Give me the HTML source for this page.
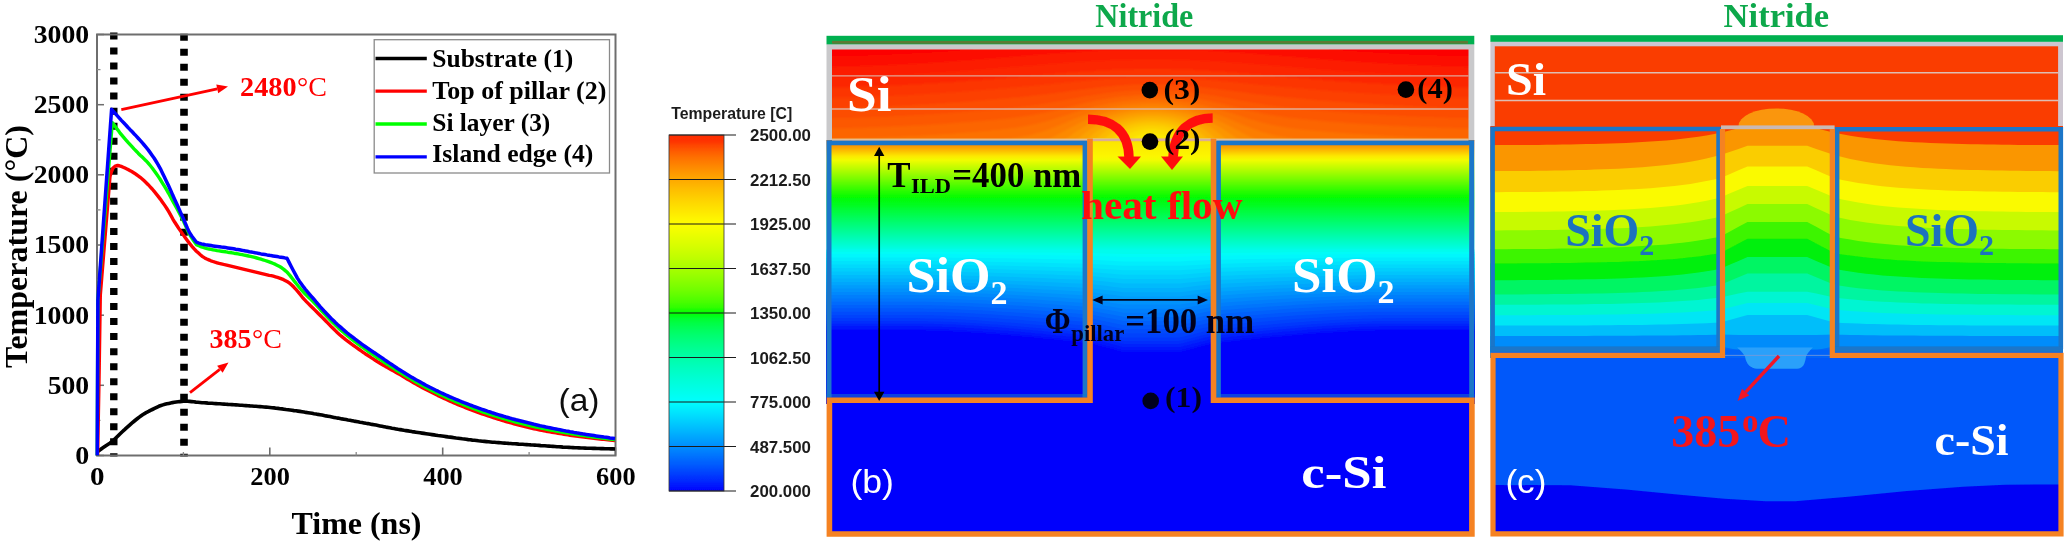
<!DOCTYPE html>
<html><head><meta charset="utf-8"><title>figure</title>
<style>
html,body{margin:0;padding:0;background:#fff;}
body{width:2066px;height:542px;overflow:hidden;font-family:"Liberation Sans",sans-serif;}
svg{display:block;}
</style></head><body>
<svg width="2066" height="542" viewBox="0 0 2066 542">
<defs><filter id="soft" filterUnits="userSpaceOnUse" x="-10" y="-10" width="2086" height="562"><feGaussianBlur stdDeviation="0.6"/></filter></defs>
<rect x="-10" y="-10" width="2086" height="562" fill="#ffffff"/>
<g filter="url(#soft)">
<rect x="-10" y="-10" width="2086" height="562" fill="#ffffff"/>
<line x1="113.8" y1="32.5" x2="113.8" y2="456.5" stroke="#000" stroke-width="7.4" stroke-dasharray="7 8.03"/>
<line x1="184.0" y1="33.8" x2="184.0" y2="456.5" stroke="#000" stroke-width="7.6" stroke-dasharray="7 8"/>
<rect x="97.0" y="34.5" width="518.5" height="421.0" fill="none" stroke="#6e6e6e" stroke-width="2"/>
<line x1="97.0" y1="455.5" x2="104.0" y2="455.5" stroke="#6e6e6e" stroke-width="1.5"/>
<line x1="97.0" y1="385.3" x2="104.0" y2="385.3" stroke="#6e6e6e" stroke-width="1.5"/>
<line x1="97.0" y1="315.2" x2="104.0" y2="315.2" stroke="#6e6e6e" stroke-width="1.5"/>
<line x1="97.0" y1="245.0" x2="104.0" y2="245.0" stroke="#6e6e6e" stroke-width="1.5"/>
<line x1="97.0" y1="174.8" x2="104.0" y2="174.8" stroke="#6e6e6e" stroke-width="1.5"/>
<line x1="97.0" y1="104.7" x2="104.0" y2="104.7" stroke="#6e6e6e" stroke-width="1.5"/>
<line x1="97.0" y1="34.5" x2="104.0" y2="34.5" stroke="#6e6e6e" stroke-width="1.5"/>
<line x1="97.0" y1="420.4" x2="100.5" y2="420.4" stroke="#8a8a8a" stroke-width="1.3"/>
<line x1="97.0" y1="350.2" x2="100.5" y2="350.2" stroke="#8a8a8a" stroke-width="1.3"/>
<line x1="97.0" y1="280.1" x2="100.5" y2="280.1" stroke="#8a8a8a" stroke-width="1.3"/>
<line x1="97.0" y1="209.9" x2="100.5" y2="209.9" stroke="#8a8a8a" stroke-width="1.3"/>
<line x1="97.0" y1="139.8" x2="100.5" y2="139.8" stroke="#8a8a8a" stroke-width="1.3"/>
<line x1="97.0" y1="69.6" x2="100.5" y2="69.6" stroke="#8a8a8a" stroke-width="1.3"/>
<line x1="97.0" y1="455.5" x2="97.0" y2="447.5" stroke="#6e6e6e" stroke-width="1.6"/>
<line x1="269.8" y1="455.5" x2="269.8" y2="447.5" stroke="#6e6e6e" stroke-width="1.6"/>
<line x1="442.7" y1="455.5" x2="442.7" y2="447.5" stroke="#6e6e6e" stroke-width="1.6"/>
<line x1="615.5" y1="455.5" x2="615.5" y2="447.5" stroke="#6e6e6e" stroke-width="1.6"/>
<line x1="183.4" y1="455.5" x2="183.4" y2="452.0" stroke="#8a8a8a" stroke-width="1.3"/>
<line x1="356.2" y1="455.5" x2="356.2" y2="452.0" stroke="#8a8a8a" stroke-width="1.3"/>
<line x1="529.1" y1="455.5" x2="529.1" y2="452.0" stroke="#8a8a8a" stroke-width="1.3"/>
<path d="M97.0,452.0 L98.8,450.7 L100.5,449.5 L102.2,448.2 L104.0,447.0 L105.9,445.7 L107.8,444.5 L109.8,443.2 L111.7,441.8 L113.8,440.1 L115.8,438.1 L117.9,436.0 L119.9,434.0 L122.0,432.0 L124.0,430.2 L125.9,428.4 L127.9,426.6 L129.9,424.8 L131.8,423.1 L133.8,421.5 L135.6,420.0 L137.5,418.5 L139.3,417.1 L141.2,415.7 L143.0,414.5 L144.9,413.4 L146.7,412.3 L148.6,411.4 L150.4,410.4 L152.3,409.5 L154.5,408.4 L156.7,407.3 L158.8,406.3 L161.0,405.5 L162.9,404.9 L164.9,404.3 L166.8,403.8 L168.8,403.4 L170.7,403.0 L172.5,402.6 L174.3,402.3 L176.2,402.0 L178.0,401.8 L179.9,401.6 L181.8,401.4 L183.6,401.3 L185.5,401.2 L187.6,401.3 L189.6,401.4 L191.7,401.6 L193.8,401.8 L195.9,402.1 L197.9,402.3 L200.0,402.5 L202.0,402.7 L204.0,402.8 L206.0,402.9 L208.0,403.1 L210.0,403.2 L212.0,403.3 L214.0,403.5 L216.0,403.6 L218.0,403.7 L220.0,403.8 L222.0,404.0 L224.0,404.1 L226.0,404.2 L228.0,404.4 L230.0,404.5 L232.0,404.6 L234.0,404.8 L236.0,404.9 L238.0,405.0 L240.0,405.2 L242.0,405.3 L244.0,405.5 L246.0,405.6 L248.0,405.7 L250.0,405.9 L252.0,406.0 L254.0,406.2 L256.0,406.3 L258.0,406.5 L260.0,406.6 L262.0,406.8 L264.0,407.0 L266.0,407.1 L268.0,407.3 L270.0,407.5 L272.0,407.7 L274.0,407.9 L276.0,408.2 L278.0,408.4 L280.0,408.7 L282.0,408.9 L284.0,409.2 L286.0,409.5 L288.0,409.7 L290.0,410.0 L292.0,410.3 L294.0,410.6 L296.0,410.8 L298.0,411.1 L300.0,411.4 L302.0,411.7 L304.0,412.0 L306.0,412.4 L308.0,412.7 L310.0,413.0 L312.0,413.3 L314.0,413.7 L316.0,414.0 L318.0,414.4 L320.0,414.7 L322.0,415.1 L324.0,415.5 L326.0,415.9 L328.0,416.2 L330.0,416.6 L332.0,417.0 L334.0,417.4 L336.0,417.8 L338.0,418.1 L340.0,418.5 L342.0,418.9 L344.0,419.2 L346.0,419.6 L348.0,420.0 L350.0,420.3 L352.0,420.7 L354.0,421.1 L356.0,421.4 L358.0,421.8 L360.0,422.2 L362.0,422.5 L364.0,422.9 L366.0,423.3 L368.0,423.6 L370.0,424.0 L372.0,424.4 L374.0,424.7 L376.0,425.1 L378.0,425.5 L380.0,425.9 L382.0,426.3 L384.0,426.7 L386.0,427.1 L388.0,427.4 L390.0,427.8 L392.0,428.2 L394.0,428.5 L396.0,428.9 L398.0,429.3 L400.0,429.6 L402.0,429.9 L404.0,430.3 L406.0,430.6 L408.0,430.9 L410.0,431.2 L412.0,431.6 L414.0,431.9 L416.0,432.2 L418.0,432.5 L420.0,432.8 L422.0,433.1 L424.0,433.4 L426.0,433.7 L428.0,434.0 L430.0,434.3 L432.0,434.6 L434.0,434.9 L436.0,435.2 L438.0,435.5 L440.0,435.7 L442.0,436.0 L444.0,436.3 L446.0,436.6 L448.0,436.9 L450.1,437.1 L452.1,437.4 L454.1,437.7 L456.1,438.0 L458.2,438.2 L460.2,438.5 L462.2,438.8 L464.2,439.0 L466.2,439.3 L468.3,439.6 L470.3,439.8 L472.3,440.1 L474.3,440.3 L476.4,440.5 L478.4,440.8 L480.4,441.0 L482.4,441.2 L484.5,441.4 L486.5,441.6 L488.5,441.8 L490.5,442.0 L492.5,442.2 L494.5,442.3 L496.6,442.5 L498.6,442.6 L500.6,442.8 L502.6,443.0 L504.6,443.1 L506.6,443.2 L508.6,443.4 L510.6,443.5 L512.7,443.7 L514.7,443.8 L516.7,443.9 L518.7,444.1 L520.7,444.2 L522.7,444.3 L524.7,444.5 L526.8,444.6 L528.8,444.7 L530.8,444.9 L532.8,445.0 L534.8,445.1 L536.8,445.3 L538.8,445.4 L540.8,445.6 L542.8,445.7 L544.9,445.8 L546.9,446.0 L548.9,446.1 L550.9,446.3 L552.9,446.4 L554.9,446.5 L556.9,446.7 L558.9,446.8 L560.9,446.9 L562.9,447.1 L564.9,447.2 L567.0,447.3 L569.0,447.4 L571.0,447.5 L573.0,447.6 L575.0,447.7 L577.0,447.8 L579.0,447.9 L581.0,448.0 L583.0,448.0 L585.0,448.1 L587.0,448.2 L589.0,448.2 L591.0,448.3 L593.0,448.4 L595.0,448.4 L597.0,448.5 L599.0,448.5 L601.0,448.6 L603.0,448.6 L605.0,448.7 L607.0,448.8 L609.0,448.8 L611.0,448.9 L613.0,448.9 L615.0,449.0" fill="none" stroke="#000000" stroke-width="3.6" stroke-linejoin="round" stroke-linecap="butt"/>
<path d="M97.6,455.5 L99.0,380.0 L100.3,295.0 L110.0,176.4 L111.5,171.5 L113.0,168.0 L115.3,166.2 L117.6,165.5 L119.4,165.8 L121.3,166.4 L123.2,167.2 L125.0,168.1 L126.9,169.0 L128.8,169.9 L130.7,170.9 L132.5,172.0 L134.4,173.2 L136.3,174.5 L138.2,175.8 L140.2,177.3 L142.2,179.0 L144.2,180.8 L146.2,182.7 L148.2,184.7 L150.2,186.8 L152.2,189.0 L154.2,191.4 L156.2,193.9 L158.2,196.4 L160.3,199.1 L162.3,201.9 L164.4,204.9 L166.5,208.0 L168.6,211.4 L170.7,215.1 L172.7,218.8 L174.8,222.3 L176.9,225.5 L178.9,228.6 L181.0,231.6 L183.1,234.6 L185.3,237.7 L187.5,240.7 L189.7,243.6 L191.9,246.3 L194.2,248.9 L196.4,251.2 L198.5,253.1 L200.6,255.0 L202.6,256.6 L204.7,257.9 L206.8,259.0 L208.8,259.9 L210.9,260.8 L212.9,261.5 L215.0,262.2 L217.1,262.8 L219.2,263.4 L221.3,263.9 L223.5,264.4 L225.6,264.8 L227.7,265.3 L229.8,265.8 L231.9,266.3 L234.0,266.8 L236.0,267.3 L238.1,267.8 L240.2,268.3 L242.2,268.8 L244.3,269.3 L246.4,269.8 L248.5,270.3 L250.6,270.8 L252.6,271.3 L254.7,271.8 L256.8,272.3 L258.9,272.8 L260.9,273.3 L263.0,273.8 L265.1,274.3 L267.1,274.8 L269.2,275.3 L271.3,275.7 L273.4,276.2 L275.5,276.8 L277.5,277.4 L279.6,278.1 L281.6,278.9 L283.6,279.7 L285.5,280.7 L287.5,281.8 L289.5,283.1 L291.7,285.0 L294.0,287.3 L296.2,289.7 L298.3,292.1 L300.4,294.7 L302.4,297.3 L304.5,299.7 L306.6,301.9 L308.6,303.9 L310.7,306.0 L312.8,308.0 L314.7,309.9 L316.6,311.8 L318.5,313.7 L320.3,315.5 L322.2,317.4 L324.1,319.3 L326.0,321.2 L327.9,323.1 L329.8,325.1 L331.7,327.1 L333.7,329.0 L335.6,330.9 L337.5,332.8 L339.4,334.5 L341.4,336.2 L343.4,337.8 L345.3,339.4 L347.3,340.9 L349.3,342.4 L351.3,343.9 L353.3,345.3 L355.2,346.7 L357.2,348.1 L359.2,349.5 L361.2,350.9 L363.2,352.3 L365.2,353.7 L367.2,355.0 L369.2,356.3 L371.2,357.6 L373.2,358.9 L375.2,360.2 L377.2,361.5 L379.2,362.7 L381.3,364.0 L383.4,365.2 L385.4,366.4 L387.5,367.5 L389.6,368.7 L391.7,369.9 L393.8,371.0 L395.8,372.2 L397.9,373.4 L400.0,374.6 L402.0,375.8 L404.0,377.0 L406.0,378.2 L408.0,379.5 L410.0,380.6 L412.0,381.8 L414.0,383.0 L416.0,384.1 L418.0,385.2 L420.0,386.3 L422.0,387.4 L424.0,388.5 L426.0,389.6 L428.0,390.6 L430.0,391.6 L432.0,392.6 L434.0,393.6 L436.0,394.6 L438.0,395.6 L440.0,396.5 L442.0,397.5 L444.0,398.4 L446.0,399.3 L448.0,400.2 L450.0,401.1 L452.0,402.0 L454.0,402.9 L456.0,403.7 L458.0,404.6 L460.0,405.4 L462.0,406.2 L464.0,407.0 L466.0,407.8 L468.0,408.6 L470.0,409.4 L472.0,410.1 L474.0,410.9 L476.0,411.6 L478.0,412.4 L480.0,413.1 L482.0,413.8 L484.0,414.5 L486.0,415.2 L488.0,415.8 L490.0,416.5 L492.0,417.2 L494.0,417.8 L496.0,418.4 L498.0,419.1 L500.0,419.7 L502.0,420.3 L504.0,420.9 L506.0,421.5 L508.0,422.1 L510.0,422.6 L512.0,423.2 L514.0,423.8 L516.0,424.3 L518.0,424.8 L520.0,425.4 L522.0,425.9 L524.0,426.4 L526.0,426.9 L528.0,427.4 L530.0,427.9 L532.0,428.4 L534.0,428.8 L536.0,429.2 L538.0,429.6 L540.0,430.0 L542.0,430.4 L544.0,430.8 L546.0,431.2 L548.0,431.5 L550.0,431.9 L552.0,432.3 L554.0,432.6 L556.0,432.9 L558.0,433.3 L560.0,433.6 L562.0,433.9 L564.0,434.3 L566.0,434.6 L568.0,434.9 L570.0,435.2 L572.0,435.5 L574.0,435.8 L576.0,436.1 L578.0,436.3 L580.0,436.6 L582.0,436.9 L584.0,437.1 L586.0,437.4 L588.0,437.6 L590.0,437.9 L592.0,438.1 L594.0,438.3 L596.0,438.6 L598.0,438.8 L600.0,439.0 L602.0,439.2 L604.0,439.4 L606.0,439.6 L608.0,439.8 L610.0,440.0 L612.5,440.3 L615.0,440.5" fill="none" stroke="#ff0000" stroke-width="3.4" stroke-linejoin="round" stroke-linecap="butt"/>
<path d="M97.2,455.5 L97.9,300.0 L112.3,122.6 L114.2,125.1 L116.0,127.6 L117.9,130.1 L119.7,132.6 L121.6,134.9 L123.7,137.4 L125.8,139.8 L127.8,142.1 L129.9,144.4 L132.0,146.7 L134.0,148.9 L136.1,151.0 L138.2,153.2 L140.2,155.2 L142.2,157.1 L144.2,159.0 L146.2,160.9 L148.2,163.1 L150.2,165.5 L152.2,168.0 L154.2,170.7 L156.2,173.5 L158.2,176.4 L160.3,179.5 L162.3,182.8 L164.4,186.2 L166.5,189.7 L168.6,193.3 L170.7,197.1 L172.7,200.9 L174.8,204.7 L176.9,208.5 L178.9,212.3 L181.0,216.2 L183.1,220.3 L185.3,225.1 L187.5,230.2 L189.7,234.6 L191.9,238.2 L194.2,241.4 L196.4,244.6 L198.9,245.8 L201.4,246.9 L203.3,247.5 L205.3,248.1 L207.2,248.6 L209.2,249.0 L211.1,249.4 L213.1,249.8 L215.0,250.2 L217.1,250.6 L219.2,250.9 L221.3,251.2 L223.5,251.5 L225.6,251.8 L227.7,252.2 L229.8,252.5 L231.9,252.8 L234.0,253.2 L236.0,253.5 L238.1,253.9 L240.2,254.3 L242.2,254.7 L244.3,255.1 L246.4,255.5 L248.5,256.0 L250.6,256.4 L252.6,256.9 L254.7,257.4 L256.8,258.0 L258.9,258.6 L260.9,259.2 L263.0,259.8 L265.1,260.5 L267.1,261.2 L269.2,261.9 L271.3,262.7 L273.4,263.5 L275.5,264.4 L277.5,265.4 L279.6,266.5 L281.7,267.8 L283.8,269.4 L285.8,271.1 L287.9,273.1 L290.1,275.6 L292.3,278.5 L294.5,281.4 L296.6,284.0 L298.6,286.5 L300.7,289.0 L302.8,291.4 L304.8,293.5 L306.8,295.5 L308.8,297.4 L310.8,299.3 L312.8,301.3 L314.7,303.3 L316.6,305.3 L318.5,307.4 L320.3,309.5 L322.2,311.6 L324.1,313.6 L326.0,315.6 L327.9,317.6 L329.8,319.6 L331.7,321.5 L333.7,323.4 L335.6,325.3 L337.5,327.1 L339.4,328.9 L341.4,330.6 L343.4,332.3 L345.3,334.0 L347.3,335.6 L349.3,337.2 L351.3,338.8 L353.3,340.3 L355.2,341.8 L357.2,343.3 L359.2,344.8 L361.2,346.3 L363.2,347.7 L365.2,349.2 L367.2,350.6 L369.2,352.0 L371.2,353.4 L373.2,354.7 L375.2,356.1 L377.2,357.5 L379.2,358.8 L381.3,360.2 L383.4,361.6 L385.4,363.0 L387.5,364.3 L389.6,365.7 L391.7,367.0 L393.8,368.3 L395.8,369.7 L397.9,371.0 L400.0,372.3 L402.0,373.6 L404.0,374.8 L406.0,376.0 L408.0,377.2 L410.0,378.4 L412.0,379.6 L414.0,380.8 L416.0,381.9 L418.0,383.0 L420.0,384.1 L422.0,385.2 L424.0,386.3 L426.0,387.4 L428.0,388.4 L430.0,389.4 L432.0,390.5 L434.0,391.5 L436.0,392.4 L438.0,393.4 L440.0,394.4 L442.0,395.3 L444.0,396.2 L446.0,397.2 L448.0,398.1 L450.0,399.0 L452.0,399.8 L454.0,400.7 L456.0,401.6 L458.0,402.4 L460.0,403.2 L462.0,404.0 L464.0,404.8 L466.0,405.6 L468.0,406.4 L470.0,407.2 L472.0,407.9 L474.0,408.7 L476.0,409.4 L478.0,410.1 L480.0,410.9 L482.0,411.6 L484.0,412.3 L486.0,412.9 L488.0,413.6 L490.0,414.3 L492.0,414.9 L494.0,415.6 L496.0,416.2 L498.0,416.8 L500.0,417.4 L502.0,418.0 L504.0,418.6 L506.0,419.2 L508.0,419.8 L510.0,420.4 L512.0,420.9 L514.0,421.5 L516.0,422.0 L518.0,422.6 L520.0,423.1 L522.0,423.6 L524.0,424.1 L526.0,424.6 L528.0,425.1 L530.0,425.6 L532.0,426.1 L534.0,426.5 L536.0,427.0 L538.0,427.4 L540.0,427.8 L542.0,428.3 L544.0,428.7 L546.0,429.1 L548.0,429.5 L550.0,429.9 L552.0,430.2 L554.0,430.6 L556.0,431.0 L558.0,431.4 L560.0,431.7 L562.0,432.1 L564.0,432.4 L566.0,432.8 L568.0,433.1 L570.0,433.4 L572.0,433.8 L574.0,434.1 L576.0,434.4 L578.0,434.7 L580.0,435.0 L582.0,435.3 L584.0,435.6 L586.0,435.9 L588.0,436.2 L590.0,436.4 L592.0,436.7 L594.0,437.0 L596.0,437.2 L598.0,437.5 L600.0,437.8 L602.0,438.0 L604.0,438.2 L606.0,438.5 L608.0,438.7 L610.0,439.0 L612.5,439.2 L615.0,439.5" fill="none" stroke="#00ff00" stroke-width="3.4" stroke-linejoin="round" stroke-linecap="butt"/>
<path d="M97.2,455.5 L97.9,300.0 L111.6,109.3 L113.6,111.6 L115.6,113.9 L117.6,116.1 L119.6,118.4 L121.6,120.6 L123.7,122.8 L125.8,125.0 L127.8,127.2 L129.9,129.4 L132.0,131.5 L134.0,133.7 L136.1,135.9 L138.2,138.2 L140.2,140.4 L142.2,142.7 L144.2,145.0 L146.2,147.4 L148.2,149.9 L150.2,152.6 L152.2,155.4 L154.2,158.3 L156.2,161.5 L158.2,164.8 L160.3,168.6 L162.3,172.7 L164.4,177.0 L166.5,181.4 L168.6,185.8 L170.7,190.4 L172.7,195.1 L174.8,199.7 L176.9,204.3 L178.9,208.8 L181.0,213.4 L183.1,218.0 L185.3,223.2 L187.5,228.4 L189.7,232.9 L191.9,236.3 L194.2,239.3 L196.4,242.2 L198.9,243.1 L201.4,243.9 L203.3,244.3 L205.3,244.7 L207.2,245.0 L209.2,245.3 L211.1,245.6 L213.1,245.9 L215.0,246.2 L217.1,246.5 L219.2,246.8 L221.3,247.1 L223.5,247.3 L225.6,247.6 L227.7,247.9 L229.8,248.2 L231.8,248.5 L233.7,248.8 L235.7,249.2 L237.6,249.5 L239.6,249.8 L241.5,250.2 L243.5,250.6 L245.4,250.9 L247.4,251.3 L249.3,251.7 L251.3,252.0 L253.2,252.4 L255.2,252.8 L257.1,253.1 L259.1,253.5 L261.0,253.9 L263.0,254.2 L265.0,254.5 L267.0,254.9 L269.0,255.2 L271.0,255.6 L273.0,255.9 L275.0,256.2 L277.0,256.5 L279.0,256.9 L281.0,257.2 L283.0,257.5 L285.0,257.9 L287.0,258.2 L289.1,262.4 L291.2,266.5 L293.3,270.5 L295.4,274.4 L297.4,278.1 L299.5,281.4 L301.4,284.1 L303.3,286.7 L305.2,289.1 L307.1,291.3 L309.0,293.6 L310.9,295.8 L312.8,298.0 L314.7,300.2 L316.6,302.5 L318.5,304.6 L320.3,306.8 L322.2,308.9 L324.1,311.0 L326.0,313.0 L327.9,315.0 L329.8,317.0 L331.7,318.9 L333.7,320.8 L335.6,322.7 L337.5,324.5 L339.4,326.2 L341.4,327.9 L343.4,329.7 L345.3,331.3 L347.3,333.0 L349.3,334.6 L351.3,336.1 L353.3,337.7 L355.2,339.2 L357.2,340.7 L359.2,342.2 L361.2,343.7 L363.2,345.1 L365.2,346.5 L367.2,347.9 L369.2,349.3 L371.2,350.6 L373.2,352.0 L375.2,353.3 L377.2,354.6 L379.2,356.0 L381.3,357.4 L383.4,358.8 L385.4,360.3 L387.5,361.7 L389.6,363.1 L391.7,364.5 L393.8,365.9 L395.8,367.3 L397.9,368.7 L400.0,370.0 L402.0,371.3 L404.0,372.5 L406.0,373.8 L408.0,375.0 L410.0,376.2 L412.0,377.4 L414.0,378.5 L416.0,379.7 L418.0,380.8 L420.0,381.9 L422.0,383.0 L424.0,384.1 L426.0,385.2 L428.0,386.2 L430.0,387.3 L432.0,388.3 L434.0,389.3 L436.0,390.3 L438.0,391.2 L440.0,392.2 L442.0,393.2 L444.0,394.1 L446.0,395.0 L448.0,395.9 L450.0,396.8 L452.0,397.7 L454.0,398.5 L456.0,399.4 L458.0,400.2 L460.0,401.0 L462.0,401.9 L464.0,402.7 L466.0,403.4 L468.0,404.2 L470.0,405.0 L472.0,405.7 L474.0,406.5 L476.0,407.2 L478.0,407.9 L480.0,408.6 L482.0,409.3 L484.0,410.0 L486.0,410.7 L488.0,411.4 L490.0,412.0 L492.0,412.7 L494.0,413.3 L496.0,414.0 L498.0,414.6 L500.0,415.2 L502.0,415.8 L504.0,416.4 L506.0,417.0 L508.0,417.5 L510.0,418.1 L512.0,418.7 L514.0,419.2 L516.0,419.8 L518.0,420.3 L520.0,420.8 L522.0,421.3 L524.0,421.8 L526.0,422.3 L528.0,422.8 L530.0,423.3 L532.0,423.8 L534.0,424.3 L536.0,424.7 L538.0,425.2 L540.0,425.7 L542.0,426.1 L544.0,426.5 L546.0,427.0 L548.0,427.4 L550.0,427.8 L552.0,428.2 L554.0,428.6 L556.0,429.0 L558.0,429.4 L560.0,429.8 L562.0,430.2 L564.0,430.6 L566.0,431.0 L568.0,431.3 L570.0,431.7 L572.0,432.0 L574.0,432.4 L576.0,432.7 L578.0,433.1 L580.0,433.4 L582.0,433.7 L584.0,434.1 L586.0,434.4 L588.0,434.7 L590.0,435.0 L592.0,435.3 L594.0,435.6 L596.0,435.9 L598.0,436.2 L600.0,436.5 L602.0,436.8 L604.0,437.1 L606.0,437.3 L608.0,437.6 L610.0,437.9 L612.5,438.2 L615.0,438.5" fill="none" stroke="#0000ff" stroke-width="3.5" stroke-linejoin="round" stroke-linecap="butt"/>
<text x="89.2" y="463.8" font-family='"Liberation Serif", serif' font-size="25" font-weight="bold" fill="#000" text-anchor="end" textLength="14" lengthAdjust="spacingAndGlyphs" >0</text>
<text x="89.2" y="393.6" font-family='"Liberation Serif", serif' font-size="25" font-weight="bold" fill="#000" text-anchor="end" textLength="41.5" lengthAdjust="spacingAndGlyphs" >500</text>
<text x="89.2" y="323.5" font-family='"Liberation Serif", serif' font-size="25" font-weight="bold" fill="#000" text-anchor="end" textLength="55.5" lengthAdjust="spacingAndGlyphs" >1000</text>
<text x="89.2" y="253.3" font-family='"Liberation Serif", serif' font-size="25" font-weight="bold" fill="#000" text-anchor="end" textLength="55.5" lengthAdjust="spacingAndGlyphs" >1500</text>
<text x="89.2" y="183.1" font-family='"Liberation Serif", serif' font-size="25" font-weight="bold" fill="#000" text-anchor="end" textLength="55.5" lengthAdjust="spacingAndGlyphs" >2000</text>
<text x="89.2" y="113.0" font-family='"Liberation Serif", serif' font-size="25" font-weight="bold" fill="#000" text-anchor="end" textLength="55.5" lengthAdjust="spacingAndGlyphs" >2500</text>
<text x="89.2" y="42.8" font-family='"Liberation Serif", serif' font-size="25" font-weight="bold" fill="#000" text-anchor="end" textLength="55.5" lengthAdjust="spacingAndGlyphs" >3000</text>
<text x="97.3" y="485" font-family='"Liberation Serif", serif' font-size="26" font-weight="bold" fill="#000" text-anchor="middle" textLength="14.5" lengthAdjust="spacingAndGlyphs" >0</text>
<text x="270.1" y="485" font-family='"Liberation Serif", serif' font-size="26" font-weight="bold" fill="#000" text-anchor="middle" textLength="39.5" lengthAdjust="spacingAndGlyphs" >200</text>
<text x="443.0" y="485" font-family='"Liberation Serif", serif' font-size="26" font-weight="bold" fill="#000" text-anchor="middle" textLength="39.5" lengthAdjust="spacingAndGlyphs" >400</text>
<text x="615.8" y="485" font-family='"Liberation Serif", serif' font-size="26" font-weight="bold" fill="#000" text-anchor="middle" textLength="39.5" lengthAdjust="spacingAndGlyphs" >600</text>
<text x="356.5" y="533.6" font-family='"Liberation Serif", serif' font-size="32" font-weight="bold" fill="#000" text-anchor="middle" textLength="130" lengthAdjust="spacingAndGlyphs" >Time (ns)</text>
<text transform="translate(27,246.5) rotate(-90)" font-family='"Liberation Serif", serif' font-size="32" font-weight="bold" text-anchor="middle" textLength="243" lengthAdjust="spacingAndGlyphs">Temperature (°C)</text>
<rect x="374.2" y="39.7" width="235.3" height="133.3" fill="#fff" stroke="#8a8a8a" stroke-width="1.3"/>
<line x1="375.5" y1="58.5" x2="426.8" y2="58.5" stroke="#000" stroke-width="3.3"/>
<text x="432.3" y="66.8" font-family='"Liberation Serif", serif' font-size="25.5" font-weight="bold" fill="#000" text-anchor="start" textLength="141" lengthAdjust="spacingAndGlyphs" >Substrate (1)</text>
<line x1="375.5" y1="91.2" x2="426.8" y2="91.2" stroke="#ff0000" stroke-width="3.3"/>
<text x="432.3" y="98.7" font-family='"Liberation Serif", serif' font-size="25.5" font-weight="bold" fill="#000" text-anchor="start" textLength="174" lengthAdjust="spacingAndGlyphs" >Top of pillar (2)</text>
<line x1="375.5" y1="124.0" x2="426.8" y2="124.0" stroke="#00ff00" stroke-width="3.3"/>
<text x="432.3" y="130.5" font-family='"Liberation Serif", serif' font-size="25.5" font-weight="bold" fill="#000" text-anchor="start" textLength="118" lengthAdjust="spacingAndGlyphs" >Si layer (3)</text>
<line x1="375.5" y1="156.8" x2="426.8" y2="156.8" stroke="#0000ff" stroke-width="3.3"/>
<text x="432.3" y="162.4" font-family='"Liberation Serif", serif' font-size="25.5" font-weight="bold" fill="#000" text-anchor="start" textLength="161" lengthAdjust="spacingAndGlyphs" >Island edge (4)</text>
<line x1="121.3" y1="109.7" x2="217.3" y2="88.8" stroke="#ff0000" stroke-width="2.8"/>
<polygon points="228.0,86.5 218.2,93.2 216.3,84.4" fill="#ff0000"/>
<line x1="190.0" y1="392.7" x2="219.8" y2="369.3" stroke="#ff0000" stroke-width="2.8"/>
<polygon points="228.5,362.5 222.6,372.8 217.1,365.7" fill="#ff0000"/>
<text x="240" y="95.9" font-family='"Liberation Serif", serif' font-size="28" fill="#ff0000"><tspan font-weight="bold" textLength="56.5" lengthAdjust="spacingAndGlyphs">2480</tspan><tspan font-weight="normal" dx="0.5">°C</tspan></text>
<text x="209.5" y="348" font-family='"Liberation Serif", serif' font-size="28" fill="#ff0000"><tspan font-weight="bold" textLength="42" lengthAdjust="spacingAndGlyphs">385</tspan><tspan font-weight="normal" dx="0.5">°C</tspan></text>
<text x="558.5" y="410.6" font-family='"Liberation Sans", sans-serif' font-size="31.5" font-weight="normal" fill="#111" text-anchor="start" textLength="41" lengthAdjust="spacingAndGlyphs" >(a)</text>
<defs><linearGradient id="cbg" x1="0" y1="0" x2="0" y2="1">
<stop offset="0.0000" stop-color="#fe2f00"/>
<stop offset="0.0156" stop-color="#fe3000"/>
<stop offset="0.0312" stop-color="#fe4900"/>
<stop offset="0.0469" stop-color="#fe5d00"/>
<stop offset="0.0625" stop-color="#fe6f00"/>
<stop offset="0.0781" stop-color="#fe7e00"/>
<stop offset="0.0938" stop-color="#fe8d00"/>
<stop offset="0.1094" stop-color="#fe9b00"/>
<stop offset="0.1250" stop-color="#fea800"/>
<stop offset="0.1406" stop-color="#feb400"/>
<stop offset="0.1562" stop-color="#fec000"/>
<stop offset="0.1719" stop-color="#fecb00"/>
<stop offset="0.1875" stop-color="#fed600"/>
<stop offset="0.2031" stop-color="#fee000"/>
<stop offset="0.2188" stop-color="#feea00"/>
<stop offset="0.2344" stop-color="#fef400"/>
<stop offset="0.2500" stop-color="#fefe00"/>
<stop offset="0.2656" stop-color="#f4fe00"/>
<stop offset="0.2812" stop-color="#eafe00"/>
<stop offset="0.2969" stop-color="#e0fe00"/>
<stop offset="0.3125" stop-color="#d6fe00"/>
<stop offset="0.3281" stop-color="#cbfe00"/>
<stop offset="0.3438" stop-color="#c0fe00"/>
<stop offset="0.3594" stop-color="#b4fe00"/>
<stop offset="0.3750" stop-color="#a8fe00"/>
<stop offset="0.3906" stop-color="#9bfe00"/>
<stop offset="0.4062" stop-color="#8dfe00"/>
<stop offset="0.4219" stop-color="#7efe00"/>
<stop offset="0.4375" stop-color="#6ffe00"/>
<stop offset="0.4531" stop-color="#5dfe00"/>
<stop offset="0.4688" stop-color="#49fe00"/>
<stop offset="0.4844" stop-color="#30fe00"/>
<stop offset="0.5000" stop-color="#00fe00"/>
<stop offset="0.5156" stop-color="#00fe30"/>
<stop offset="0.5312" stop-color="#00fe49"/>
<stop offset="0.5469" stop-color="#00fe5d"/>
<stop offset="0.5625" stop-color="#00fe6f"/>
<stop offset="0.5781" stop-color="#00fe7e"/>
<stop offset="0.5938" stop-color="#00fe8d"/>
<stop offset="0.6094" stop-color="#00fe9b"/>
<stop offset="0.6250" stop-color="#00fea8"/>
<stop offset="0.6406" stop-color="#00feb4"/>
<stop offset="0.6562" stop-color="#00fec0"/>
<stop offset="0.6719" stop-color="#00fecb"/>
<stop offset="0.6875" stop-color="#00fed6"/>
<stop offset="0.7031" stop-color="#00fee0"/>
<stop offset="0.7188" stop-color="#00feea"/>
<stop offset="0.7344" stop-color="#00fef4"/>
<stop offset="0.7500" stop-color="#00fefe"/>
<stop offset="0.7656" stop-color="#00f0fe"/>
<stop offset="0.7812" stop-color="#00e3fe"/>
<stop offset="0.7969" stop-color="#00d5fe"/>
<stop offset="0.8125" stop-color="#00c7fe"/>
<stop offset="0.8281" stop-color="#00b9fe"/>
<stop offset="0.8438" stop-color="#00aafe"/>
<stop offset="0.8594" stop-color="#009cfe"/>
<stop offset="0.8750" stop-color="#008dfe"/>
<stop offset="0.8906" stop-color="#007efe"/>
<stop offset="0.9062" stop-color="#006efe"/>
<stop offset="0.9219" stop-color="#005ffe"/>
<stop offset="0.9375" stop-color="#004efe"/>
<stop offset="0.9531" stop-color="#003dfe"/>
<stop offset="0.9688" stop-color="#002bfe"/>
<stop offset="0.9844" stop-color="#0018fe"/>
<stop offset="1.0000" stop-color="#0000fe"/>
</linearGradient></defs>
<rect x="669.0" y="135.0" width="55.0" height="356.0" fill="url(#cbg)"/>
<line x1="669.0" y1="135.0" x2="736" y2="135.0" stroke="#1a1a1a" stroke-width="1.2"/>
<text x="750" y="141.1" font-family='"Liberation Sans", sans-serif' font-size="17" font-weight="bold" fill="#1c1c1c" text-anchor="start" textLength="61" lengthAdjust="spacingAndGlyphs" >2500.00</text>
<line x1="669.0" y1="179.5" x2="736" y2="179.5" stroke="#1a1a1a" stroke-width="1.2"/>
<text x="750" y="185.6" font-family='"Liberation Sans", sans-serif' font-size="17" font-weight="bold" fill="#1c1c1c" text-anchor="start" textLength="61" lengthAdjust="spacingAndGlyphs" >2212.50</text>
<line x1="669.0" y1="224.0" x2="736" y2="224.0" stroke="#1a1a1a" stroke-width="1.2"/>
<text x="750" y="230.1" font-family='"Liberation Sans", sans-serif' font-size="17" font-weight="bold" fill="#1c1c1c" text-anchor="start" textLength="61" lengthAdjust="spacingAndGlyphs" >1925.00</text>
<line x1="669.0" y1="268.5" x2="736" y2="268.5" stroke="#1a1a1a" stroke-width="1.2"/>
<text x="750" y="274.6" font-family='"Liberation Sans", sans-serif' font-size="17" font-weight="bold" fill="#1c1c1c" text-anchor="start" textLength="61" lengthAdjust="spacingAndGlyphs" >1637.50</text>
<line x1="669.0" y1="313.0" x2="736" y2="313.0" stroke="#1a1a1a" stroke-width="1.2"/>
<text x="750" y="319.1" font-family='"Liberation Sans", sans-serif' font-size="17" font-weight="bold" fill="#1c1c1c" text-anchor="start" textLength="61" lengthAdjust="spacingAndGlyphs" >1350.00</text>
<line x1="669.0" y1="357.5" x2="736" y2="357.5" stroke="#1a1a1a" stroke-width="1.2"/>
<text x="750" y="363.6" font-family='"Liberation Sans", sans-serif' font-size="17" font-weight="bold" fill="#1c1c1c" text-anchor="start" textLength="61" lengthAdjust="spacingAndGlyphs" >1062.50</text>
<line x1="669.0" y1="402.0" x2="736" y2="402.0" stroke="#1a1a1a" stroke-width="1.2"/>
<text x="750" y="408.1" font-family='"Liberation Sans", sans-serif' font-size="17" font-weight="bold" fill="#1c1c1c" text-anchor="start" textLength="61" lengthAdjust="spacingAndGlyphs" >775.000</text>
<line x1="669.0" y1="446.5" x2="736" y2="446.5" stroke="#1a1a1a" stroke-width="1.2"/>
<text x="750" y="452.6" font-family='"Liberation Sans", sans-serif' font-size="17" font-weight="bold" fill="#1c1c1c" text-anchor="start" textLength="61" lengthAdjust="spacingAndGlyphs" >487.500</text>
<line x1="669.0" y1="491.0" x2="736" y2="491.0" stroke="#1a1a1a" stroke-width="1.2"/>
<text x="750" y="497.1" font-family='"Liberation Sans", sans-serif' font-size="17" font-weight="bold" fill="#1c1c1c" text-anchor="start" textLength="61" lengthAdjust="spacingAndGlyphs" >200.000</text>
<rect x="669.0" y="135.0" width="55.0" height="356.0" fill="none" stroke="#333" stroke-width="0.8"/>
<text x="671.2" y="119.2" font-family='"Liberation Sans", sans-serif' font-size="16" font-weight="bold" fill="#1c1c1c" text-anchor="start" textLength="121" lengthAdjust="spacingAndGlyphs" >Temperature [C]</text>
<g id="panel-b">
<rect x="826.5" y="44" width="647.8" height="97" fill="#c9c9cb"/>
<defs><filter id="blr" x="-5%" y="-5%" width="110%" height="110%"><feGaussianBlur stdDeviation="0.9"/></filter><clipPath id="clipSi"><rect x="832" y="49.5" width="636.5" height="90.5"/></clipPath></defs>
<g clip-path="url(#clipSi)"><g filter="url(#blr)">
<rect x="812" y="29.5" width="676.5" height="130.5" fill="#fc0200"/>
<path d="M822,150 L822.0,56.9 L826.0,56.8 L830.0,56.7 L834.0,56.6 L838.0,56.5 L842.0,56.4 L846.0,56.3 L850.0,56.2 L854.0,56.1 L858.0,56.0 L862.0,55.9 L866.0,55.7 L870.0,55.6 L874.0,55.4 L878.0,55.3 L882.0,55.1 L886.0,55.0 L890.1,54.8 L894.1,54.6 L898.1,54.4 L902.1,54.2 L906.1,54.0 L910.1,53.8 L914.1,53.6 L918.1,53.4 L922.1,53.2 L926.1,52.9 L930.1,52.7 L934.1,52.4 L938.1,52.2 L942.1,51.9 L946.1,51.7 L950.1,51.4 L954.1,51.1 L958.1,50.8 L962.1,50.5 L966.1,50.2 L970.1,49.9 L974.1,49.6 L978.1,49.5 L982.1,49.5 L986.1,49.5 L990.1,49.5 L994.1,49.5 L998.1,49.5 L1002.1,49.5 L1006.1,49.5 L1010.1,49.5 L1014.1,49.5 L1018.1,49.5 L1022.2,49.5 L1026.2,49.5 L1030.2,49.5 L1034.2,49.5 L1038.2,49.5 L1042.2,49.5 L1046.2,49.5 L1050.2,49.5 L1054.2,49.5 L1058.2,49.5 L1062.2,49.5 L1066.2,49.5 L1070.2,49.5 L1074.2,49.5 L1078.2,49.5 L1082.2,49.5 L1086.2,49.5 L1090.2,49.5 L1094.2,49.5 L1098.2,49.5 L1102.2,49.5 L1106.2,49.5 L1110.2,49.5 L1114.2,49.5 L1118.2,49.5 L1122.2,49.5 L1126.2,49.5 L1130.2,49.5 L1134.2,49.5 L1138.2,49.5 L1142.2,49.5 L1146.2,49.5 L1150.2,49.5 L1154.3,49.5 L1158.3,49.5 L1162.3,49.5 L1166.3,49.5 L1170.3,49.5 L1174.3,49.5 L1178.3,49.5 L1182.3,49.5 L1186.3,49.5 L1190.3,49.5 L1194.3,49.5 L1198.3,49.5 L1202.3,49.5 L1206.3,49.5 L1210.3,49.5 L1214.3,49.5 L1218.3,49.5 L1222.3,49.5 L1226.3,49.5 L1230.3,49.5 L1234.3,49.5 L1238.3,49.5 L1242.3,49.5 L1246.3,49.5 L1250.3,49.5 L1254.3,49.5 L1258.3,49.5 L1262.3,49.5 L1266.3,49.5 L1270.3,49.5 L1274.3,49.5 L1278.3,49.5 L1282.4,49.5 L1286.4,49.5 L1290.4,49.5 L1294.4,49.5 L1298.4,49.5 L1302.4,49.5 L1306.4,49.5 L1310.4,49.5 L1314.4,49.5 L1318.4,49.5 L1322.4,49.5 L1326.4,49.5 L1330.4,49.7 L1334.4,50.0 L1338.4,50.3 L1342.4,50.6 L1346.4,50.9 L1350.4,51.2 L1354.4,51.5 L1358.4,51.7 L1362.4,52.0 L1366.4,52.3 L1370.4,52.5 L1374.4,52.8 L1378.4,53.0 L1382.4,53.2 L1386.4,53.4 L1390.4,53.7 L1394.4,53.9 L1398.4,54.1 L1402.4,54.3 L1406.4,54.5 L1410.4,54.7 L1414.5,54.8 L1418.5,55.0 L1422.5,55.2 L1426.5,55.3 L1430.5,55.5 L1434.5,55.6 L1438.5,55.8 L1442.5,55.9 L1446.5,56.0 L1450.5,56.1 L1454.5,56.3 L1458.5,56.4 L1462.5,56.5 L1466.5,56.6 L1470.5,56.7 L1474.5,56.7 L1478.5,56.8 L1478.5,150Z" fill="#fc1000"/>
<path d="M822,150 L822.0,67.2 L826.0,67.1 L830.0,67.0 L834.0,66.9 L838.0,66.8 L842.0,66.7 L846.0,66.6 L850.0,66.5 L854.0,66.4 L858.0,66.3 L862.0,66.1 L866.0,66.0 L870.0,65.9 L874.0,65.7 L878.0,65.6 L882.0,65.4 L886.0,65.2 L890.1,65.1 L894.1,64.9 L898.1,64.7 L902.1,64.5 L906.1,64.3 L910.1,64.1 L914.1,63.9 L918.1,63.7 L922.1,63.4 L926.1,63.2 L930.1,63.0 L934.1,62.7 L938.1,62.5 L942.1,62.2 L946.1,61.9 L950.1,61.7 L954.1,61.4 L958.1,61.1 L962.1,60.8 L966.1,60.5 L970.1,60.2 L974.1,59.9 L978.1,59.6 L982.1,59.3 L986.1,59.0 L990.1,58.7 L994.1,58.3 L998.1,58.0 L1002.1,57.7 L1006.1,57.4 L1010.1,57.0 L1014.1,56.7 L1018.1,56.4 L1022.2,56.1 L1026.2,55.7 L1030.2,55.4 L1034.2,55.1 L1038.2,54.8 L1042.2,54.5 L1046.2,54.2 L1050.2,53.8 L1054.2,53.5 L1058.2,53.3 L1062.2,53.0 L1066.2,52.7 L1070.2,52.4 L1074.2,52.2 L1078.2,51.9 L1082.2,51.7 L1086.2,51.4 L1090.2,51.2 L1094.2,51.0 L1098.2,50.8 L1102.2,50.6 L1106.2,50.4 L1110.2,50.3 L1114.2,50.1 L1118.2,50.0 L1122.2,49.8 L1126.2,49.7 L1130.2,49.6 L1134.2,49.6 L1138.2,49.5 L1142.2,49.5 L1146.2,49.5 L1150.2,49.5 L1154.3,49.5 L1158.3,49.5 L1162.3,49.5 L1166.3,49.5 L1170.3,49.6 L1174.3,49.7 L1178.3,49.8 L1182.3,49.9 L1186.3,50.0 L1190.3,50.1 L1194.3,50.3 L1198.3,50.5 L1202.3,50.6 L1206.3,50.8 L1210.3,51.0 L1214.3,51.3 L1218.3,51.5 L1222.3,51.7 L1226.3,52.0 L1230.3,52.2 L1234.3,52.5 L1238.3,52.8 L1242.3,53.0 L1246.3,53.3 L1250.3,53.6 L1254.3,53.9 L1258.3,54.2 L1262.3,54.5 L1266.3,54.9 L1270.3,55.2 L1274.3,55.5 L1278.3,55.8 L1282.4,56.2 L1286.4,56.5 L1290.4,56.8 L1294.4,57.1 L1298.4,57.5 L1302.4,57.8 L1306.4,58.1 L1310.4,58.4 L1314.4,58.8 L1318.4,59.1 L1322.4,59.4 L1326.4,59.7 L1330.4,60.0 L1334.4,60.3 L1338.4,60.6 L1342.4,60.9 L1346.4,61.2 L1350.4,61.5 L1354.4,61.7 L1358.4,62.0 L1362.4,62.3 L1366.4,62.5 L1370.4,62.8 L1374.4,63.0 L1378.4,63.3 L1382.4,63.5 L1386.4,63.7 L1390.4,64.0 L1394.4,64.2 L1398.4,64.4 L1402.4,64.6 L1406.4,64.8 L1410.4,64.9 L1414.5,65.1 L1418.5,65.3 L1422.5,65.5 L1426.5,65.6 L1430.5,65.8 L1434.5,65.9 L1438.5,66.0 L1442.5,66.2 L1446.5,66.3 L1450.5,66.4 L1454.5,66.5 L1458.5,66.6 L1462.5,66.8 L1466.5,66.9 L1470.5,66.9 L1474.5,67.0 L1478.5,67.1 L1478.5,150Z" fill="#fc1c00"/>
<path d="M822,150 L822.0,77.5 L826.0,77.4 L830.0,77.3 L834.0,77.2 L838.0,77.1 L842.0,77.0 L846.0,76.9 L850.0,76.8 L854.0,76.7 L858.0,76.6 L862.0,76.4 L866.0,76.3 L870.0,76.2 L874.0,76.0 L878.0,75.9 L882.0,75.7 L886.0,75.5 L890.1,75.4 L894.1,75.2 L898.1,75.0 L902.1,74.8 L906.1,74.6 L910.1,74.4 L914.1,74.2 L918.1,74.0 L922.1,73.7 L926.1,73.5 L930.1,73.3 L934.1,73.0 L938.1,72.8 L942.1,72.5 L946.1,72.2 L950.1,72.0 L954.1,71.7 L958.1,71.4 L962.1,71.1 L966.1,70.8 L970.1,70.5 L974.1,70.2 L978.1,69.9 L982.1,69.6 L986.1,69.3 L990.1,69.0 L994.1,68.6 L998.1,68.3 L1002.1,68.0 L1006.1,67.7 L1010.1,67.3 L1014.1,67.0 L1018.1,66.7 L1022.2,66.3 L1026.2,66.0 L1030.2,65.7 L1034.2,65.4 L1038.2,65.0 L1042.2,64.7 L1046.2,64.4 L1050.2,64.1 L1054.2,63.8 L1058.2,63.5 L1062.2,63.2 L1066.2,62.9 L1070.2,62.6 L1074.2,62.3 L1078.2,62.1 L1082.2,61.8 L1086.2,61.6 L1090.2,61.3 L1094.2,61.1 L1098.2,60.9 L1102.2,60.7 L1106.2,60.5 L1110.2,60.3 L1114.2,60.2 L1118.2,60.0 L1122.2,59.9 L1126.2,59.8 L1130.2,59.7 L1134.2,59.6 L1138.2,59.5 L1142.2,59.5 L1146.2,59.5 L1150.2,59.4 L1154.3,59.5 L1158.3,59.5 L1162.3,59.5 L1166.3,59.6 L1170.3,59.6 L1174.3,59.7 L1178.3,59.8 L1182.3,59.9 L1186.3,60.1 L1190.3,60.2 L1194.3,60.4 L1198.3,60.6 L1202.3,60.8 L1206.3,61.0 L1210.3,61.2 L1214.3,61.4 L1218.3,61.6 L1222.3,61.9 L1226.3,62.2 L1230.3,62.4 L1234.3,62.7 L1238.3,63.0 L1242.3,63.3 L1246.3,63.6 L1250.3,63.9 L1254.3,64.2 L1258.3,64.5 L1262.3,64.8 L1266.3,65.1 L1270.3,65.4 L1274.3,65.8 L1278.3,66.1 L1282.4,66.4 L1286.4,66.8 L1290.4,67.1 L1294.4,67.4 L1298.4,67.7 L1302.4,68.1 L1306.4,68.4 L1310.4,68.7 L1314.4,69.0 L1318.4,69.4 L1322.4,69.7 L1326.4,70.0 L1330.4,70.3 L1334.4,70.6 L1338.4,70.9 L1342.4,71.2 L1346.4,71.5 L1350.4,71.8 L1354.4,72.0 L1358.4,72.3 L1362.4,72.6 L1366.4,72.8 L1370.4,73.1 L1374.4,73.3 L1378.4,73.6 L1382.4,73.8 L1386.4,74.0 L1390.4,74.2 L1394.4,74.4 L1398.4,74.7 L1402.4,74.9 L1406.4,75.0 L1410.4,75.2 L1414.5,75.4 L1418.5,75.6 L1422.5,75.7 L1426.5,75.9 L1430.5,76.0 L1434.5,76.2 L1438.5,76.3 L1442.5,76.5 L1446.5,76.6 L1450.5,76.7 L1454.5,76.8 L1458.5,76.9 L1462.5,77.0 L1466.5,77.1 L1470.5,77.2 L1474.5,77.3 L1478.5,77.4 L1478.5,150Z" fill="#fc2800"/>
<path d="M822,150 L822.0,87.8 L826.0,87.7 L830.0,87.6 L834.0,87.5 L838.0,87.4 L842.0,87.3 L846.0,87.2 L850.0,87.1 L854.0,87.0 L858.0,86.8 L862.0,86.7 L866.0,86.6 L870.0,86.4 L874.0,86.3 L878.0,86.1 L882.0,86.0 L886.0,85.8 L890.1,85.6 L894.1,85.5 L898.1,85.3 L902.1,85.1 L906.1,84.9 L910.1,84.7 L914.1,84.5 L918.1,84.2 L922.1,84.0 L926.1,83.8 L930.1,83.5 L934.1,83.3 L938.1,83.0 L942.1,82.8 L946.1,82.5 L950.1,82.2 L954.1,82.0 L958.1,81.7 L962.1,81.4 L966.1,81.1 L970.1,80.8 L974.1,80.5 L978.1,80.2 L982.1,79.9 L986.1,79.6 L990.1,79.2 L994.1,78.9 L998.1,78.6 L1002.1,78.3 L1006.1,77.9 L1010.1,77.6 L1014.1,77.3 L1018.1,76.9 L1022.2,76.6 L1026.2,76.2 L1030.2,75.9 L1034.2,75.6 L1038.2,75.2 L1042.2,74.9 L1046.2,74.6 L1050.2,74.2 L1054.2,73.9 L1058.2,73.6 L1062.2,73.3 L1066.2,72.9 L1070.2,72.6 L1074.2,72.3 L1078.2,72.0 L1082.2,71.7 L1086.2,71.4 L1090.2,71.2 L1094.2,70.9 L1098.2,70.7 L1102.2,70.4 L1106.2,70.2 L1110.2,70.0 L1114.2,69.8 L1118.2,69.6 L1122.2,69.5 L1126.2,69.3 L1130.2,69.2 L1134.2,69.1 L1138.2,69.0 L1142.2,69.0 L1146.2,68.9 L1150.2,68.9 L1154.3,68.9 L1158.3,68.9 L1162.3,69.0 L1166.3,69.0 L1170.3,69.1 L1174.3,69.2 L1178.3,69.4 L1182.3,69.5 L1186.3,69.7 L1190.3,69.8 L1194.3,70.0 L1198.3,70.3 L1202.3,70.5 L1206.3,70.7 L1210.3,71.0 L1214.3,71.2 L1218.3,71.5 L1222.3,71.8 L1226.3,72.1 L1230.3,72.4 L1234.3,72.7 L1238.3,73.0 L1242.3,73.3 L1246.3,73.7 L1250.3,74.0 L1254.3,74.3 L1258.3,74.7 L1262.3,75.0 L1266.3,75.3 L1270.3,75.7 L1274.3,76.0 L1278.3,76.3 L1282.4,76.7 L1286.4,77.0 L1290.4,77.3 L1294.4,77.7 L1298.4,78.0 L1302.4,78.3 L1306.4,78.7 L1310.4,79.0 L1314.4,79.3 L1318.4,79.6 L1322.4,80.0 L1326.4,80.3 L1330.4,80.6 L1334.4,80.9 L1338.4,81.2 L1342.4,81.5 L1346.4,81.8 L1350.4,82.0 L1354.4,82.3 L1358.4,82.6 L1362.4,82.9 L1366.4,83.1 L1370.4,83.4 L1374.4,83.6 L1378.4,83.8 L1382.4,84.1 L1386.4,84.3 L1390.4,84.5 L1394.4,84.7 L1398.4,84.9 L1402.4,85.1 L1406.4,85.3 L1410.4,85.5 L1414.5,85.7 L1418.5,85.9 L1422.5,86.0 L1426.5,86.2 L1430.5,86.3 L1434.5,86.5 L1438.5,86.6 L1442.5,86.7 L1446.5,86.9 L1450.5,87.0 L1454.5,87.1 L1458.5,87.2 L1462.5,87.3 L1466.5,87.4 L1470.5,87.5 L1474.5,87.6 L1478.5,87.7 L1478.5,150Z" fill="#fc3400"/>
<path d="M822,150 L822.0,98.0 L826.0,98.0 L830.0,97.9 L834.0,97.8 L838.0,97.7 L842.0,97.6 L846.0,97.5 L850.0,97.4 L854.0,97.2 L858.0,97.1 L862.0,97.0 L866.0,96.9 L870.0,96.7 L874.0,96.6 L878.0,96.4 L882.0,96.3 L886.0,96.1 L890.1,95.9 L894.1,95.7 L898.1,95.6 L902.1,95.4 L906.1,95.2 L910.1,95.0 L914.1,94.7 L918.1,94.5 L922.1,94.3 L926.1,94.1 L930.1,93.8 L934.1,93.6 L938.1,93.3 L942.1,93.1 L946.1,92.8 L950.1,92.5 L954.1,92.2 L958.1,92.0 L962.1,91.7 L966.1,91.4 L970.1,91.1 L974.1,90.8 L978.1,90.5 L982.1,90.1 L986.1,89.8 L990.1,89.5 L994.1,89.2 L998.1,88.8 L1002.1,88.5 L1006.1,88.2 L1010.1,87.8 L1014.1,87.5 L1018.1,87.1 L1022.2,86.8 L1026.2,86.4 L1030.2,86.0 L1034.2,85.7 L1038.2,85.3 L1042.2,84.9 L1046.2,84.6 L1050.2,84.2 L1054.2,83.8 L1058.2,83.4 L1062.2,83.0 L1066.2,82.6 L1070.2,82.2 L1074.2,81.8 L1078.2,81.4 L1082.2,81.1 L1086.2,80.7 L1090.2,80.3 L1094.2,80.0 L1098.2,79.7 L1102.2,79.3 L1106.2,79.0 L1110.2,78.7 L1114.2,78.5 L1118.2,78.2 L1122.2,78.0 L1126.2,77.8 L1130.2,77.7 L1134.2,77.5 L1138.2,77.4 L1142.2,77.3 L1146.2,77.3 L1150.2,77.3 L1154.3,77.3 L1158.3,77.3 L1162.3,77.4 L1166.3,77.5 L1170.3,77.6 L1174.3,77.7 L1178.3,77.9 L1182.3,78.1 L1186.3,78.3 L1190.3,78.6 L1194.3,78.8 L1198.3,79.1 L1202.3,79.4 L1206.3,79.7 L1210.3,80.1 L1214.3,80.4 L1218.3,80.8 L1222.3,81.2 L1226.3,81.5 L1230.3,81.9 L1234.3,82.3 L1238.3,82.7 L1242.3,83.1 L1246.3,83.5 L1250.3,83.9 L1254.3,84.3 L1258.3,84.7 L1262.3,85.0 L1266.3,85.4 L1270.3,85.8 L1274.3,86.1 L1278.3,86.5 L1282.4,86.9 L1286.4,87.2 L1290.4,87.6 L1294.4,87.9 L1298.4,88.3 L1302.4,88.6 L1306.4,88.9 L1310.4,89.3 L1314.4,89.6 L1318.4,89.9 L1322.4,90.2 L1326.4,90.5 L1330.4,90.9 L1334.4,91.2 L1338.4,91.5 L1342.4,91.8 L1346.4,92.0 L1350.4,92.3 L1354.4,92.6 L1358.4,92.9 L1362.4,93.1 L1366.4,93.4 L1370.4,93.6 L1374.4,93.9 L1378.4,94.1 L1382.4,94.4 L1386.4,94.6 L1390.4,94.8 L1394.4,95.0 L1398.4,95.2 L1402.4,95.4 L1406.4,95.6 L1410.4,95.8 L1414.5,96.0 L1418.5,96.1 L1422.5,96.3 L1426.5,96.5 L1430.5,96.6 L1434.5,96.8 L1438.5,96.9 L1442.5,97.0 L1446.5,97.2 L1450.5,97.3 L1454.5,97.4 L1458.5,97.5 L1462.5,97.6 L1466.5,97.7 L1470.5,97.8 L1474.5,97.9 L1478.5,98.0 L1478.5,150Z" fill="#fc4100"/>
<path d="M822,150 L822.0,108.3 L826.0,108.2 L830.0,108.2 L834.0,108.1 L838.0,108.0 L842.0,107.9 L846.0,107.8 L850.0,107.6 L854.0,107.5 L858.0,107.4 L862.0,107.3 L866.0,107.1 L870.0,107.0 L874.0,106.9 L878.0,106.7 L882.0,106.5 L886.0,106.4 L890.1,106.2 L894.1,106.0 L898.1,105.8 L902.1,105.7 L906.1,105.5 L910.1,105.2 L914.1,105.0 L918.1,104.8 L922.1,104.6 L926.1,104.4 L930.1,104.1 L934.1,103.9 L938.1,103.6 L942.1,103.4 L946.1,103.1 L950.1,102.8 L954.1,102.5 L958.1,102.2 L962.1,102.0 L966.1,101.7 L970.1,101.4 L974.1,101.1 L978.1,100.7 L982.1,100.4 L986.1,100.1 L990.1,99.8 L994.1,99.4 L998.1,99.1 L1002.1,98.7 L1006.1,98.4 L1010.1,98.0 L1014.1,97.6 L1018.1,97.3 L1022.2,96.9 L1026.2,96.4 L1030.2,96.0 L1034.2,95.6 L1038.2,95.1 L1042.2,94.7 L1046.2,94.2 L1050.2,93.7 L1054.2,93.2 L1058.2,92.7 L1062.2,92.2 L1066.2,91.7 L1070.2,91.1 L1074.2,90.6 L1078.2,90.1 L1082.2,89.5 L1086.2,89.0 L1090.2,88.5 L1094.2,88.0 L1098.2,87.6 L1102.2,87.1 L1106.2,86.7 L1110.2,86.3 L1114.2,85.9 L1118.2,85.6 L1122.2,85.3 L1126.2,85.1 L1130.2,84.8 L1134.2,84.6 L1138.2,84.5 L1142.2,84.4 L1146.2,84.3 L1150.2,84.3 L1154.3,84.3 L1158.3,84.3 L1162.3,84.4 L1166.3,84.5 L1170.3,84.7 L1174.3,84.9 L1178.3,85.1 L1182.3,85.4 L1186.3,85.7 L1190.3,86.0 L1194.3,86.4 L1198.3,86.8 L1202.3,87.2 L1206.3,87.7 L1210.3,88.2 L1214.3,88.7 L1218.3,89.2 L1222.3,89.7 L1226.3,90.2 L1230.3,90.7 L1234.3,91.3 L1238.3,91.8 L1242.3,92.3 L1246.3,92.8 L1250.3,93.4 L1254.3,93.9 L1258.3,94.3 L1262.3,94.8 L1266.3,95.3 L1270.3,95.7 L1274.3,96.1 L1278.3,96.6 L1282.4,97.0 L1286.4,97.4 L1290.4,97.7 L1294.4,98.1 L1298.4,98.5 L1302.4,98.8 L1306.4,99.2 L1310.4,99.5 L1314.4,99.9 L1318.4,100.2 L1322.4,100.5 L1326.4,100.8 L1330.4,101.1 L1334.4,101.4 L1338.4,101.7 L1342.4,102.0 L1346.4,102.3 L1350.4,102.6 L1354.4,102.9 L1358.4,103.2 L1362.4,103.4 L1366.4,103.7 L1370.4,103.9 L1374.4,104.2 L1378.4,104.4 L1382.4,104.7 L1386.4,104.9 L1390.4,105.1 L1394.4,105.3 L1398.4,105.5 L1402.4,105.7 L1406.4,105.9 L1410.4,106.1 L1414.5,106.3 L1418.5,106.4 L1422.5,106.6 L1426.5,106.8 L1430.5,106.9 L1434.5,107.0 L1438.5,107.2 L1442.5,107.3 L1446.5,107.4 L1450.5,107.6 L1454.5,107.7 L1458.5,107.8 L1462.5,107.9 L1466.5,108.0 L1470.5,108.1 L1474.5,108.2 L1478.5,108.3 L1478.5,150Z" fill="#fc4d00"/>
<path d="M822,150 L822.0,118.6 L826.0,118.5 L830.0,118.4 L834.0,118.3 L838.0,118.3 L842.0,118.2 L846.0,118.0 L850.0,117.9 L854.0,117.8 L858.0,117.7 L862.0,117.6 L866.0,117.4 L870.0,117.3 L874.0,117.1 L878.0,117.0 L882.0,116.8 L886.0,116.7 L890.1,116.5 L894.1,116.3 L898.1,116.1 L902.1,115.9 L906.1,115.7 L910.1,115.5 L914.1,115.3 L918.1,115.1 L922.1,114.9 L926.1,114.6 L930.1,114.4 L934.1,114.2 L938.1,113.9 L942.1,113.6 L946.1,113.4 L950.1,113.1 L954.1,112.8 L958.1,112.5 L962.1,112.2 L966.1,111.9 L970.1,111.6 L974.1,111.3 L978.1,111.0 L982.1,110.7 L986.1,110.3 L990.1,110.0 L994.1,109.7 L998.1,109.3 L1002.1,108.9 L1006.1,108.5 L1010.1,108.1 L1014.1,107.7 L1018.1,107.3 L1022.2,106.8 L1026.2,106.3 L1030.2,105.8 L1034.2,105.3 L1038.2,104.7 L1042.2,104.1 L1046.2,103.5 L1050.2,102.8 L1054.2,102.1 L1058.2,101.4 L1062.2,100.7 L1066.2,100.0 L1070.2,99.2 L1074.2,98.5 L1078.2,97.8 L1082.2,97.0 L1086.2,96.3 L1090.2,95.7 L1094.2,95.0 L1098.2,94.4 L1102.2,93.8 L1106.2,93.2 L1110.2,92.7 L1114.2,92.2 L1118.2,91.8 L1122.2,91.4 L1126.2,91.1 L1130.2,90.8 L1134.2,90.6 L1138.2,90.4 L1142.2,90.2 L1146.2,90.1 L1150.2,90.1 L1154.3,90.1 L1158.3,90.2 L1162.3,90.3 L1166.3,90.4 L1170.3,90.6 L1174.3,90.9 L1178.3,91.2 L1182.3,91.5 L1186.3,91.9 L1190.3,92.4 L1194.3,92.9 L1198.3,93.4 L1202.3,93.9 L1206.3,94.5 L1210.3,95.2 L1214.3,95.8 L1218.3,96.5 L1222.3,97.2 L1226.3,98.0 L1230.3,98.7 L1234.3,99.4 L1238.3,100.2 L1242.3,100.9 L1246.3,101.6 L1250.3,102.3 L1254.3,103.0 L1258.3,103.6 L1262.3,104.3 L1266.3,104.9 L1270.3,105.4 L1274.3,106.0 L1278.3,106.5 L1282.4,106.9 L1286.4,107.4 L1290.4,107.8 L1294.4,108.2 L1298.4,108.6 L1302.4,109.0 L1306.4,109.4 L1310.4,109.8 L1314.4,110.1 L1318.4,110.4 L1322.4,110.8 L1326.4,111.1 L1330.4,111.4 L1334.4,111.7 L1338.4,112.0 L1342.4,112.3 L1346.4,112.6 L1350.4,112.9 L1354.4,113.2 L1358.4,113.4 L1362.4,113.7 L1366.4,114.0 L1370.4,114.2 L1374.4,114.5 L1378.4,114.7 L1382.4,114.9 L1386.4,115.2 L1390.4,115.4 L1394.4,115.6 L1398.4,115.8 L1402.4,116.0 L1406.4,116.2 L1410.4,116.4 L1414.5,116.5 L1418.5,116.7 L1422.5,116.9 L1426.5,117.0 L1430.5,117.2 L1434.5,117.3 L1438.5,117.5 L1442.5,117.6 L1446.5,117.7 L1450.5,117.9 L1454.5,118.0 L1458.5,118.1 L1462.5,118.2 L1466.5,118.3 L1470.5,118.4 L1474.5,118.5 L1478.5,118.5 L1478.5,150Z" fill="#fc5900"/>
<path d="M822,150 L822.0,128.9 L826.0,128.8 L830.0,128.7 L834.0,128.6 L838.0,128.5 L842.0,128.4 L846.0,128.3 L850.0,128.2 L854.0,128.1 L858.0,128.0 L862.0,127.9 L866.0,127.7 L870.0,127.6 L874.0,127.4 L878.0,127.3 L882.0,127.1 L886.0,127.0 L890.1,126.8 L894.1,126.6 L898.1,126.4 L902.1,126.2 L906.1,126.0 L910.1,125.8 L914.1,125.6 L918.1,125.4 L922.1,125.2 L926.1,124.9 L930.1,124.7 L934.1,124.4 L938.1,124.2 L942.1,123.9 L946.1,123.7 L950.1,123.4 L954.1,123.1 L958.1,122.8 L962.1,122.5 L966.1,122.2 L970.1,121.9 L974.1,121.6 L978.1,121.3 L982.1,120.9 L986.1,120.6 L990.1,120.2 L994.1,119.9 L998.1,119.5 L1002.1,119.1 L1006.1,118.7 L1010.1,118.2 L1014.1,117.7 L1018.1,117.2 L1022.2,116.7 L1026.2,116.1 L1030.2,115.4 L1034.2,114.7 L1038.2,114.0 L1042.2,113.2 L1046.2,112.4 L1050.2,111.5 L1054.2,110.6 L1058.2,109.6 L1062.2,108.7 L1066.2,107.7 L1070.2,106.7 L1074.2,105.7 L1078.2,104.7 L1082.2,103.8 L1086.2,102.8 L1090.2,102.0 L1094.2,101.1 L1098.2,100.3 L1102.2,99.6 L1106.2,98.9 L1110.2,98.2 L1114.2,97.6 L1118.2,97.1 L1122.2,96.6 L1126.2,96.2 L1130.2,95.9 L1134.2,95.6 L1138.2,95.3 L1142.2,95.2 L1146.2,95.0 L1150.2,95.0 L1154.3,95.0 L1158.3,95.1 L1162.3,95.2 L1166.3,95.4 L1170.3,95.6 L1174.3,95.9 L1178.3,96.3 L1182.3,96.8 L1186.3,97.2 L1190.3,97.8 L1194.3,98.4 L1198.3,99.1 L1202.3,99.8 L1206.3,100.5 L1210.3,101.3 L1214.3,102.2 L1218.3,103.1 L1222.3,104.0 L1226.3,105.0 L1230.3,106.0 L1234.3,106.9 L1238.3,107.9 L1242.3,108.9 L1246.3,109.9 L1250.3,110.8 L1254.3,111.7 L1258.3,112.6 L1262.3,113.4 L1266.3,114.2 L1270.3,114.9 L1274.3,115.6 L1278.3,116.2 L1282.4,116.8 L1286.4,117.4 L1290.4,117.9 L1294.4,118.3 L1298.4,118.8 L1302.4,119.2 L1306.4,119.6 L1310.4,120.0 L1314.4,120.3 L1318.4,120.7 L1322.4,121.0 L1326.4,121.4 L1330.4,121.7 L1334.4,122.0 L1338.4,122.3 L1342.4,122.6 L1346.4,122.9 L1350.4,123.2 L1354.4,123.5 L1358.4,123.7 L1362.4,124.0 L1366.4,124.3 L1370.4,124.5 L1374.4,124.8 L1378.4,125.0 L1382.4,125.2 L1386.4,125.4 L1390.4,125.7 L1394.4,125.9 L1398.4,126.1 L1402.4,126.3 L1406.4,126.5 L1410.4,126.7 L1414.5,126.8 L1418.5,127.0 L1422.5,127.2 L1426.5,127.3 L1430.5,127.5 L1434.5,127.6 L1438.5,127.8 L1442.5,127.9 L1446.5,128.0 L1450.5,128.1 L1454.5,128.3 L1458.5,128.4 L1462.5,128.5 L1466.5,128.6 L1470.5,128.7 L1474.5,128.7 L1478.5,128.8 L1478.5,150Z" fill="#fc6500"/>
<path d="M822,150 L822.0,139.2 L826.0,139.1 L830.0,139.0 L834.0,138.9 L838.0,138.8 L842.0,138.7 L846.0,138.6 L850.0,138.5 L854.0,138.4 L858.0,138.3 L862.0,138.1 L866.0,138.0 L870.0,137.9 L874.0,137.7 L878.0,137.6 L882.0,137.4 L886.0,137.2 L890.1,137.1 L894.1,136.9 L898.1,136.7 L902.1,136.5 L906.1,136.3 L910.1,136.1 L914.1,135.9 L918.1,135.7 L922.1,135.4 L926.1,135.2 L930.1,135.0 L934.1,134.7 L938.1,134.5 L942.1,134.2 L946.1,133.9 L950.1,133.7 L954.1,133.4 L958.1,133.1 L962.1,132.8 L966.1,132.5 L970.1,132.2 L974.1,131.9 L978.1,131.5 L982.1,131.2 L986.1,130.9 L990.1,130.5 L994.1,130.1 L998.1,129.7 L1002.1,129.3 L1006.1,128.8 L1010.1,128.3 L1014.1,127.8 L1018.1,127.2 L1022.2,126.5 L1026.2,125.8 L1030.2,125.1 L1034.2,124.2 L1038.2,123.3 L1042.2,122.3 L1046.2,121.2 L1050.2,120.0 L1054.2,118.8 L1058.2,117.6 L1062.2,116.3 L1066.2,115.0 L1070.2,113.7 L1074.2,112.4 L1078.2,111.2 L1082.2,109.9 L1086.2,108.8 L1090.2,107.7 L1094.2,106.6 L1098.2,105.6 L1102.2,104.7 L1106.2,103.9 L1110.2,103.1 L1114.2,102.4 L1118.2,101.7 L1122.2,101.2 L1126.2,100.7 L1130.2,100.3 L1134.2,99.9 L1138.2,99.6 L1142.2,99.4 L1146.2,99.3 L1150.2,99.2 L1154.3,99.2 L1158.3,99.3 L1162.3,99.5 L1166.3,99.7 L1170.3,100.0 L1174.3,100.4 L1178.3,100.8 L1182.3,101.3 L1186.3,101.9 L1190.3,102.6 L1194.3,103.3 L1198.3,104.1 L1202.3,105.0 L1206.3,105.9 L1210.3,106.9 L1214.3,108.0 L1218.3,109.1 L1222.3,110.3 L1226.3,111.5 L1230.3,112.8 L1234.3,114.0 L1238.3,115.3 L1242.3,116.6 L1246.3,117.9 L1250.3,119.2 L1254.3,120.3 L1258.3,121.5 L1262.3,122.5 L1266.3,123.5 L1270.3,124.4 L1274.3,125.3 L1278.3,126.0 L1282.4,126.7 L1286.4,127.4 L1290.4,127.9 L1294.4,128.5 L1298.4,128.9 L1302.4,129.4 L1306.4,129.8 L1310.4,130.2 L1314.4,130.6 L1318.4,131.0 L1322.4,131.3 L1326.4,131.6 L1330.4,132.0 L1334.4,132.3 L1338.4,132.6 L1342.4,132.9 L1346.4,133.2 L1350.4,133.5 L1354.4,133.7 L1358.4,134.0 L1362.4,134.3 L1366.4,134.5 L1370.4,134.8 L1374.4,135.0 L1378.4,135.3 L1382.4,135.5 L1386.4,135.7 L1390.4,136.0 L1394.4,136.2 L1398.4,136.4 L1402.4,136.6 L1406.4,136.8 L1410.4,136.9 L1414.5,137.1 L1418.5,137.3 L1422.5,137.5 L1426.5,137.6 L1430.5,137.8 L1434.5,137.9 L1438.5,138.0 L1442.5,138.2 L1446.5,138.3 L1450.5,138.4 L1454.5,138.5 L1458.5,138.6 L1462.5,138.8 L1466.5,138.9 L1470.5,138.9 L1474.5,139.0 L1478.5,139.1 L1478.5,150Z" fill="#fc7100"/>
<path d="M822,150 L822.0,140.0 L826.0,140.0 L830.0,140.0 L834.0,140.0 L838.0,140.0 L842.0,140.0 L846.0,140.0 L850.0,140.0 L854.0,140.0 L858.0,140.0 L862.0,140.0 L866.0,140.0 L870.0,140.0 L874.0,140.0 L878.0,140.0 L882.0,140.0 L886.0,140.0 L890.1,140.0 L894.1,140.0 L898.1,140.0 L902.1,140.0 L906.1,140.0 L910.1,140.0 L914.1,140.0 L918.1,140.0 L922.1,140.0 L926.1,140.0 L930.1,140.0 L934.1,140.0 L938.1,140.0 L942.1,140.0 L946.1,140.0 L950.1,140.0 L954.1,140.0 L958.1,140.0 L962.1,140.0 L966.1,140.0 L970.1,140.0 L974.1,140.0 L978.1,140.0 L982.1,140.0 L986.1,140.0 L990.1,140.0 L994.1,140.0 L998.1,140.0 L1002.1,139.5 L1006.1,139.0 L1010.1,138.5 L1014.1,137.9 L1018.1,137.3 L1022.2,136.6 L1026.2,135.8 L1030.2,134.9 L1034.2,133.9 L1038.2,132.8 L1042.2,131.6 L1046.2,130.2 L1050.2,128.8 L1054.2,127.2 L1058.2,125.6 L1062.2,123.9 L1066.2,122.3 L1070.2,120.6 L1074.2,118.9 L1078.2,117.4 L1082.2,115.8 L1086.2,114.4 L1090.2,113.0 L1094.2,111.7 L1098.2,110.5 L1102.2,109.4 L1106.2,108.4 L1110.2,107.5 L1114.2,106.7 L1118.2,105.9 L1122.2,105.3 L1126.2,104.7 L1130.2,104.2 L1134.2,103.8 L1138.2,103.5 L1142.2,103.2 L1146.2,103.1 L1150.2,103.0 L1154.3,103.0 L1158.3,103.1 L1162.3,103.3 L1166.3,103.6 L1170.3,103.9 L1174.3,104.3 L1178.3,104.8 L1182.3,105.4 L1186.3,106.1 L1190.3,106.9 L1194.3,107.7 L1198.3,108.7 L1202.3,109.7 L1206.3,110.9 L1210.3,112.1 L1214.3,113.4 L1218.3,114.8 L1222.3,116.2 L1226.3,117.8 L1230.3,119.4 L1234.3,121.0 L1238.3,122.7 L1242.3,124.4 L1246.3,126.0 L1250.3,127.6 L1254.3,129.2 L1258.3,130.6 L1262.3,131.9 L1266.3,133.1 L1270.3,134.2 L1274.3,135.2 L1278.3,136.0 L1282.4,136.8 L1286.4,137.5 L1290.4,138.1 L1294.4,138.7 L1298.4,139.2 L1302.4,139.6 L1306.4,140.0 L1310.4,140.0 L1314.4,140.0 L1318.4,140.0 L1322.4,140.0 L1326.4,140.0 L1330.4,140.0 L1334.4,140.0 L1338.4,140.0 L1342.4,140.0 L1346.4,140.0 L1350.4,140.0 L1354.4,140.0 L1358.4,140.0 L1362.4,140.0 L1366.4,140.0 L1370.4,140.0 L1374.4,140.0 L1378.4,140.0 L1382.4,140.0 L1386.4,140.0 L1390.4,140.0 L1394.4,140.0 L1398.4,140.0 L1402.4,140.0 L1406.4,140.0 L1410.4,140.0 L1414.5,140.0 L1418.5,140.0 L1422.5,140.0 L1426.5,140.0 L1430.5,140.0 L1434.5,140.0 L1438.5,140.0 L1442.5,140.0 L1446.5,140.0 L1450.5,140.0 L1454.5,140.0 L1458.5,140.0 L1462.5,140.0 L1466.5,140.0 L1470.5,140.0 L1474.5,140.0 L1478.5,140.0 L1478.5,150Z" fill="#fc7d00"/>
<path d="M822,150 L822.0,140.0 L826.0,140.0 L830.0,140.0 L834.0,140.0 L838.0,140.0 L842.0,140.0 L846.0,140.0 L850.0,140.0 L854.0,140.0 L858.0,140.0 L862.0,140.0 L866.0,140.0 L870.0,140.0 L874.0,140.0 L878.0,140.0 L882.0,140.0 L886.0,140.0 L890.1,140.0 L894.1,140.0 L898.1,140.0 L902.1,140.0 L906.1,140.0 L910.1,140.0 L914.1,140.0 L918.1,140.0 L922.1,140.0 L926.1,140.0 L930.1,140.0 L934.1,140.0 L938.1,140.0 L942.1,140.0 L946.1,140.0 L950.1,140.0 L954.1,140.0 L958.1,140.0 L962.1,140.0 L966.1,140.0 L970.1,140.0 L974.1,140.0 L978.1,140.0 L982.1,140.0 L986.1,140.0 L990.1,140.0 L994.1,140.0 L998.1,140.0 L1002.1,140.0 L1006.1,140.0 L1010.1,140.0 L1014.1,140.0 L1018.1,140.0 L1022.2,140.0 L1026.2,140.0 L1030.2,140.0 L1034.2,140.0 L1038.2,140.0 L1042.2,140.0 L1046.2,139.9 L1050.2,138.2 L1054.2,136.3 L1058.2,134.2 L1062.2,132.1 L1066.2,129.9 L1070.2,127.8 L1074.2,125.7 L1078.2,123.6 L1082.2,121.7 L1086.2,119.9 L1090.2,118.2 L1094.2,116.7 L1098.2,115.2 L1102.2,113.9 L1106.2,112.7 L1110.2,111.6 L1114.2,110.7 L1118.2,109.8 L1122.2,109.1 L1126.2,108.4 L1130.2,107.8 L1134.2,107.4 L1138.2,107.0 L1142.2,106.8 L1146.2,106.6 L1150.2,106.5 L1154.3,106.5 L1158.3,106.6 L1162.3,106.8 L1166.3,107.1 L1170.3,107.5 L1174.3,108.0 L1178.3,108.6 L1182.3,109.2 L1186.3,110.0 L1190.3,110.9 L1194.3,111.9 L1198.3,113.0 L1202.3,114.3 L1206.3,115.6 L1210.3,117.1 L1214.3,118.7 L1218.3,120.4 L1222.3,122.2 L1226.3,124.2 L1230.3,126.2 L1234.3,128.4 L1238.3,130.5 L1242.3,132.7 L1246.3,134.8 L1250.3,136.8 L1254.3,138.7 L1258.3,140.0 L1262.3,140.0 L1266.3,140.0 L1270.3,140.0 L1274.3,140.0 L1278.3,140.0 L1282.4,140.0 L1286.4,140.0 L1290.4,140.0 L1294.4,140.0 L1298.4,140.0 L1302.4,140.0 L1306.4,140.0 L1310.4,140.0 L1314.4,140.0 L1318.4,140.0 L1322.4,140.0 L1326.4,140.0 L1330.4,140.0 L1334.4,140.0 L1338.4,140.0 L1342.4,140.0 L1346.4,140.0 L1350.4,140.0 L1354.4,140.0 L1358.4,140.0 L1362.4,140.0 L1366.4,140.0 L1370.4,140.0 L1374.4,140.0 L1378.4,140.0 L1382.4,140.0 L1386.4,140.0 L1390.4,140.0 L1394.4,140.0 L1398.4,140.0 L1402.4,140.0 L1406.4,140.0 L1410.4,140.0 L1414.5,140.0 L1418.5,140.0 L1422.5,140.0 L1426.5,140.0 L1430.5,140.0 L1434.5,140.0 L1438.5,140.0 L1442.5,140.0 L1446.5,140.0 L1450.5,140.0 L1454.5,140.0 L1458.5,140.0 L1462.5,140.0 L1466.5,140.0 L1470.5,140.0 L1474.5,140.0 L1478.5,140.0 L1478.5,150Z" fill="#fc8900"/>
<path d="M822,150 L822.0,140.0 L826.0,140.0 L830.0,140.0 L834.0,140.0 L838.0,140.0 L842.0,140.0 L846.0,140.0 L850.0,140.0 L854.0,140.0 L858.0,140.0 L862.0,140.0 L866.0,140.0 L870.0,140.0 L874.0,140.0 L878.0,140.0 L882.0,140.0 L886.0,140.0 L890.1,140.0 L894.1,140.0 L898.1,140.0 L902.1,140.0 L906.1,140.0 L910.1,140.0 L914.1,140.0 L918.1,140.0 L922.1,140.0 L926.1,140.0 L930.1,140.0 L934.1,140.0 L938.1,140.0 L942.1,140.0 L946.1,140.0 L950.1,140.0 L954.1,140.0 L958.1,140.0 L962.1,140.0 L966.1,140.0 L970.1,140.0 L974.1,140.0 L978.1,140.0 L982.1,140.0 L986.1,140.0 L990.1,140.0 L994.1,140.0 L998.1,140.0 L1002.1,140.0 L1006.1,140.0 L1010.1,140.0 L1014.1,140.0 L1018.1,140.0 L1022.2,140.0 L1026.2,140.0 L1030.2,140.0 L1034.2,140.0 L1038.2,140.0 L1042.2,140.0 L1046.2,140.0 L1050.2,140.0 L1054.2,140.0 L1058.2,140.0 L1062.2,140.0 L1066.2,138.8 L1070.2,136.0 L1074.2,133.1 L1078.2,130.5 L1082.2,128.0 L1086.2,125.7 L1090.2,123.6 L1094.2,121.6 L1098.2,119.9 L1102.2,118.3 L1106.2,116.9 L1110.2,115.6 L1114.2,114.5 L1118.2,113.5 L1122.2,112.7 L1126.2,111.9 L1130.2,111.3 L1134.2,110.8 L1138.2,110.3 L1142.2,110.0 L1146.2,109.8 L1150.2,109.8 L1154.3,109.8 L1158.3,109.9 L1162.3,110.1 L1166.3,110.4 L1170.3,110.9 L1174.3,111.4 L1178.3,112.1 L1182.3,112.9 L1186.3,113.8 L1190.3,114.8 L1194.3,116.0 L1198.3,117.3 L1202.3,118.7 L1206.3,120.4 L1210.3,122.2 L1214.3,124.1 L1218.3,126.3 L1222.3,128.6 L1226.3,131.2 L1230.3,133.9 L1234.3,136.7 L1238.3,139.6 L1242.3,140.0 L1246.3,140.0 L1250.3,140.0 L1254.3,140.0 L1258.3,140.0 L1262.3,140.0 L1266.3,140.0 L1270.3,140.0 L1274.3,140.0 L1278.3,140.0 L1282.4,140.0 L1286.4,140.0 L1290.4,140.0 L1294.4,140.0 L1298.4,140.0 L1302.4,140.0 L1306.4,140.0 L1310.4,140.0 L1314.4,140.0 L1318.4,140.0 L1322.4,140.0 L1326.4,140.0 L1330.4,140.0 L1334.4,140.0 L1338.4,140.0 L1342.4,140.0 L1346.4,140.0 L1350.4,140.0 L1354.4,140.0 L1358.4,140.0 L1362.4,140.0 L1366.4,140.0 L1370.4,140.0 L1374.4,140.0 L1378.4,140.0 L1382.4,140.0 L1386.4,140.0 L1390.4,140.0 L1394.4,140.0 L1398.4,140.0 L1402.4,140.0 L1406.4,140.0 L1410.4,140.0 L1414.5,140.0 L1418.5,140.0 L1422.5,140.0 L1426.5,140.0 L1430.5,140.0 L1434.5,140.0 L1438.5,140.0 L1442.5,140.0 L1446.5,140.0 L1450.5,140.0 L1454.5,140.0 L1458.5,140.0 L1462.5,140.0 L1466.5,140.0 L1470.5,140.0 L1474.5,140.0 L1478.5,140.0 L1478.5,150Z" fill="#fc9500"/>
<path d="M822,150 L822.0,140.0 L826.0,140.0 L830.0,140.0 L834.0,140.0 L838.0,140.0 L842.0,140.0 L846.0,140.0 L850.0,140.0 L854.0,140.0 L858.0,140.0 L862.0,140.0 L866.0,140.0 L870.0,140.0 L874.0,140.0 L878.0,140.0 L882.0,140.0 L886.0,140.0 L890.1,140.0 L894.1,140.0 L898.1,140.0 L902.1,140.0 L906.1,140.0 L910.1,140.0 L914.1,140.0 L918.1,140.0 L922.1,140.0 L926.1,140.0 L930.1,140.0 L934.1,140.0 L938.1,140.0 L942.1,140.0 L946.1,140.0 L950.1,140.0 L954.1,140.0 L958.1,140.0 L962.1,140.0 L966.1,140.0 L970.1,140.0 L974.1,140.0 L978.1,140.0 L982.1,140.0 L986.1,140.0 L990.1,140.0 L994.1,140.0 L998.1,140.0 L1002.1,140.0 L1006.1,140.0 L1010.1,140.0 L1014.1,140.0 L1018.1,140.0 L1022.2,140.0 L1026.2,140.0 L1030.2,140.0 L1034.2,140.0 L1038.2,140.0 L1042.2,140.0 L1046.2,140.0 L1050.2,140.0 L1054.2,140.0 L1058.2,140.0 L1062.2,140.0 L1066.2,140.0 L1070.2,140.0 L1074.2,140.0 L1078.2,138.8 L1082.2,135.3 L1086.2,132.2 L1090.2,129.4 L1094.2,126.9 L1098.2,124.8 L1102.2,122.8 L1106.2,121.1 L1110.2,119.6 L1114.2,118.3 L1118.2,117.2 L1122.2,116.2 L1126.2,115.3 L1130.2,114.6 L1134.2,114.0 L1138.2,113.5 L1142.2,113.2 L1146.2,113.0 L1150.2,112.9 L1154.3,112.9 L1158.3,113.0 L1162.3,113.3 L1166.3,113.7 L1170.3,114.1 L1174.3,114.8 L1178.3,115.5 L1182.3,116.4 L1186.3,117.5 L1190.3,118.7 L1194.3,120.0 L1198.3,121.6 L1202.3,123.3 L1206.3,125.3 L1210.3,127.6 L1214.3,130.1 L1218.3,133.0 L1222.3,136.2 L1226.3,139.8 L1230.3,140.0 L1234.3,140.0 L1238.3,140.0 L1242.3,140.0 L1246.3,140.0 L1250.3,140.0 L1254.3,140.0 L1258.3,140.0 L1262.3,140.0 L1266.3,140.0 L1270.3,140.0 L1274.3,140.0 L1278.3,140.0 L1282.4,140.0 L1286.4,140.0 L1290.4,140.0 L1294.4,140.0 L1298.4,140.0 L1302.4,140.0 L1306.4,140.0 L1310.4,140.0 L1314.4,140.0 L1318.4,140.0 L1322.4,140.0 L1326.4,140.0 L1330.4,140.0 L1334.4,140.0 L1338.4,140.0 L1342.4,140.0 L1346.4,140.0 L1350.4,140.0 L1354.4,140.0 L1358.4,140.0 L1362.4,140.0 L1366.4,140.0 L1370.4,140.0 L1374.4,140.0 L1378.4,140.0 L1382.4,140.0 L1386.4,140.0 L1390.4,140.0 L1394.4,140.0 L1398.4,140.0 L1402.4,140.0 L1406.4,140.0 L1410.4,140.0 L1414.5,140.0 L1418.5,140.0 L1422.5,140.0 L1426.5,140.0 L1430.5,140.0 L1434.5,140.0 L1438.5,140.0 L1442.5,140.0 L1446.5,140.0 L1450.5,140.0 L1454.5,140.0 L1458.5,140.0 L1462.5,140.0 L1466.5,140.0 L1470.5,140.0 L1474.5,140.0 L1478.5,140.0 L1478.5,150Z" fill="#fca100"/>
<path d="M822,150 L822.0,140.0 L826.0,140.0 L830.0,140.0 L834.0,140.0 L838.0,140.0 L842.0,140.0 L846.0,140.0 L850.0,140.0 L854.0,140.0 L858.0,140.0 L862.0,140.0 L866.0,140.0 L870.0,140.0 L874.0,140.0 L878.0,140.0 L882.0,140.0 L886.0,140.0 L890.1,140.0 L894.1,140.0 L898.1,140.0 L902.1,140.0 L906.1,140.0 L910.1,140.0 L914.1,140.0 L918.1,140.0 L922.1,140.0 L926.1,140.0 L930.1,140.0 L934.1,140.0 L938.1,140.0 L942.1,140.0 L946.1,140.0 L950.1,140.0 L954.1,140.0 L958.1,140.0 L962.1,140.0 L966.1,140.0 L970.1,140.0 L974.1,140.0 L978.1,140.0 L982.1,140.0 L986.1,140.0 L990.1,140.0 L994.1,140.0 L998.1,140.0 L1002.1,140.0 L1006.1,140.0 L1010.1,140.0 L1014.1,140.0 L1018.1,140.0 L1022.2,140.0 L1026.2,140.0 L1030.2,140.0 L1034.2,140.0 L1038.2,140.0 L1042.2,140.0 L1046.2,140.0 L1050.2,140.0 L1054.2,140.0 L1058.2,140.0 L1062.2,140.0 L1066.2,140.0 L1070.2,140.0 L1074.2,140.0 L1078.2,140.0 L1082.2,140.0 L1086.2,140.0 L1090.2,136.5 L1094.2,133.1 L1098.2,130.2 L1102.2,127.7 L1106.2,125.6 L1110.2,123.8 L1114.2,122.2 L1118.2,120.8 L1122.2,119.7 L1126.2,118.7 L1130.2,117.9 L1134.2,117.2 L1138.2,116.7 L1142.2,116.3 L1146.2,116.0 L1150.2,115.9 L1154.3,116.0 L1158.3,116.1 L1162.3,116.4 L1166.3,116.8 L1170.3,117.4 L1174.3,118.1 L1178.3,118.9 L1182.3,120.0 L1186.3,121.2 L1190.3,122.6 L1194.3,124.3 L1198.3,126.1 L1202.3,128.3 L1206.3,130.9 L1210.3,133.9 L1214.3,137.6 L1218.3,140.0 L1222.3,140.0 L1226.3,140.0 L1230.3,140.0 L1234.3,140.0 L1238.3,140.0 L1242.3,140.0 L1246.3,140.0 L1250.3,140.0 L1254.3,140.0 L1258.3,140.0 L1262.3,140.0 L1266.3,140.0 L1270.3,140.0 L1274.3,140.0 L1278.3,140.0 L1282.4,140.0 L1286.4,140.0 L1290.4,140.0 L1294.4,140.0 L1298.4,140.0 L1302.4,140.0 L1306.4,140.0 L1310.4,140.0 L1314.4,140.0 L1318.4,140.0 L1322.4,140.0 L1326.4,140.0 L1330.4,140.0 L1334.4,140.0 L1338.4,140.0 L1342.4,140.0 L1346.4,140.0 L1350.4,140.0 L1354.4,140.0 L1358.4,140.0 L1362.4,140.0 L1366.4,140.0 L1370.4,140.0 L1374.4,140.0 L1378.4,140.0 L1382.4,140.0 L1386.4,140.0 L1390.4,140.0 L1394.4,140.0 L1398.4,140.0 L1402.4,140.0 L1406.4,140.0 L1410.4,140.0 L1414.5,140.0 L1418.5,140.0 L1422.5,140.0 L1426.5,140.0 L1430.5,140.0 L1434.5,140.0 L1438.5,140.0 L1442.5,140.0 L1446.5,140.0 L1450.5,140.0 L1454.5,140.0 L1458.5,140.0 L1462.5,140.0 L1466.5,140.0 L1470.5,140.0 L1474.5,140.0 L1478.5,140.0 L1478.5,150Z" fill="#fcad00"/>
<path d="M822,150 L822.0,140.0 L826.0,140.0 L830.0,140.0 L834.0,140.0 L838.0,140.0 L842.0,140.0 L846.0,140.0 L850.0,140.0 L854.0,140.0 L858.0,140.0 L862.0,140.0 L866.0,140.0 L870.0,140.0 L874.0,140.0 L878.0,140.0 L882.0,140.0 L886.0,140.0 L890.1,140.0 L894.1,140.0 L898.1,140.0 L902.1,140.0 L906.1,140.0 L910.1,140.0 L914.1,140.0 L918.1,140.0 L922.1,140.0 L926.1,140.0 L930.1,140.0 L934.1,140.0 L938.1,140.0 L942.1,140.0 L946.1,140.0 L950.1,140.0 L954.1,140.0 L958.1,140.0 L962.1,140.0 L966.1,140.0 L970.1,140.0 L974.1,140.0 L978.1,140.0 L982.1,140.0 L986.1,140.0 L990.1,140.0 L994.1,140.0 L998.1,140.0 L1002.1,140.0 L1006.1,140.0 L1010.1,140.0 L1014.1,140.0 L1018.1,140.0 L1022.2,140.0 L1026.2,140.0 L1030.2,140.0 L1034.2,140.0 L1038.2,140.0 L1042.2,140.0 L1046.2,140.0 L1050.2,140.0 L1054.2,140.0 L1058.2,140.0 L1062.2,140.0 L1066.2,140.0 L1070.2,140.0 L1074.2,140.0 L1078.2,140.0 L1082.2,140.0 L1086.2,140.0 L1090.2,140.0 L1094.2,140.0 L1098.2,137.0 L1102.2,133.4 L1106.2,130.6 L1110.2,128.3 L1114.2,126.3 L1118.2,124.7 L1122.2,123.3 L1126.2,122.2 L1130.2,121.2 L1134.2,120.4 L1138.2,119.8 L1142.2,119.4 L1146.2,119.1 L1150.2,119.0 L1154.3,119.0 L1158.3,119.2 L1162.3,119.5 L1166.3,120.0 L1170.3,120.6 L1174.3,121.4 L1178.3,122.5 L1182.3,123.7 L1186.3,125.1 L1190.3,126.8 L1194.3,128.9 L1198.3,131.3 L1202.3,134.3 L1206.3,138.1 L1210.3,140.0 L1214.3,140.0 L1218.3,140.0 L1222.3,140.0 L1226.3,140.0 L1230.3,140.0 L1234.3,140.0 L1238.3,140.0 L1242.3,140.0 L1246.3,140.0 L1250.3,140.0 L1254.3,140.0 L1258.3,140.0 L1262.3,140.0 L1266.3,140.0 L1270.3,140.0 L1274.3,140.0 L1278.3,140.0 L1282.4,140.0 L1286.4,140.0 L1290.4,140.0 L1294.4,140.0 L1298.4,140.0 L1302.4,140.0 L1306.4,140.0 L1310.4,140.0 L1314.4,140.0 L1318.4,140.0 L1322.4,140.0 L1326.4,140.0 L1330.4,140.0 L1334.4,140.0 L1338.4,140.0 L1342.4,140.0 L1346.4,140.0 L1350.4,140.0 L1354.4,140.0 L1358.4,140.0 L1362.4,140.0 L1366.4,140.0 L1370.4,140.0 L1374.4,140.0 L1378.4,140.0 L1382.4,140.0 L1386.4,140.0 L1390.4,140.0 L1394.4,140.0 L1398.4,140.0 L1402.4,140.0 L1406.4,140.0 L1410.4,140.0 L1414.5,140.0 L1418.5,140.0 L1422.5,140.0 L1426.5,140.0 L1430.5,140.0 L1434.5,140.0 L1438.5,140.0 L1442.5,140.0 L1446.5,140.0 L1450.5,140.0 L1454.5,140.0 L1458.5,140.0 L1462.5,140.0 L1466.5,140.0 L1470.5,140.0 L1474.5,140.0 L1478.5,140.0 L1478.5,150Z" fill="#fcb900"/>
<path d="M822,150 L822.0,140.0 L826.0,140.0 L830.0,140.0 L834.0,140.0 L838.0,140.0 L842.0,140.0 L846.0,140.0 L850.0,140.0 L854.0,140.0 L858.0,140.0 L862.0,140.0 L866.0,140.0 L870.0,140.0 L874.0,140.0 L878.0,140.0 L882.0,140.0 L886.0,140.0 L890.1,140.0 L894.1,140.0 L898.1,140.0 L902.1,140.0 L906.1,140.0 L910.1,140.0 L914.1,140.0 L918.1,140.0 L922.1,140.0 L926.1,140.0 L930.1,140.0 L934.1,140.0 L938.1,140.0 L942.1,140.0 L946.1,140.0 L950.1,140.0 L954.1,140.0 L958.1,140.0 L962.1,140.0 L966.1,140.0 L970.1,140.0 L974.1,140.0 L978.1,140.0 L982.1,140.0 L986.1,140.0 L990.1,140.0 L994.1,140.0 L998.1,140.0 L1002.1,140.0 L1006.1,140.0 L1010.1,140.0 L1014.1,140.0 L1018.1,140.0 L1022.2,140.0 L1026.2,140.0 L1030.2,140.0 L1034.2,140.0 L1038.2,140.0 L1042.2,140.0 L1046.2,140.0 L1050.2,140.0 L1054.2,140.0 L1058.2,140.0 L1062.2,140.0 L1066.2,140.0 L1070.2,140.0 L1074.2,140.0 L1078.2,140.0 L1082.2,140.0 L1086.2,140.0 L1090.2,140.0 L1094.2,140.0 L1098.2,140.0 L1102.2,140.0 L1106.2,137.1 L1110.2,133.7 L1114.2,131.1 L1118.2,129.0 L1122.2,127.2 L1126.2,125.8 L1130.2,124.7 L1134.2,123.8 L1138.2,123.1 L1142.2,122.6 L1146.2,122.3 L1150.2,122.1 L1154.3,122.1 L1158.3,122.3 L1162.3,122.7 L1166.3,123.3 L1170.3,124.0 L1174.3,125.0 L1178.3,126.2 L1182.3,127.7 L1186.3,129.5 L1190.3,131.7 L1194.3,134.5 L1198.3,138.2 L1202.3,140.0 L1206.3,140.0 L1210.3,140.0 L1214.3,140.0 L1218.3,140.0 L1222.3,140.0 L1226.3,140.0 L1230.3,140.0 L1234.3,140.0 L1238.3,140.0 L1242.3,140.0 L1246.3,140.0 L1250.3,140.0 L1254.3,140.0 L1258.3,140.0 L1262.3,140.0 L1266.3,140.0 L1270.3,140.0 L1274.3,140.0 L1278.3,140.0 L1282.4,140.0 L1286.4,140.0 L1290.4,140.0 L1294.4,140.0 L1298.4,140.0 L1302.4,140.0 L1306.4,140.0 L1310.4,140.0 L1314.4,140.0 L1318.4,140.0 L1322.4,140.0 L1326.4,140.0 L1330.4,140.0 L1334.4,140.0 L1338.4,140.0 L1342.4,140.0 L1346.4,140.0 L1350.4,140.0 L1354.4,140.0 L1358.4,140.0 L1362.4,140.0 L1366.4,140.0 L1370.4,140.0 L1374.4,140.0 L1378.4,140.0 L1382.4,140.0 L1386.4,140.0 L1390.4,140.0 L1394.4,140.0 L1398.4,140.0 L1402.4,140.0 L1406.4,140.0 L1410.4,140.0 L1414.5,140.0 L1418.5,140.0 L1422.5,140.0 L1426.5,140.0 L1430.5,140.0 L1434.5,140.0 L1438.5,140.0 L1442.5,140.0 L1446.5,140.0 L1450.5,140.0 L1454.5,140.0 L1458.5,140.0 L1462.5,140.0 L1466.5,140.0 L1470.5,140.0 L1474.5,140.0 L1478.5,140.0 L1478.5,150Z" fill="#fcc600"/>
<path d="M822,150 L822.0,140.0 L826.0,140.0 L830.0,140.0 L834.0,140.0 L838.0,140.0 L842.0,140.0 L846.0,140.0 L850.0,140.0 L854.0,140.0 L858.0,140.0 L862.0,140.0 L866.0,140.0 L870.0,140.0 L874.0,140.0 L878.0,140.0 L882.0,140.0 L886.0,140.0 L890.1,140.0 L894.1,140.0 L898.1,140.0 L902.1,140.0 L906.1,140.0 L910.1,140.0 L914.1,140.0 L918.1,140.0 L922.1,140.0 L926.1,140.0 L930.1,140.0 L934.1,140.0 L938.1,140.0 L942.1,140.0 L946.1,140.0 L950.1,140.0 L954.1,140.0 L958.1,140.0 L962.1,140.0 L966.1,140.0 L970.1,140.0 L974.1,140.0 L978.1,140.0 L982.1,140.0 L986.1,140.0 L990.1,140.0 L994.1,140.0 L998.1,140.0 L1002.1,140.0 L1006.1,140.0 L1010.1,140.0 L1014.1,140.0 L1018.1,140.0 L1022.2,140.0 L1026.2,140.0 L1030.2,140.0 L1034.2,140.0 L1038.2,140.0 L1042.2,140.0 L1046.2,140.0 L1050.2,140.0 L1054.2,140.0 L1058.2,140.0 L1062.2,140.0 L1066.2,140.0 L1070.2,140.0 L1074.2,140.0 L1078.2,140.0 L1082.2,140.0 L1086.2,140.0 L1090.2,140.0 L1094.2,140.0 L1098.2,140.0 L1102.2,140.0 L1106.2,140.0 L1110.2,140.0 L1114.2,137.2 L1118.2,134.1 L1122.2,131.8 L1126.2,130.0 L1130.2,128.5 L1134.2,127.4 L1138.2,126.6 L1142.2,126.0 L1146.2,125.6 L1150.2,125.4 L1154.3,125.5 L1158.3,125.7 L1162.3,126.1 L1166.3,126.8 L1170.3,127.7 L1174.3,128.9 L1178.3,130.4 L1182.3,132.4 L1186.3,134.9 L1190.3,138.3 L1194.3,140.0 L1198.3,140.0 L1202.3,140.0 L1206.3,140.0 L1210.3,140.0 L1214.3,140.0 L1218.3,140.0 L1222.3,140.0 L1226.3,140.0 L1230.3,140.0 L1234.3,140.0 L1238.3,140.0 L1242.3,140.0 L1246.3,140.0 L1250.3,140.0 L1254.3,140.0 L1258.3,140.0 L1262.3,140.0 L1266.3,140.0 L1270.3,140.0 L1274.3,140.0 L1278.3,140.0 L1282.4,140.0 L1286.4,140.0 L1290.4,140.0 L1294.4,140.0 L1298.4,140.0 L1302.4,140.0 L1306.4,140.0 L1310.4,140.0 L1314.4,140.0 L1318.4,140.0 L1322.4,140.0 L1326.4,140.0 L1330.4,140.0 L1334.4,140.0 L1338.4,140.0 L1342.4,140.0 L1346.4,140.0 L1350.4,140.0 L1354.4,140.0 L1358.4,140.0 L1362.4,140.0 L1366.4,140.0 L1370.4,140.0 L1374.4,140.0 L1378.4,140.0 L1382.4,140.0 L1386.4,140.0 L1390.4,140.0 L1394.4,140.0 L1398.4,140.0 L1402.4,140.0 L1406.4,140.0 L1410.4,140.0 L1414.5,140.0 L1418.5,140.0 L1422.5,140.0 L1426.5,140.0 L1430.5,140.0 L1434.5,140.0 L1438.5,140.0 L1442.5,140.0 L1446.5,140.0 L1450.5,140.0 L1454.5,140.0 L1458.5,140.0 L1462.5,140.0 L1466.5,140.0 L1470.5,140.0 L1474.5,140.0 L1478.5,140.0 L1478.5,150Z" fill="#fcd200"/>
<path d="M822,150 L822.0,140.0 L826.0,140.0 L830.0,140.0 L834.0,140.0 L838.0,140.0 L842.0,140.0 L846.0,140.0 L850.0,140.0 L854.0,140.0 L858.0,140.0 L862.0,140.0 L866.0,140.0 L870.0,140.0 L874.0,140.0 L878.0,140.0 L882.0,140.0 L886.0,140.0 L890.1,140.0 L894.1,140.0 L898.1,140.0 L902.1,140.0 L906.1,140.0 L910.1,140.0 L914.1,140.0 L918.1,140.0 L922.1,140.0 L926.1,140.0 L930.1,140.0 L934.1,140.0 L938.1,140.0 L942.1,140.0 L946.1,140.0 L950.1,140.0 L954.1,140.0 L958.1,140.0 L962.1,140.0 L966.1,140.0 L970.1,140.0 L974.1,140.0 L978.1,140.0 L982.1,140.0 L986.1,140.0 L990.1,140.0 L994.1,140.0 L998.1,140.0 L1002.1,140.0 L1006.1,140.0 L1010.1,140.0 L1014.1,140.0 L1018.1,140.0 L1022.2,140.0 L1026.2,140.0 L1030.2,140.0 L1034.2,140.0 L1038.2,140.0 L1042.2,140.0 L1046.2,140.0 L1050.2,140.0 L1054.2,140.0 L1058.2,140.0 L1062.2,140.0 L1066.2,140.0 L1070.2,140.0 L1074.2,140.0 L1078.2,140.0 L1082.2,140.0 L1086.2,140.0 L1090.2,140.0 L1094.2,140.0 L1098.2,140.0 L1102.2,140.0 L1106.2,140.0 L1110.2,140.0 L1114.2,140.0 L1118.2,140.0 L1122.2,138.0 L1126.2,135.1 L1130.2,133.1 L1134.2,131.6 L1138.2,130.6 L1142.2,129.8 L1146.2,129.3 L1150.2,129.1 L1154.3,129.1 L1158.3,129.4 L1162.3,130.0 L1166.3,130.8 L1170.3,132.0 L1174.3,133.6 L1178.3,135.8 L1182.3,139.0 L1186.3,140.0 L1190.3,140.0 L1194.3,140.0 L1198.3,140.0 L1202.3,140.0 L1206.3,140.0 L1210.3,140.0 L1214.3,140.0 L1218.3,140.0 L1222.3,140.0 L1226.3,140.0 L1230.3,140.0 L1234.3,140.0 L1238.3,140.0 L1242.3,140.0 L1246.3,140.0 L1250.3,140.0 L1254.3,140.0 L1258.3,140.0 L1262.3,140.0 L1266.3,140.0 L1270.3,140.0 L1274.3,140.0 L1278.3,140.0 L1282.4,140.0 L1286.4,140.0 L1290.4,140.0 L1294.4,140.0 L1298.4,140.0 L1302.4,140.0 L1306.4,140.0 L1310.4,140.0 L1314.4,140.0 L1318.4,140.0 L1322.4,140.0 L1326.4,140.0 L1330.4,140.0 L1334.4,140.0 L1338.4,140.0 L1342.4,140.0 L1346.4,140.0 L1350.4,140.0 L1354.4,140.0 L1358.4,140.0 L1362.4,140.0 L1366.4,140.0 L1370.4,140.0 L1374.4,140.0 L1378.4,140.0 L1382.4,140.0 L1386.4,140.0 L1390.4,140.0 L1394.4,140.0 L1398.4,140.0 L1402.4,140.0 L1406.4,140.0 L1410.4,140.0 L1414.5,140.0 L1418.5,140.0 L1422.5,140.0 L1426.5,140.0 L1430.5,140.0 L1434.5,140.0 L1438.5,140.0 L1442.5,140.0 L1446.5,140.0 L1450.5,140.0 L1454.5,140.0 L1458.5,140.0 L1462.5,140.0 L1466.5,140.0 L1470.5,140.0 L1474.5,140.0 L1478.5,140.0 L1478.5,150Z" fill="#fcde00"/>
<path d="M822,150 L822.0,140.0 L826.0,140.0 L830.0,140.0 L834.0,140.0 L838.0,140.0 L842.0,140.0 L846.0,140.0 L850.0,140.0 L854.0,140.0 L858.0,140.0 L862.0,140.0 L866.0,140.0 L870.0,140.0 L874.0,140.0 L878.0,140.0 L882.0,140.0 L886.0,140.0 L890.1,140.0 L894.1,140.0 L898.1,140.0 L902.1,140.0 L906.1,140.0 L910.1,140.0 L914.1,140.0 L918.1,140.0 L922.1,140.0 L926.1,140.0 L930.1,140.0 L934.1,140.0 L938.1,140.0 L942.1,140.0 L946.1,140.0 L950.1,140.0 L954.1,140.0 L958.1,140.0 L962.1,140.0 L966.1,140.0 L970.1,140.0 L974.1,140.0 L978.1,140.0 L982.1,140.0 L986.1,140.0 L990.1,140.0 L994.1,140.0 L998.1,140.0 L1002.1,140.0 L1006.1,140.0 L1010.1,140.0 L1014.1,140.0 L1018.1,140.0 L1022.2,140.0 L1026.2,140.0 L1030.2,140.0 L1034.2,140.0 L1038.2,140.0 L1042.2,140.0 L1046.2,140.0 L1050.2,140.0 L1054.2,140.0 L1058.2,140.0 L1062.2,140.0 L1066.2,140.0 L1070.2,140.0 L1074.2,140.0 L1078.2,140.0 L1082.2,140.0 L1086.2,140.0 L1090.2,140.0 L1094.2,140.0 L1098.2,140.0 L1102.2,140.0 L1106.2,140.0 L1110.2,140.0 L1114.2,140.0 L1118.2,140.0 L1122.2,140.0 L1126.2,140.0 L1130.2,140.0 L1134.2,137.3 L1138.2,135.6 L1142.2,134.5 L1146.2,133.8 L1150.2,133.5 L1154.3,133.6 L1158.3,134.0 L1162.3,134.7 L1166.3,136.0 L1170.3,137.9 L1174.3,140.0 L1178.3,140.0 L1182.3,140.0 L1186.3,140.0 L1190.3,140.0 L1194.3,140.0 L1198.3,140.0 L1202.3,140.0 L1206.3,140.0 L1210.3,140.0 L1214.3,140.0 L1218.3,140.0 L1222.3,140.0 L1226.3,140.0 L1230.3,140.0 L1234.3,140.0 L1238.3,140.0 L1242.3,140.0 L1246.3,140.0 L1250.3,140.0 L1254.3,140.0 L1258.3,140.0 L1262.3,140.0 L1266.3,140.0 L1270.3,140.0 L1274.3,140.0 L1278.3,140.0 L1282.4,140.0 L1286.4,140.0 L1290.4,140.0 L1294.4,140.0 L1298.4,140.0 L1302.4,140.0 L1306.4,140.0 L1310.4,140.0 L1314.4,140.0 L1318.4,140.0 L1322.4,140.0 L1326.4,140.0 L1330.4,140.0 L1334.4,140.0 L1338.4,140.0 L1342.4,140.0 L1346.4,140.0 L1350.4,140.0 L1354.4,140.0 L1358.4,140.0 L1362.4,140.0 L1366.4,140.0 L1370.4,140.0 L1374.4,140.0 L1378.4,140.0 L1382.4,140.0 L1386.4,140.0 L1390.4,140.0 L1394.4,140.0 L1398.4,140.0 L1402.4,140.0 L1406.4,140.0 L1410.4,140.0 L1414.5,140.0 L1418.5,140.0 L1422.5,140.0 L1426.5,140.0 L1430.5,140.0 L1434.5,140.0 L1438.5,140.0 L1442.5,140.0 L1446.5,140.0 L1450.5,140.0 L1454.5,140.0 L1458.5,140.0 L1462.5,140.0 L1466.5,140.0 L1470.5,140.0 L1474.5,140.0 L1478.5,140.0 L1478.5,150Z" fill="#fcea00"/>
</g></g>
<line x1="832" y1="75.9" x2="1468.5" y2="75.9" stroke="#dcbcb0" stroke-opacity="0.85" stroke-width="1.4"/>
<line x1="832" y1="109.0" x2="1468.5" y2="109.0" stroke="#dcbcb0" stroke-opacity="0.85" stroke-width="1.4"/>
<rect x="826.5" y="35.8" width="647.8" height="8.5" fill="#00b050"/>
<rect x="832" y="40.9" width="636" height="2.8" fill="#5c7a34"/>
<defs><linearGradient id="bgrad" gradientUnits="userSpaceOnUse" x1="0" y1="140" x2="0" y2="404">
<stop offset="0.0000" stop-color="#fc7400"/>
<stop offset="0.0152" stop-color="#fc8b00"/>
<stop offset="0.0303" stop-color="#fca700"/>
<stop offset="0.0455" stop-color="#fcc800"/>
<stop offset="0.0606" stop-color="#fce800"/>
<stop offset="0.0758" stop-color="#f2fc00"/>
<stop offset="0.0909" stop-color="#d8fc00"/>
<stop offset="0.1061" stop-color="#bffc00"/>
<stop offset="0.1212" stop-color="#a5fc00"/>
<stop offset="0.1364" stop-color="#8bfc00"/>
<stop offset="0.1515" stop-color="#71fc00"/>
<stop offset="0.1667" stop-color="#57fc00"/>
<stop offset="0.1818" stop-color="#3dfc00"/>
<stop offset="0.1970" stop-color="#24fc00"/>
<stop offset="0.2121" stop-color="#0afc00"/>
<stop offset="0.2273" stop-color="#00fc0b"/>
<stop offset="0.2424" stop-color="#00fc1d"/>
<stop offset="0.2576" stop-color="#00fc2f"/>
<stop offset="0.2727" stop-color="#00fc41"/>
<stop offset="0.2879" stop-color="#00fc53"/>
<stop offset="0.3030" stop-color="#00fc64"/>
<stop offset="0.3182" stop-color="#00fc76"/>
<stop offset="0.3333" stop-color="#00fc88"/>
<stop offset="0.3485" stop-color="#00fc9a"/>
<stop offset="0.3636" stop-color="#00fcac"/>
<stop offset="0.3788" stop-color="#00fcbe"/>
<stop offset="0.3939" stop-color="#00fccf"/>
<stop offset="0.4091" stop-color="#00fce1"/>
<stop offset="0.4242" stop-color="#00fcf3"/>
<stop offset="0.4394" stop-color="#00f6fc"/>
<stop offset="0.4545" stop-color="#00ebfc"/>
<stop offset="0.4697" stop-color="#00dffc"/>
<stop offset="0.4848" stop-color="#00d4fc"/>
<stop offset="0.5000" stop-color="#00c8fc"/>
<stop offset="0.5152" stop-color="#00bdfc"/>
<stop offset="0.5303" stop-color="#00b1fc"/>
<stop offset="0.5455" stop-color="#00a5fc"/>
<stop offset="0.5606" stop-color="#0099fc"/>
<stop offset="0.5758" stop-color="#008dfc"/>
<stop offset="0.5909" stop-color="#0080fc"/>
<stop offset="0.6061" stop-color="#0074fc"/>
<stop offset="0.6212" stop-color="#0068fc"/>
<stop offset="0.6364" stop-color="#005cfc"/>
<stop offset="0.6515" stop-color="#0050fc"/>
<stop offset="0.6667" stop-color="#0044fc"/>
<stop offset="0.6818" stop-color="#0037fc"/>
<stop offset="0.6970" stop-color="#0027fc"/>
<stop offset="0.7121" stop-color="#0017fc"/>
<stop offset="0.7273" stop-color="#0000fc"/>
<stop offset="0.7424" stop-color="#0000fc"/>
<stop offset="0.7576" stop-color="#0000fc"/>
<stop offset="0.7727" stop-color="#0000fc"/>
<stop offset="0.7879" stop-color="#0000fc"/>
<stop offset="0.8030" stop-color="#0000fc"/>
<stop offset="0.8182" stop-color="#0000fc"/>
<stop offset="0.8333" stop-color="#0000fc"/>
<stop offset="0.8485" stop-color="#0000fc"/>
<stop offset="0.8636" stop-color="#0000fc"/>
<stop offset="0.8788" stop-color="#0000fc"/>
<stop offset="0.8939" stop-color="#0000fc"/>
<stop offset="0.9091" stop-color="#0000fc"/>
<stop offset="0.9242" stop-color="#0000fc"/>
<stop offset="0.9394" stop-color="#0000fc"/>
<stop offset="0.9545" stop-color="#0000fc"/>
<stop offset="0.9697" stop-color="#0000fc"/>
<stop offset="0.9848" stop-color="#0000fc"/>
<stop offset="1.0000" stop-color="#0000fc"/>
</linearGradient>
<linearGradient id="bpil" gradientUnits="userSpaceOnUse" x1="0" y1="138" x2="0" y2="404">
<stop offset="0.0075" stop-color="#fce300"/>
<stop offset="0.0226" stop-color="#fce800"/>
<stop offset="0.0376" stop-color="#fcec00"/>
<stop offset="0.0526" stop-color="#fcf100"/>
<stop offset="0.0677" stop-color="#fcf600"/>
<stop offset="0.0827" stop-color="#f2fc00"/>
<stop offset="0.0977" stop-color="#d8fc00"/>
<stop offset="0.1128" stop-color="#bffc00"/>
<stop offset="0.1278" stop-color="#a5fc00"/>
<stop offset="0.1429" stop-color="#8bfc00"/>
<stop offset="0.1579" stop-color="#71fc00"/>
<stop offset="0.1729" stop-color="#57fc00"/>
<stop offset="0.1880" stop-color="#3dfc00"/>
<stop offset="0.2030" stop-color="#24fc00"/>
<stop offset="0.2180" stop-color="#0afc00"/>
<stop offset="0.2331" stop-color="#00fc0b"/>
<stop offset="0.2481" stop-color="#00fc1d"/>
<stop offset="0.2632" stop-color="#00fc2f"/>
<stop offset="0.2782" stop-color="#00fc41"/>
<stop offset="0.2932" stop-color="#00fc53"/>
<stop offset="0.3083" stop-color="#00fc64"/>
<stop offset="0.3233" stop-color="#00fc76"/>
<stop offset="0.3383" stop-color="#00fc88"/>
<stop offset="0.3534" stop-color="#00fc9a"/>
<stop offset="0.3684" stop-color="#00fcac"/>
<stop offset="0.3835" stop-color="#00fcbe"/>
<stop offset="0.3985" stop-color="#00fccf"/>
<stop offset="0.4135" stop-color="#00fce1"/>
<stop offset="0.4286" stop-color="#00fcf3"/>
<stop offset="0.4436" stop-color="#00f6fc"/>
<stop offset="0.4586" stop-color="#00ebfc"/>
<stop offset="0.4737" stop-color="#00dffc"/>
<stop offset="0.4887" stop-color="#00d4fc"/>
<stop offset="0.5038" stop-color="#00c8fc"/>
<stop offset="0.5188" stop-color="#00bdfc"/>
<stop offset="0.5338" stop-color="#00b1fc"/>
<stop offset="0.5489" stop-color="#00a5fc"/>
<stop offset="0.5639" stop-color="#0099fc"/>
<stop offset="0.5789" stop-color="#008dfc"/>
<stop offset="0.5940" stop-color="#0080fc"/>
<stop offset="0.6090" stop-color="#0074fc"/>
<stop offset="0.6241" stop-color="#0068fc"/>
<stop offset="0.6391" stop-color="#005cfc"/>
<stop offset="0.6541" stop-color="#0050fc"/>
<stop offset="0.6692" stop-color="#0044fc"/>
<stop offset="0.6842" stop-color="#0037fc"/>
<stop offset="0.6992" stop-color="#0027fc"/>
<stop offset="0.7143" stop-color="#0017fc"/>
<stop offset="0.7293" stop-color="#0000fc"/>
<stop offset="0.7444" stop-color="#0000fc"/>
<stop offset="0.7594" stop-color="#0000fc"/>
<stop offset="0.7744" stop-color="#0000fc"/>
<stop offset="0.7895" stop-color="#0000fc"/>
<stop offset="0.8045" stop-color="#0000fc"/>
<stop offset="0.8195" stop-color="#0000fc"/>
<stop offset="0.8346" stop-color="#0000fc"/>
<stop offset="0.8496" stop-color="#0000fc"/>
<stop offset="0.8647" stop-color="#0000fc"/>
<stop offset="0.8797" stop-color="#0000fc"/>
<stop offset="0.8947" stop-color="#0000fc"/>
<stop offset="0.9098" stop-color="#0000fc"/>
<stop offset="0.9248" stop-color="#0000fc"/>
<stop offset="0.9398" stop-color="#0000fc"/>
<stop offset="0.9549" stop-color="#0000fc"/>
<stop offset="0.9699" stop-color="#0000fc"/>
<stop offset="0.9850" stop-color="#0000fc"/>
<stop offset="1.0000" stop-color="#0000fc"/>
</linearGradient></defs>
<rect x="826.5" y="140" width="647.8" height="264" fill="url(#bgrad)"/>
<rect x="1087.3" y="138" width="129" height="266" fill="url(#bpil)"/>
<path d="M826.5,404 L826.5,249.5 L835.5,249.5 L844.5,249.5 L853.5,249.5 L862.5,249.5 L871.5,249.5 L880.5,249.5 L889.5,249.5 L898.5,249.5 L907.5,249.5 L916.5,249.5 L925.5,249.5 L934.5,249.5 L943.5,249.5 L952.5,249.5 L961.5,249.6 L970.5,249.6 L979.5,249.7 L988.5,249.7 L997.4,249.8 L1006.4,249.8 L1015.4,249.9 L1024.4,249.9 L1033.4,250.0 L1042.4,250.0 L1051.4,250.1 L1060.4,250.2 L1069.4,250.2 L1078.4,250.3 L1087.4,250.4 L1092.7,250.4 L1096.4,250.5 L1105.4,250.7 L1114.4,250.8 L1123.4,251.0 L1123.7,251.0 L1132.4,251.0 L1141.4,251.0 L1150.4,251.0 L1159.4,251.0 L1168.4,251.0 L1177.4,251.0 L1179.7,251.0 L1186.4,250.9 L1195.4,250.7 L1204.4,250.6 L1210.7,250.4 L1213.4,250.4 L1222.4,250.3 L1231.4,250.3 L1240.4,250.2 L1249.4,250.1 L1258.4,250.1 L1267.4,250.0 L1276.4,249.9 L1285.4,249.9 L1294.4,249.8 L1303.4,249.8 L1312.3,249.7 L1321.3,249.7 L1330.3,249.6 L1339.3,249.6 L1348.3,249.6 L1357.3,249.5 L1366.3,249.5 L1375.3,249.5 L1384.3,249.5 L1393.3,249.5 L1402.3,249.5 L1411.3,249.5 L1420.3,249.5 L1429.3,249.5 L1438.3,249.5 L1447.3,249.5 L1456.3,249.5 L1465.3,249.5 L1474.3,249.5 L1474.3,404Z" fill="#00fced"/>
<path d="M826.5,404 L826.5,251.7 L835.5,251.7 L844.5,251.7 L853.5,251.7 L862.5,251.7 L871.5,251.7 L880.5,251.7 L889.5,251.7 L898.5,251.7 L907.5,251.7 L916.5,251.7 L925.5,251.7 L934.5,251.8 L943.5,251.8 L952.5,251.8 L961.5,251.9 L970.5,251.9 L979.5,252.0 L988.5,252.1 L997.4,252.1 L1006.4,252.2 L1015.4,252.3 L1024.4,252.4 L1033.4,252.5 L1042.4,252.6 L1051.4,252.6 L1060.4,252.7 L1069.4,252.8 L1078.4,252.9 L1087.4,253.1 L1092.7,253.1 L1096.4,253.2 L1105.4,253.5 L1114.4,253.7 L1123.4,254.0 L1123.7,254.0 L1132.4,254.0 L1141.4,254.0 L1150.4,254.0 L1159.4,254.0 L1168.4,254.0 L1177.4,254.0 L1179.7,254.0 L1186.4,253.8 L1195.4,253.5 L1204.4,253.3 L1210.7,253.1 L1213.4,253.1 L1222.4,253.0 L1231.4,252.9 L1240.4,252.8 L1249.4,252.7 L1258.4,252.6 L1267.4,252.5 L1276.4,252.4 L1285.4,252.3 L1294.4,252.2 L1303.4,252.2 L1312.3,252.1 L1321.3,252.0 L1330.3,252.0 L1339.3,251.9 L1348.3,251.9 L1357.3,251.8 L1366.3,251.8 L1375.3,251.7 L1384.3,251.7 L1393.3,251.7 L1402.3,251.7 L1411.3,251.7 L1420.3,251.7 L1429.3,251.7 L1438.3,251.7 L1447.3,251.7 L1456.3,251.7 L1465.3,251.7 L1474.3,251.7 L1474.3,404Z" fill="#00fcf7"/>
<path d="M826.5,404 L826.5,254.0 L835.5,254.0 L844.5,254.0 L853.5,254.0 L862.5,254.0 L871.5,254.0 L880.5,254.0 L889.5,254.0 L898.5,254.0 L907.5,254.0 L916.5,254.0 L925.5,254.0 L934.5,254.0 L943.5,254.1 L952.5,254.1 L961.5,254.2 L970.5,254.3 L979.5,254.3 L988.5,254.4 L997.4,254.5 L1006.4,254.6 L1015.4,254.7 L1024.4,254.8 L1033.4,254.9 L1042.4,255.1 L1051.4,255.2 L1060.4,255.3 L1069.4,255.4 L1078.4,255.6 L1087.4,255.7 L1092.7,255.8 L1096.4,255.9 L1105.4,256.2 L1114.4,256.6 L1123.4,256.9 L1123.7,256.9 L1132.4,256.9 L1141.4,256.9 L1150.4,256.9 L1159.4,256.9 L1168.4,256.9 L1177.4,256.9 L1179.7,256.9 L1186.4,256.7 L1195.4,256.3 L1204.4,256.0 L1210.7,255.8 L1213.4,255.7 L1222.4,255.6 L1231.4,255.5 L1240.4,255.3 L1249.4,255.2 L1258.4,255.1 L1267.4,255.0 L1276.4,254.9 L1285.4,254.8 L1294.4,254.6 L1303.4,254.5 L1312.3,254.5 L1321.3,254.4 L1330.3,254.3 L1339.3,254.2 L1348.3,254.1 L1357.3,254.1 L1366.3,254.0 L1375.3,254.0 L1384.3,254.0 L1393.3,254.0 L1402.3,254.0 L1411.3,254.0 L1420.3,254.0 L1429.3,254.0 L1438.3,254.0 L1447.3,254.0 L1456.3,254.0 L1465.3,254.0 L1474.3,254.0 L1474.3,404Z" fill="#00f7fc"/>
<path d="M826.5,404 L826.5,257.5 L835.5,257.5 L844.5,257.5 L853.5,257.5 L862.5,257.5 L871.5,257.5 L880.5,257.5 L889.5,257.5 L898.5,257.5 L907.5,257.5 L916.5,257.5 L925.5,257.5 L934.5,257.5 L943.5,257.6 L952.5,257.7 L961.5,257.8 L970.5,257.9 L979.5,258.0 L988.5,258.1 L997.4,258.2 L1006.4,258.3 L1015.4,258.5 L1024.4,258.6 L1033.4,258.8 L1042.4,258.9 L1051.4,259.1 L1060.4,259.3 L1069.4,259.4 L1078.4,259.6 L1087.4,259.8 L1092.7,259.9 L1096.4,260.1 L1105.4,260.5 L1114.4,260.9 L1123.4,261.4 L1123.7,261.4 L1132.4,261.4 L1141.4,261.4 L1150.4,261.4 L1159.4,261.4 L1168.4,261.4 L1177.4,261.4 L1179.7,261.4 L1186.4,261.1 L1195.4,260.6 L1204.4,260.2 L1210.7,259.9 L1213.4,259.8 L1222.4,259.7 L1231.4,259.5 L1240.4,259.3 L1249.4,259.1 L1258.4,259.0 L1267.4,258.8 L1276.4,258.7 L1285.4,258.5 L1294.4,258.4 L1303.4,258.2 L1312.3,258.1 L1321.3,258.0 L1330.3,257.9 L1339.3,257.8 L1348.3,257.7 L1357.3,257.6 L1366.3,257.6 L1375.3,257.5 L1384.3,257.5 L1393.3,257.5 L1402.3,257.5 L1411.3,257.5 L1420.3,257.5 L1429.3,257.5 L1438.3,257.5 L1447.3,257.5 L1456.3,257.5 L1465.3,257.5 L1474.3,257.5 L1474.3,404Z" fill="#00edfc"/>
<path d="M826.5,404 L826.5,261.0 L835.5,261.0 L844.5,261.0 L853.5,261.0 L862.5,261.0 L871.5,261.0 L880.5,261.0 L889.5,261.0 L898.5,261.0 L907.5,261.0 L916.5,261.0 L925.5,261.0 L934.5,261.1 L943.5,261.1 L952.5,261.2 L961.5,261.3 L970.5,261.4 L979.5,261.6 L988.5,261.7 L997.4,261.9 L1006.4,262.0 L1015.4,262.2 L1024.4,262.4 L1033.4,262.6 L1042.4,262.8 L1051.4,263.0 L1060.4,263.2 L1069.4,263.4 L1078.4,263.6 L1087.4,263.9 L1092.7,264.0 L1096.4,264.2 L1105.4,264.8 L1114.4,265.3 L1123.4,265.8 L1123.7,265.8 L1132.4,265.8 L1141.4,265.8 L1150.4,265.8 L1159.4,265.8 L1168.4,265.8 L1177.4,265.8 L1179.7,265.8 L1186.4,265.5 L1195.4,264.9 L1204.4,264.4 L1210.7,264.0 L1213.4,263.9 L1222.4,263.7 L1231.4,263.5 L1240.4,263.3 L1249.4,263.0 L1258.4,262.8 L1267.4,262.6 L1276.4,262.4 L1285.4,262.3 L1294.4,262.1 L1303.4,261.9 L1312.3,261.8 L1321.3,261.6 L1330.3,261.5 L1339.3,261.4 L1348.3,261.2 L1357.3,261.2 L1366.3,261.1 L1375.3,261.0 L1384.3,261.0 L1393.3,261.0 L1402.3,261.0 L1411.3,261.0 L1420.3,261.0 L1429.3,261.0 L1438.3,261.0 L1447.3,261.0 L1456.3,261.0 L1465.3,261.0 L1474.3,261.0 L1474.3,404Z" fill="#00e3fc"/>
<path d="M826.5,404 L826.5,264.5 L835.5,264.5 L844.5,264.5 L853.5,264.5 L862.5,264.5 L871.5,264.5 L880.5,264.5 L889.5,264.5 L898.5,264.5 L907.5,264.5 L916.5,264.5 L925.5,264.5 L934.5,264.6 L943.5,264.7 L952.5,264.8 L961.5,264.9 L970.5,265.0 L979.5,265.2 L988.5,265.4 L997.4,265.5 L1006.4,265.7 L1015.4,265.9 L1024.4,266.2 L1033.4,266.4 L1042.4,266.6 L1051.4,266.9 L1060.4,267.1 L1069.4,267.4 L1078.4,267.6 L1087.4,267.9 L1092.7,268.1 L1096.4,268.4 L1105.4,269.0 L1114.4,269.6 L1123.4,270.3 L1123.7,270.3 L1132.4,270.3 L1141.4,270.3 L1150.4,270.3 L1159.4,270.3 L1168.4,270.3 L1177.4,270.3 L1179.7,270.3 L1186.4,269.8 L1195.4,269.2 L1204.4,268.5 L1210.7,268.1 L1213.4,268.0 L1222.4,267.7 L1231.4,267.5 L1240.4,267.2 L1249.4,266.9 L1258.4,266.7 L1267.4,266.5 L1276.4,266.2 L1285.4,266.0 L1294.4,265.8 L1303.4,265.6 L1312.3,265.4 L1321.3,265.2 L1330.3,265.1 L1339.3,264.9 L1348.3,264.8 L1357.3,264.7 L1366.3,264.6 L1375.3,264.5 L1384.3,264.5 L1393.3,264.5 L1402.3,264.5 L1411.3,264.5 L1420.3,264.5 L1429.3,264.5 L1438.3,264.5 L1447.3,264.5 L1456.3,264.5 L1465.3,264.5 L1474.3,264.5 L1474.3,404Z" fill="#00d9fc"/>
<path d="M826.5,404 L826.5,268.0 L835.5,268.0 L844.5,268.0 L853.5,268.0 L862.5,268.0 L871.5,268.0 L880.5,268.0 L889.5,268.0 L898.5,268.0 L907.5,268.0 L916.5,268.0 L925.5,268.0 L934.5,268.1 L943.5,268.2 L952.5,268.3 L961.5,268.5 L970.5,268.6 L979.5,268.8 L988.5,269.0 L997.4,269.2 L1006.4,269.4 L1015.4,269.7 L1024.4,269.9 L1033.4,270.2 L1042.4,270.5 L1051.4,270.7 L1060.4,271.0 L1069.4,271.3 L1078.4,271.6 L1087.4,272.0 L1092.7,272.2 L1096.4,272.5 L1105.4,273.2 L1114.4,274.0 L1123.4,274.7 L1123.7,274.7 L1132.4,274.7 L1141.4,274.7 L1150.4,274.7 L1159.4,274.7 L1168.4,274.7 L1177.4,274.7 L1179.7,274.7 L1186.4,274.2 L1195.4,273.4 L1204.4,272.7 L1210.7,272.2 L1213.4,272.1 L1222.4,271.7 L1231.4,271.4 L1240.4,271.1 L1249.4,270.8 L1258.4,270.5 L1267.4,270.3 L1276.4,270.0 L1285.4,269.7 L1294.4,269.5 L1303.4,269.3 L1312.3,269.1 L1321.3,268.9 L1330.3,268.7 L1339.3,268.5 L1348.3,268.3 L1357.3,268.2 L1366.3,268.1 L1375.3,268.0 L1384.3,268.0 L1393.3,268.0 L1402.3,268.0 L1411.3,268.0 L1420.3,268.0 L1429.3,268.0 L1438.3,268.0 L1447.3,268.0 L1456.3,268.0 L1465.3,268.0 L1474.3,268.0 L1474.3,404Z" fill="#00cffc"/>
<path d="M826.5,404 L826.5,271.5 L835.5,271.5 L844.5,271.5 L853.5,271.5 L862.5,271.5 L871.5,271.5 L880.5,271.5 L889.5,271.5 L898.5,271.5 L907.5,271.5 L916.5,271.5 L925.5,271.5 L934.5,271.6 L943.5,271.7 L952.5,271.8 L961.5,272.0 L970.5,272.2 L979.5,272.4 L988.5,272.6 L997.4,272.9 L1006.4,273.1 L1015.4,273.4 L1024.4,273.7 L1033.4,274.0 L1042.4,274.3 L1051.4,274.6 L1060.4,274.9 L1069.4,275.3 L1078.4,275.6 L1087.4,276.0 L1092.7,276.2 L1096.4,276.6 L1105.4,277.4 L1114.4,278.3 L1123.4,279.1 L1123.7,279.1 L1132.4,279.1 L1141.4,279.1 L1150.4,279.1 L1159.4,279.1 L1168.4,279.1 L1177.4,279.1 L1179.7,279.1 L1186.4,278.5 L1195.4,277.7 L1204.4,276.8 L1210.7,276.2 L1213.4,276.1 L1222.4,275.8 L1231.4,275.4 L1240.4,275.0 L1249.4,274.7 L1258.4,274.4 L1267.4,274.1 L1276.4,273.8 L1285.4,273.5 L1294.4,273.2 L1303.4,273.0 L1312.3,272.7 L1321.3,272.5 L1330.3,272.3 L1339.3,272.1 L1348.3,271.9 L1357.3,271.7 L1366.3,271.6 L1375.3,271.5 L1384.3,271.5 L1393.3,271.5 L1402.3,271.5 L1411.3,271.5 L1420.3,271.5 L1429.3,271.5 L1438.3,271.5 L1447.3,271.5 L1456.3,271.5 L1465.3,271.5 L1474.3,271.5 L1474.3,404Z" fill="#00c5fc"/>
<path d="M826.5,404 L826.5,275.0 L835.5,275.0 L844.5,275.0 L853.5,275.0 L862.5,275.0 L871.5,275.0 L880.5,275.0 L889.5,275.0 L898.5,275.0 L907.5,275.0 L916.5,275.0 L925.5,275.0 L934.5,275.1 L943.5,275.2 L952.5,275.4 L961.5,275.6 L970.5,275.8 L979.5,276.0 L988.5,276.3 L997.4,276.5 L1006.4,276.8 L1015.4,277.1 L1024.4,277.4 L1033.4,277.8 L1042.4,278.1 L1051.4,278.5 L1060.4,278.9 L1069.4,279.2 L1078.4,279.6 L1087.4,280.0 L1092.7,280.3 L1096.4,280.7 L1105.4,281.6 L1114.4,282.6 L1123.4,283.5 L1123.7,283.5 L1132.4,283.5 L1141.4,283.5 L1150.4,283.5 L1159.4,283.5 L1168.4,283.5 L1177.4,283.5 L1179.7,283.5 L1186.4,282.8 L1195.4,281.9 L1204.4,281.0 L1210.7,280.3 L1213.4,280.2 L1222.4,279.8 L1231.4,279.4 L1240.4,279.0 L1249.4,278.6 L1258.4,278.2 L1267.4,277.9 L1276.4,277.5 L1285.4,277.2 L1294.4,276.9 L1303.4,276.6 L1312.3,276.3 L1321.3,276.1 L1330.3,275.9 L1339.3,275.6 L1348.3,275.4 L1357.3,275.3 L1366.3,275.1 L1375.3,275.0 L1384.3,275.0 L1393.3,275.0 L1402.3,275.0 L1411.3,275.0 L1420.3,275.0 L1429.3,275.0 L1438.3,275.0 L1447.3,275.0 L1456.3,275.0 L1465.3,275.0 L1474.3,275.0 L1474.3,404Z" fill="#00bafc"/>
<path d="M826.5,404 L826.5,278.5 L835.5,278.5 L844.5,278.5 L853.5,278.5 L862.5,278.5 L871.5,278.5 L880.5,278.5 L889.5,278.5 L898.5,278.5 L907.5,278.5 L916.5,278.5 L925.5,278.5 L934.5,278.6 L943.5,278.7 L952.5,278.9 L961.5,279.1 L970.5,279.4 L979.5,279.6 L988.5,279.9 L997.4,280.2 L1006.4,280.5 L1015.4,280.9 L1024.4,281.2 L1033.4,281.6 L1042.4,282.0 L1051.4,282.3 L1060.4,282.8 L1069.4,283.2 L1078.4,283.6 L1087.4,284.1 L1092.7,284.3 L1096.4,284.8 L1105.4,285.8 L1114.4,286.9 L1123.4,287.9 L1123.7,287.9 L1132.4,287.9 L1141.4,287.9 L1150.4,287.9 L1159.4,287.9 L1168.4,287.9 L1177.4,287.9 L1179.7,287.9 L1186.4,287.2 L1195.4,286.1 L1204.4,285.1 L1210.7,284.3 L1213.4,284.2 L1222.4,283.7 L1231.4,283.3 L1240.4,282.9 L1249.4,282.5 L1258.4,282.1 L1267.4,281.7 L1276.4,281.3 L1285.4,281.0 L1294.4,280.6 L1303.4,280.3 L1312.3,280.0 L1321.3,279.7 L1330.3,279.4 L1339.3,279.2 L1348.3,279.0 L1357.3,278.8 L1366.3,278.6 L1375.3,278.5 L1384.3,278.5 L1393.3,278.5 L1402.3,278.5 L1411.3,278.5 L1420.3,278.5 L1429.3,278.5 L1438.3,278.5 L1447.3,278.5 L1456.3,278.5 L1465.3,278.5 L1474.3,278.5 L1474.3,404Z" fill="#00b0fc"/>
<path d="M826.5,404 L826.5,282.0 L835.5,282.0 L844.5,282.0 L853.5,282.0 L862.5,282.0 L871.5,282.0 L880.5,282.0 L889.5,282.0 L898.5,282.0 L907.5,282.0 L916.5,282.0 L925.5,282.0 L934.5,282.1 L943.5,282.3 L952.5,282.5 L961.5,282.7 L970.5,283.0 L979.5,283.2 L988.5,283.5 L997.4,283.9 L1006.4,284.2 L1015.4,284.6 L1024.4,285.0 L1033.4,285.4 L1042.4,285.8 L1051.4,286.2 L1060.4,286.7 L1069.4,287.1 L1078.4,287.6 L1087.4,288.1 L1092.7,288.4 L1096.4,288.9 L1105.4,290.0 L1114.4,291.1 L1123.4,292.3 L1123.7,292.3 L1132.4,292.3 L1141.4,292.3 L1150.4,292.3 L1159.4,292.3 L1168.4,292.3 L1177.4,292.3 L1179.7,292.3 L1186.4,291.5 L1195.4,290.3 L1204.4,289.2 L1210.7,288.4 L1213.4,288.2 L1222.4,287.7 L1231.4,287.3 L1240.4,286.8 L1249.4,286.3 L1258.4,285.9 L1267.4,285.5 L1276.4,285.1 L1285.4,284.7 L1294.4,284.3 L1303.4,284.0 L1312.3,283.6 L1321.3,283.3 L1330.3,283.0 L1339.3,282.8 L1348.3,282.5 L1357.3,282.3 L1366.3,282.2 L1375.3,282.0 L1384.3,282.0 L1393.3,282.0 L1402.3,282.0 L1411.3,282.0 L1420.3,282.0 L1429.3,282.0 L1438.3,282.0 L1447.3,282.0 L1456.3,282.0 L1465.3,282.0 L1474.3,282.0 L1474.3,404Z" fill="#00a6fc"/>
<path d="M826.5,404 L826.5,285.3 L835.5,285.3 L844.5,285.3 L853.5,285.3 L862.5,285.3 L871.5,285.3 L880.5,285.3 L889.5,285.3 L898.5,285.3 L907.5,285.3 L916.5,285.3 L925.5,285.3 L934.5,285.4 L943.5,285.6 L952.5,285.8 L961.5,286.0 L970.5,286.3 L979.5,286.6 L988.5,286.9 L997.4,287.3 L1006.4,287.7 L1015.4,288.1 L1024.4,288.5 L1033.4,288.9 L1042.4,289.4 L1051.4,289.8 L1060.4,290.3 L1069.4,290.8 L1078.4,291.3 L1087.4,291.9 L1092.7,292.2 L1096.4,292.7 L1105.4,293.9 L1114.4,295.1 L1123.4,296.4 L1123.7,296.4 L1132.4,296.4 L1141.4,296.4 L1150.4,296.4 L1159.4,296.4 L1168.4,296.4 L1177.4,296.4 L1179.7,296.4 L1186.4,295.5 L1195.4,294.3 L1204.4,293.0 L1210.7,292.2 L1213.4,292.0 L1222.4,291.5 L1231.4,291.0 L1240.4,290.5 L1249.4,290.0 L1258.4,289.5 L1267.4,289.0 L1276.4,288.6 L1285.4,288.2 L1294.4,287.8 L1303.4,287.4 L1312.3,287.0 L1321.3,286.7 L1330.3,286.4 L1339.3,286.1 L1348.3,285.9 L1357.3,285.6 L1366.3,285.5 L1375.3,285.3 L1384.3,285.3 L1393.3,285.3 L1402.3,285.3 L1411.3,285.3 L1420.3,285.3 L1429.3,285.3 L1438.3,285.3 L1447.3,285.3 L1456.3,285.3 L1465.3,285.3 L1474.3,285.3 L1474.3,404Z" fill="#009cfc"/>
<path d="M826.5,404 L826.5,288.6 L835.5,288.6 L844.5,288.6 L853.5,288.6 L862.5,288.6 L871.5,288.6 L880.5,288.6 L889.5,288.6 L898.5,288.6 L907.5,288.6 L916.5,288.6 L925.5,288.6 L934.5,288.7 L943.5,288.9 L952.5,289.1 L961.5,289.4 L970.5,289.7 L979.5,290.0 L988.5,290.4 L997.4,290.7 L1006.4,291.1 L1015.4,291.6 L1024.4,292.0 L1033.4,292.5 L1042.4,292.9 L1051.4,293.4 L1060.4,294.0 L1069.4,294.5 L1078.4,295.1 L1087.4,295.6 L1092.7,296.0 L1096.4,296.5 L1105.4,297.8 L1114.4,299.2 L1123.4,300.5 L1123.7,300.5 L1132.4,300.5 L1141.4,300.5 L1150.4,300.5 L1159.4,300.5 L1168.4,300.5 L1177.4,300.5 L1179.7,300.5 L1186.4,299.5 L1195.4,298.2 L1204.4,296.9 L1210.7,296.0 L1213.4,295.8 L1222.4,295.2 L1231.4,294.7 L1240.4,294.1 L1249.4,293.6 L1258.4,293.1 L1267.4,292.6 L1276.4,292.1 L1285.4,291.7 L1294.4,291.2 L1303.4,290.8 L1312.3,290.5 L1321.3,290.1 L1330.3,289.8 L1339.3,289.5 L1348.3,289.2 L1357.3,288.9 L1366.3,288.8 L1375.3,288.6 L1384.3,288.6 L1393.3,288.6 L1402.3,288.6 L1411.3,288.6 L1420.3,288.6 L1429.3,288.6 L1438.3,288.6 L1447.3,288.6 L1456.3,288.6 L1465.3,288.6 L1474.3,288.6 L1474.3,404Z" fill="#0092fc"/>
<path d="M826.5,404 L826.5,291.9 L835.5,291.9 L844.5,291.9 L853.5,291.9 L862.5,291.9 L871.5,291.9 L880.5,291.9 L889.5,291.9 L898.5,291.9 L907.5,291.9 L916.5,291.9 L925.5,291.9 L934.5,292.0 L943.5,292.2 L952.5,292.4 L961.5,292.7 L970.5,293.0 L979.5,293.4 L988.5,293.8 L997.4,294.2 L1006.4,294.6 L1015.4,295.0 L1024.4,295.5 L1033.4,296.0 L1042.4,296.5 L1051.4,297.1 L1060.4,297.6 L1069.4,298.2 L1078.4,298.8 L1087.4,299.4 L1092.7,299.8 L1096.4,300.3 L1105.4,301.7 L1114.4,303.2 L1123.4,304.6 L1123.7,304.6 L1132.4,304.6 L1141.4,304.6 L1150.4,304.6 L1159.4,304.6 L1168.4,304.6 L1177.4,304.6 L1179.7,304.6 L1186.4,303.6 L1195.4,302.2 L1204.4,300.7 L1210.7,299.8 L1213.4,299.6 L1222.4,299.0 L1231.4,298.4 L1240.4,297.8 L1249.4,297.2 L1258.4,296.7 L1267.4,296.2 L1276.4,295.7 L1285.4,295.2 L1294.4,294.7 L1303.4,294.3 L1312.3,293.9 L1321.3,293.5 L1330.3,293.1 L1339.3,292.8 L1348.3,292.5 L1357.3,292.3 L1366.3,292.1 L1375.3,291.9 L1384.3,291.9 L1393.3,291.9 L1402.3,291.9 L1411.3,291.9 L1420.3,291.9 L1429.3,291.9 L1438.3,291.9 L1447.3,291.9 L1456.3,291.9 L1465.3,291.9 L1474.3,291.9 L1474.3,404Z" fill="#0088fc"/>
<path d="M826.5,404 L826.5,295.1 L835.5,295.1 L844.5,295.1 L853.5,295.1 L862.5,295.1 L871.5,295.1 L880.5,295.1 L889.5,295.1 L898.5,295.1 L907.5,295.1 L916.5,295.1 L925.5,295.2 L934.5,295.3 L943.5,295.5 L952.5,295.8 L961.5,296.1 L970.5,296.4 L979.5,296.8 L988.5,297.2 L997.4,297.6 L1006.4,298.0 L1015.4,298.5 L1024.4,299.0 L1033.4,299.6 L1042.4,300.1 L1051.4,300.7 L1060.4,301.3 L1069.4,301.9 L1078.4,302.5 L1087.4,303.2 L1092.7,303.5 L1096.4,304.2 L1105.4,305.7 L1114.4,307.2 L1123.4,308.7 L1123.7,308.7 L1132.4,308.7 L1141.4,308.7 L1150.4,308.7 L1159.4,308.7 L1168.4,308.7 L1177.4,308.7 L1179.7,308.7 L1186.4,307.6 L1195.4,306.1 L1204.4,304.6 L1210.7,303.5 L1213.4,303.3 L1222.4,302.7 L1231.4,302.1 L1240.4,301.4 L1249.4,300.8 L1258.4,300.3 L1267.4,299.7 L1276.4,299.2 L1285.4,298.7 L1294.4,298.2 L1303.4,297.7 L1312.3,297.3 L1321.3,296.9 L1330.3,296.5 L1339.3,296.2 L1348.3,295.8 L1357.3,295.6 L1366.3,295.3 L1375.3,295.2 L1384.3,295.1 L1393.3,295.1 L1402.3,295.1 L1411.3,295.1 L1420.3,295.1 L1429.3,295.1 L1438.3,295.1 L1447.3,295.1 L1456.3,295.1 L1465.3,295.1 L1474.3,295.1 L1474.3,404Z" fill="#007efc"/>
<path d="M826.5,404 L826.5,298.4 L835.5,298.4 L844.5,298.4 L853.5,298.4 L862.5,298.4 L871.5,298.4 L880.5,298.4 L889.5,298.4 L898.5,298.4 L907.5,298.4 L916.5,298.4 L925.5,298.4 L934.5,298.6 L943.5,298.8 L952.5,299.1 L961.5,299.4 L970.5,299.8 L979.5,300.1 L988.5,300.6 L997.4,301.0 L1006.4,301.5 L1015.4,302.0 L1024.4,302.5 L1033.4,303.1 L1042.4,303.7 L1051.4,304.3 L1060.4,304.9 L1069.4,305.6 L1078.4,306.2 L1087.4,306.9 L1092.7,307.3 L1096.4,308.0 L1105.4,309.6 L1114.4,311.1 L1123.4,312.7 L1123.7,312.8 L1132.4,312.8 L1141.4,312.8 L1150.4,312.8 L1159.4,312.8 L1168.4,312.8 L1177.4,312.8 L1179.7,312.8 L1186.4,311.6 L1195.4,310.0 L1204.4,308.4 L1210.7,307.3 L1213.4,307.1 L1222.4,306.4 L1231.4,305.7 L1240.4,305.1 L1249.4,304.5 L1258.4,303.9 L1267.4,303.3 L1276.4,302.7 L1285.4,302.2 L1294.4,301.6 L1303.4,301.2 L1312.3,300.7 L1321.3,300.3 L1330.3,299.9 L1339.3,299.5 L1348.3,299.2 L1357.3,298.9 L1366.3,298.6 L1375.3,298.5 L1384.3,298.4 L1393.3,298.4 L1402.3,298.4 L1411.3,298.4 L1420.3,298.4 L1429.3,298.4 L1438.3,298.4 L1447.3,298.4 L1456.3,298.4 L1465.3,298.4 L1474.3,298.4 L1474.3,404Z" fill="#0074fc"/>
<path d="M826.5,404 L826.5,301.7 L835.5,301.7 L844.5,301.7 L853.5,301.7 L862.5,301.7 L871.5,301.7 L880.5,301.7 L889.5,301.7 L898.5,301.7 L907.5,301.7 L916.5,301.7 L925.5,301.7 L934.5,301.9 L943.5,302.1 L952.5,302.4 L961.5,302.7 L970.5,303.1 L979.5,303.5 L988.5,304.0 L997.4,304.4 L1006.4,305.0 L1015.4,305.5 L1024.4,306.1 L1033.4,306.6 L1042.4,307.3 L1051.4,307.9 L1060.4,308.6 L1069.4,309.2 L1078.4,309.9 L1087.4,310.7 L1092.7,311.1 L1096.4,311.8 L1105.4,313.5 L1114.4,315.1 L1123.4,316.8 L1123.7,316.9 L1132.4,316.9 L1141.4,316.9 L1150.4,316.9 L1159.4,316.9 L1168.4,316.9 L1177.4,316.9 L1179.7,316.9 L1186.4,315.6 L1195.4,313.9 L1204.4,312.3 L1210.7,311.1 L1213.4,310.9 L1222.4,310.1 L1231.4,309.4 L1240.4,308.7 L1249.4,308.1 L1258.4,307.4 L1267.4,306.8 L1276.4,306.2 L1285.4,305.7 L1294.4,305.1 L1303.4,304.6 L1312.3,304.1 L1321.3,303.6 L1330.3,303.2 L1339.3,302.8 L1348.3,302.5 L1357.3,302.2 L1366.3,301.9 L1375.3,301.8 L1384.3,301.7 L1393.3,301.7 L1402.3,301.7 L1411.3,301.7 L1420.3,301.7 L1429.3,301.7 L1438.3,301.7 L1447.3,301.7 L1456.3,301.7 L1465.3,301.7 L1474.3,301.7 L1474.3,404Z" fill="#006afc"/>
<path d="M826.5,404 L826.5,305.0 L835.5,305.0 L844.5,305.0 L853.5,305.0 L862.5,305.0 L871.5,305.0 L880.5,305.0 L889.5,305.0 L898.5,305.0 L907.5,305.0 L916.5,305.0 L925.5,305.0 L934.5,305.2 L943.5,305.4 L952.5,305.7 L961.5,306.1 L970.5,306.5 L979.5,306.9 L988.5,307.4 L997.4,307.9 L1006.4,308.4 L1015.4,309.0 L1024.4,309.6 L1033.4,310.2 L1042.4,310.8 L1051.4,311.5 L1060.4,312.2 L1069.4,312.9 L1078.4,313.7 L1087.4,314.4 L1092.7,314.9 L1096.4,315.6 L1105.4,317.4 L1114.4,319.1 L1123.4,320.9 L1123.7,320.9 L1132.4,320.9 L1141.4,320.9 L1150.4,320.9 L1159.4,320.9 L1168.4,320.9 L1177.4,320.9 L1179.7,320.9 L1186.4,319.6 L1195.4,317.9 L1204.4,316.1 L1210.7,314.9 L1213.4,314.6 L1222.4,313.9 L1231.4,313.1 L1240.4,312.4 L1249.4,311.7 L1258.4,311.0 L1267.4,310.4 L1276.4,309.7 L1285.4,309.1 L1294.4,308.6 L1303.4,308.0 L1312.3,307.5 L1321.3,307.0 L1330.3,306.6 L1339.3,306.2 L1348.3,305.8 L1357.3,305.5 L1366.3,305.2 L1375.3,305.1 L1384.3,305.0 L1393.3,305.0 L1402.3,305.0 L1411.3,305.0 L1420.3,305.0 L1429.3,305.0 L1438.3,305.0 L1447.3,305.0 L1456.3,305.0 L1465.3,305.0 L1474.3,305.0 L1474.3,404Z" fill="#0060fc"/>
<path d="M826.5,404 L826.5,308.3 L835.5,308.3 L844.5,308.3 L853.5,308.3 L862.5,308.3 L871.5,308.3 L880.5,308.3 L889.5,308.3 L898.5,308.3 L907.5,308.3 L916.5,308.3 L925.5,308.4 L934.5,308.5 L943.5,308.8 L952.5,309.1 L961.5,309.5 L970.5,309.9 L979.5,310.3 L988.5,310.8 L997.4,311.4 L1006.4,311.9 L1015.4,312.5 L1024.4,313.1 L1033.4,313.8 L1042.4,314.5 L1051.4,315.2 L1060.4,315.9 L1069.4,316.6 L1078.4,317.4 L1087.4,318.2 L1092.7,318.7 L1096.4,319.5 L1105.4,321.3 L1114.4,323.2 L1123.4,325.0 L1123.7,325.1 L1132.4,325.1 L1141.4,325.1 L1150.4,325.1 L1159.4,325.1 L1168.4,325.1 L1177.4,325.1 L1179.7,325.1 L1186.4,323.7 L1195.4,321.8 L1204.4,320.0 L1210.7,318.7 L1213.4,318.4 L1222.4,317.6 L1231.4,316.9 L1240.4,316.1 L1249.4,315.4 L1258.4,314.7 L1267.4,314.0 L1276.4,313.3 L1285.4,312.7 L1294.4,312.1 L1303.4,311.5 L1312.3,311.0 L1321.3,310.5 L1330.3,310.0 L1339.3,309.6 L1348.3,309.2 L1357.3,308.9 L1366.3,308.6 L1375.3,308.4 L1384.3,308.3 L1393.3,308.3 L1402.3,308.3 L1411.3,308.3 L1420.3,308.3 L1429.3,308.3 L1438.3,308.3 L1447.3,308.3 L1456.3,308.3 L1465.3,308.3 L1474.3,308.3 L1474.3,404Z" fill="#0056fc"/>
<path d="M826.5,404 L826.5,311.7 L835.5,311.7 L844.5,311.7 L853.5,311.7 L862.5,311.7 L871.5,311.7 L880.5,311.7 L889.5,311.7 L898.5,311.7 L907.5,311.7 L916.5,311.7 L925.5,311.7 L934.5,311.9 L943.5,312.1 L952.5,312.5 L961.5,312.8 L970.5,313.3 L979.5,313.8 L988.5,314.3 L997.4,314.8 L1006.4,315.4 L1015.4,316.0 L1024.4,316.7 L1033.4,317.4 L1042.4,318.1 L1051.4,318.8 L1060.4,319.6 L1069.4,320.4 L1078.4,321.2 L1087.4,322.0 L1092.7,322.5 L1096.4,323.3 L1105.4,325.3 L1114.4,327.2 L1123.4,329.1 L1123.7,329.2 L1132.4,329.2 L1141.4,329.2 L1150.4,329.2 L1159.4,329.2 L1168.4,329.2 L1177.4,329.2 L1179.7,329.2 L1186.4,327.7 L1195.4,325.8 L1204.4,323.9 L1210.7,322.5 L1213.4,322.3 L1222.4,321.4 L1231.4,320.6 L1240.4,319.8 L1249.4,319.0 L1258.4,318.3 L1267.4,317.6 L1276.4,316.9 L1285.4,316.2 L1294.4,315.6 L1303.4,315.0 L1312.3,314.4 L1321.3,313.9 L1330.3,313.4 L1339.3,313.0 L1348.3,312.6 L1357.3,312.2 L1366.3,311.9 L1375.3,311.7 L1384.3,311.7 L1393.3,311.7 L1402.3,311.7 L1411.3,311.7 L1420.3,311.7 L1429.3,311.7 L1438.3,311.7 L1447.3,311.7 L1456.3,311.7 L1465.3,311.7 L1474.3,311.7 L1474.3,404Z" fill="#004cfc"/>
<path d="M826.5,404 L826.5,315.0 L835.5,315.0 L844.5,315.0 L853.5,315.0 L862.5,315.0 L871.5,315.0 L880.5,315.0 L889.5,315.0 L898.5,315.0 L907.5,315.0 L916.5,315.0 L925.5,315.0 L934.5,315.2 L943.5,315.5 L952.5,315.8 L961.5,316.2 L970.5,316.7 L979.5,317.2 L988.5,317.7 L997.4,318.3 L1006.4,318.9 L1015.4,319.6 L1024.4,320.2 L1033.4,321.0 L1042.4,321.7 L1051.4,322.5 L1060.4,323.3 L1069.4,324.1 L1078.4,324.9 L1087.4,325.8 L1092.7,326.3 L1096.4,327.2 L1105.4,329.2 L1114.4,331.2 L1123.4,333.2 L1123.7,333.3 L1132.4,333.3 L1141.4,333.3 L1150.4,333.3 L1159.4,333.3 L1168.4,333.3 L1177.4,333.3 L1179.7,333.3 L1186.4,331.8 L1195.4,329.8 L1204.4,327.8 L1210.7,326.3 L1213.4,326.1 L1222.4,325.2 L1231.4,324.3 L1240.4,323.5 L1249.4,322.7 L1258.4,321.9 L1267.4,321.2 L1276.4,320.5 L1285.4,319.8 L1294.4,319.1 L1303.4,318.5 L1312.3,317.9 L1321.3,317.3 L1330.3,316.8 L1339.3,316.4 L1348.3,315.9 L1357.3,315.6 L1366.3,315.3 L1375.3,315.1 L1384.3,315.0 L1393.3,315.0 L1402.3,315.0 L1411.3,315.0 L1420.3,315.0 L1429.3,315.0 L1438.3,315.0 L1447.3,315.0 L1456.3,315.0 L1465.3,315.0 L1474.3,315.0 L1474.3,404Z" fill="#0042fc"/>
<path d="M826.5,404 L826.5,318.3 L835.5,318.3 L844.5,318.3 L853.5,318.3 L862.5,318.3 L871.5,318.3 L880.5,318.3 L889.5,318.3 L898.5,318.3 L907.5,318.3 L916.5,318.3 L925.5,318.4 L934.5,318.5 L943.5,318.8 L952.5,319.2 L961.5,319.6 L970.5,320.1 L979.5,320.6 L988.5,321.2 L997.4,321.8 L1006.4,322.4 L1015.4,323.1 L1024.4,323.8 L1033.4,324.5 L1042.4,325.3 L1051.4,326.1 L1060.4,327.0 L1069.4,327.8 L1078.4,328.7 L1087.4,329.6 L1092.7,330.2 L1096.4,331.0 L1105.4,333.1 L1114.4,335.2 L1123.4,337.4 L1123.7,337.4 L1132.4,337.4 L1141.4,337.4 L1150.4,337.4 L1159.4,337.4 L1168.4,337.4 L1177.4,337.4 L1179.7,337.4 L1186.4,335.9 L1195.4,333.7 L1204.4,331.6 L1210.7,330.2 L1213.4,329.9 L1222.4,329.0 L1231.4,328.1 L1240.4,327.2 L1249.4,326.4 L1258.4,325.5 L1267.4,324.8 L1276.4,324.0 L1285.4,323.3 L1294.4,322.6 L1303.4,322.0 L1312.3,321.3 L1321.3,320.8 L1330.3,320.2 L1339.3,319.8 L1348.3,319.3 L1357.3,318.9 L1366.3,318.6 L1375.3,318.4 L1384.3,318.3 L1393.3,318.3 L1402.3,318.3 L1411.3,318.3 L1420.3,318.3 L1429.3,318.3 L1438.3,318.3 L1447.3,318.3 L1456.3,318.3 L1465.3,318.3 L1474.3,318.3 L1474.3,404Z" fill="#0037fc"/>
<path d="M826.5,404 L826.5,321.2 L835.5,321.2 L844.5,321.2 L853.5,321.2 L862.5,321.2 L871.5,321.2 L880.5,321.2 L889.5,321.2 L898.5,321.2 L907.5,321.2 L916.5,321.2 L925.5,321.3 L934.5,321.4 L943.5,321.7 L952.5,322.1 L961.5,322.6 L970.5,323.0 L979.5,323.6 L988.5,324.2 L997.4,324.8 L1006.4,325.5 L1015.4,326.2 L1024.4,326.9 L1033.4,327.7 L1042.4,328.5 L1051.4,329.3 L1060.4,330.1 L1069.4,331.0 L1078.4,332.0 L1087.4,332.9 L1092.7,333.5 L1096.4,334.4 L1105.4,336.6 L1114.4,338.7 L1123.4,340.9 L1123.7,341.0 L1132.4,341.0 L1141.4,341.0 L1150.4,341.0 L1159.4,341.0 L1168.4,341.0 L1177.4,341.0 L1179.7,341.0 L1186.4,339.4 L1195.4,337.2 L1204.4,335.0 L1210.7,333.5 L1213.4,333.2 L1222.4,332.2 L1231.4,331.3 L1240.4,330.4 L1249.4,329.5 L1258.4,328.7 L1267.4,327.9 L1276.4,327.1 L1285.4,326.4 L1294.4,325.7 L1303.4,325.0 L1312.3,324.3 L1321.3,323.7 L1330.3,323.2 L1339.3,322.7 L1348.3,322.2 L1357.3,321.8 L1366.3,321.5 L1375.3,321.3 L1384.3,321.2 L1393.3,321.2 L1402.3,321.2 L1411.3,321.2 L1420.3,321.2 L1429.3,321.2 L1438.3,321.2 L1447.3,321.2 L1456.3,321.2 L1465.3,321.2 L1474.3,321.2 L1474.3,404Z" fill="#002dfc"/>
<path d="M826.5,404 L826.5,323.7 L835.5,323.7 L844.5,323.7 L853.5,323.7 L862.5,323.7 L871.5,323.7 L880.5,323.7 L889.5,323.7 L898.5,323.7 L907.5,323.7 L916.5,323.7 L925.5,323.7 L934.5,323.9 L943.5,324.2 L952.5,324.6 L961.5,325.0 L970.5,325.5 L979.5,326.1 L988.5,326.7 L997.4,327.3 L1006.4,328.0 L1015.4,328.7 L1024.4,329.5 L1033.4,330.3 L1042.4,331.1 L1051.4,332.0 L1060.4,332.9 L1069.4,333.8 L1078.4,334.7 L1087.4,335.7 L1092.7,336.3 L1096.4,337.2 L1105.4,339.4 L1114.4,341.7 L1123.4,343.9 L1123.7,344.0 L1132.4,344.0 L1141.4,344.0 L1150.4,344.0 L1159.4,344.0 L1168.4,344.0 L1177.4,344.0 L1179.7,344.0 L1186.4,342.3 L1195.4,340.1 L1204.4,337.8 L1210.7,336.3 L1213.4,336.0 L1222.4,335.0 L1231.4,334.0 L1240.4,333.1 L1249.4,332.2 L1258.4,331.4 L1267.4,330.5 L1276.4,329.7 L1285.4,329.0 L1294.4,328.2 L1303.4,327.5 L1312.3,326.9 L1321.3,326.3 L1330.3,325.7 L1339.3,325.2 L1348.3,324.7 L1357.3,324.3 L1366.3,324.0 L1375.3,323.7 L1384.3,323.7 L1393.3,323.7 L1402.3,323.7 L1411.3,323.7 L1420.3,323.7 L1429.3,323.7 L1438.3,323.7 L1447.3,323.7 L1456.3,323.7 L1465.3,323.7 L1474.3,323.7 L1474.3,404Z" fill="#0023fc"/>
<path d="M826.5,404 L826.5,326.1 L835.5,326.1 L844.5,326.1 L853.5,326.1 L862.5,326.1 L871.5,326.1 L880.5,326.1 L889.5,326.1 L898.5,326.1 L907.5,326.1 L916.5,326.1 L925.5,326.2 L934.5,326.4 L943.5,326.7 L952.5,327.1 L961.5,327.5 L970.5,328.1 L979.5,328.6 L988.5,329.2 L997.4,329.9 L1006.4,330.6 L1015.4,331.3 L1024.4,332.1 L1033.4,332.9 L1042.4,333.8 L1051.4,334.7 L1060.4,335.6 L1069.4,336.5 L1078.4,337.5 L1087.4,338.5 L1092.7,339.1 L1096.4,340.0 L1105.4,342.3 L1114.4,344.6 L1123.4,347.0 L1123.7,347.0 L1132.4,347.0 L1141.4,347.0 L1150.4,347.0 L1159.4,347.0 L1168.4,347.0 L1177.4,347.0 L1179.7,347.0 L1186.4,345.3 L1195.4,343.0 L1204.4,340.7 L1210.7,339.1 L1213.4,338.8 L1222.4,337.8 L1231.4,336.8 L1240.4,335.8 L1249.4,334.9 L1258.4,334.0 L1267.4,333.2 L1276.4,332.3 L1285.4,331.6 L1294.4,330.8 L1303.4,330.1 L1312.3,329.4 L1321.3,328.8 L1330.3,328.2 L1339.3,327.7 L1348.3,327.2 L1357.3,326.8 L1366.3,326.4 L1375.3,326.2 L1384.3,326.1 L1393.3,326.1 L1402.3,326.1 L1411.3,326.1 L1420.3,326.1 L1429.3,326.1 L1438.3,326.1 L1447.3,326.1 L1456.3,326.1 L1465.3,326.1 L1474.3,326.1 L1474.3,404Z" fill="#0019fc"/>
<path d="M826.5,404 L826.5,328.6 L835.5,328.6 L844.5,328.6 L853.5,328.6 L862.5,328.6 L871.5,328.6 L880.5,328.6 L889.5,328.6 L898.5,328.6 L907.5,328.6 L916.5,328.6 L925.5,328.6 L934.5,328.8 L943.5,329.1 L952.5,329.5 L961.5,330.0 L970.5,330.6 L979.5,331.1 L988.5,331.8 L997.4,332.5 L1006.4,333.2 L1015.4,333.9 L1024.4,334.7 L1033.4,335.6 L1042.4,336.4 L1051.4,337.3 L1060.4,338.3 L1069.4,339.2 L1078.4,340.2 L1087.4,341.3 L1092.7,341.9 L1096.4,342.9 L1105.4,345.2 L1114.4,347.6 L1123.4,350.0 L1123.7,350.0 L1132.4,350.0 L1141.4,350.0 L1150.4,350.0 L1159.4,350.0 L1168.4,350.0 L1177.4,350.0 L1179.7,350.0 L1186.4,348.3 L1195.4,345.9 L1204.4,343.5 L1210.7,341.9 L1213.4,341.6 L1222.4,340.5 L1231.4,339.5 L1240.4,338.5 L1249.4,337.6 L1258.4,336.7 L1267.4,335.8 L1276.4,335.0 L1285.4,334.2 L1294.4,333.4 L1303.4,332.7 L1312.3,332.0 L1321.3,331.3 L1330.3,330.7 L1339.3,330.2 L1348.3,329.7 L1357.3,329.3 L1366.3,328.9 L1375.3,328.6 L1384.3,328.6 L1393.3,328.6 L1402.3,328.6 L1411.3,328.6 L1420.3,328.6 L1429.3,328.6 L1438.3,328.6 L1447.3,328.6 L1456.3,328.6 L1465.3,328.6 L1474.3,328.6 L1474.3,404Z" fill="#000ffc"/>
<path d="M826.5,404 L826.5,330.2 L835.5,330.2 L844.5,330.2 L853.5,330.2 L862.5,330.2 L871.5,330.2 L880.5,330.2 L889.5,330.2 L898.5,330.2 L907.5,330.2 L916.5,330.2 L925.5,330.2 L934.5,330.4 L943.5,330.8 L952.5,331.2 L961.5,331.7 L970.5,332.2 L979.5,332.8 L988.5,333.4 L997.4,334.1 L1006.4,334.9 L1015.4,335.6 L1024.4,336.5 L1033.4,337.3 L1042.4,338.2 L1051.4,339.1 L1060.4,340.0 L1069.4,341.0 L1078.4,342.0 L1087.4,343.1 L1092.7,343.7 L1096.4,344.7 L1105.4,347.1 L1114.4,349.5 L1123.4,351.9 L1123.7,352.0 L1132.4,352.0 L1141.4,352.0 L1150.4,352.0 L1159.4,352.0 L1168.4,352.0 L1177.4,352.0 L1179.7,352.0 L1186.4,350.2 L1195.4,347.8 L1204.4,345.4 L1210.7,343.7 L1213.4,343.4 L1222.4,342.3 L1231.4,341.3 L1240.4,340.3 L1249.4,339.4 L1258.4,338.4 L1267.4,337.5 L1276.4,336.7 L1285.4,335.9 L1294.4,335.1 L1303.4,334.3 L1312.3,333.6 L1321.3,333.0 L1330.3,332.4 L1339.3,331.8 L1348.3,331.3 L1357.3,330.9 L1366.3,330.5 L1375.3,330.3 L1384.3,330.2 L1393.3,330.2 L1402.3,330.2 L1411.3,330.2 L1420.3,330.2 L1429.3,330.2 L1438.3,330.2 L1447.3,330.2 L1456.3,330.2 L1465.3,330.2 L1474.3,330.2 L1474.3,404Z" fill="#0005fc"/>
<path d="M826.5,404 L826.5,331.0 L835.5,331.0 L844.5,331.0 L853.5,331.0 L862.5,331.0 L871.5,331.0 L880.5,331.0 L889.5,331.0 L898.5,331.0 L907.5,331.0 L916.5,331.0 L925.5,331.0 L934.5,331.2 L943.5,331.6 L952.5,332.0 L961.5,332.5 L970.5,333.0 L979.5,333.6 L988.5,334.2 L997.4,334.9 L1006.4,335.7 L1015.4,336.4 L1024.4,337.3 L1033.4,338.1 L1042.4,339.0 L1051.4,339.9 L1060.4,340.8 L1069.4,341.8 L1078.4,342.8 L1087.4,343.9 L1092.7,344.5 L1096.4,345.5 L1105.4,347.9 L1114.4,350.3 L1123.4,352.7 L1123.7,352.8 L1132.4,352.8 L1141.4,352.8 L1150.4,352.8 L1159.4,352.8 L1168.4,352.8 L1177.4,352.8 L1179.7,352.8 L1186.4,351.0 L1195.4,348.6 L1204.4,346.2 L1210.7,344.5 L1213.4,344.2 L1222.4,343.1 L1231.4,342.1 L1240.4,341.1 L1249.4,340.2 L1258.4,339.2 L1267.4,338.3 L1276.4,337.5 L1285.4,336.7 L1294.4,335.9 L1303.4,335.1 L1312.3,334.4 L1321.3,333.8 L1330.3,333.2 L1339.3,332.6 L1348.3,332.1 L1357.3,331.7 L1366.3,331.3 L1375.3,331.1 L1384.3,331.0 L1393.3,331.0 L1402.3,331.0 L1411.3,331.0 L1420.3,331.0 L1429.3,331.0 L1438.3,331.0 L1447.3,331.0 L1456.3,331.0 L1465.3,331.0 L1474.3,331.0 L1474.3,404Z" fill="#0000fc"/>
<rect x="828.0" y="400" width="645.3" height="135" fill="#0000fc"/>
<path d="M829,397.5 V142.7 H1085.1 V397.5" fill="none" stroke="#1a76c8" stroke-width="5"/>
<path d="M1218.4,397.5 V142.7 H1471.7 V397.5" fill="none" stroke="#1a76c8" stroke-width="5"/>
<rect x="826.5" y="394" width="260.8" height="4" fill="#1a76c8" opacity="0.55"/>
<rect x="1216.3" y="394" width="258" height="4" fill="#1a76c8" opacity="0.55"/>
<rect x="832" y="138.6" width="636.5" height="2.0" fill="#dcc0ae" opacity="0.85"/>
<rect x="1087.3" y="138.6" width="129" height="2.6" fill="#d9a89a" opacity="0.9"/>
<path d="M1090,138.5 V400.3 H829.4 V534 H1471.9 V400.3 H1213.5 V138.5" fill="none" stroke="#f58220" stroke-width="5.6" stroke-linejoin="miter"/>
<text x="1095.3" y="26.7" font-family='"Liberation Serif", serif' font-size="33.5" font-weight="bold" fill="#10a84c" text-anchor="start" textLength="98" lengthAdjust="spacingAndGlyphs" >Nitride</text>
<text x="847" y="111" font-family='"Liberation Serif", serif' font-size="51" font-weight="bold" fill="#fff" text-anchor="start" textLength="44.5" lengthAdjust="spacingAndGlyphs" >Si</text>
<circle cx="1149.8" cy="90.1" r="8.3" fill="#000"/>
<circle cx="1150" cy="141.6" r="8.3" fill="#000"/>
<circle cx="1405.9" cy="89.6" r="8.3" fill="#000"/>
<circle cx="1150.7" cy="400.9" r="8.3" fill="#06061e"/>
<text x="1163.4" y="98.7" font-family='"Liberation Serif", serif' font-size="28.5" font-weight="bold" fill="#000" text-anchor="start" textLength="37" lengthAdjust="spacingAndGlyphs" >(3)</text>
<text x="1417.3" y="97.9" font-family='"Liberation Serif", serif' font-size="28.5" font-weight="bold" fill="#000" text-anchor="start" textLength="35.5" lengthAdjust="spacingAndGlyphs" >(4)</text>
<text x="1165" y="406.6" font-family='"Liberation Serif", serif' font-size="28.5" font-weight="bold" fill="#06061e" text-anchor="start" textLength="37" lengthAdjust="spacingAndGlyphs" >(1)</text>
<path d="M1088,119.2 C1112,119.2 1128.5,131 1129,157.5" fill="none" stroke="#ff1010" stroke-width="9.5"/>
<polygon points="1117.5,156.4 1141,156.4 1130,169" fill="#ff1010"/>
<path d="M1212.7,118 C1190,118 1174,131 1173,157.5" fill="none" stroke="#ff1010" stroke-width="9.5"/>
<polygon points="1161,156.4 1183,156.4 1172,170" fill="#ff1010"/>
<text x="1164" y="149.4" font-family='"Liberation Serif", serif' font-size="28.5" font-weight="bold" fill="#000" text-anchor="start" textLength="36.5" lengthAdjust="spacingAndGlyphs" >(2)</text>
<text x="1081" y="218.7" font-family='"Liberation Serif", serif' font-size="40" font-weight="bold" fill="#ff1010" text-anchor="start" textLength="161.5" lengthAdjust="spacingAndGlyphs" >heat flow</text>
<text x="887.3" y="186.7" font-family='"Liberation Serif", serif' font-size="35" font-weight="bold" fill="#000" text-anchor="start" textLength="23.3" lengthAdjust="spacingAndGlyphs" >T</text>
<text x="910.9" y="193.3" font-family='"Liberation Serif", serif' font-size="21" font-weight="bold" fill="#000" text-anchor="start" textLength="40" lengthAdjust="spacingAndGlyphs" >ILD</text>
<text x="952.3" y="186.7" font-family='"Liberation Serif", serif' font-size="35" font-weight="bold" fill="#000" text-anchor="start" textLength="129" lengthAdjust="spacingAndGlyphs" >=400 nm</text>
<line x1="879.2" y1="154" x2="879.2" y2="393" stroke="#000" stroke-width="1.7"/>
<polygon points="879.2,146.8 874,156 884.4,156" fill="#000"/>
<polygon points="879.2,401 874,391.8 884.4,391.8" fill="#000"/>
<text x="906.5" y="292.3" font-family='"Liberation Serif", serif' font-weight="bold" fill="#fff"><tspan font-size="50" textLength="84" lengthAdjust="spacingAndGlyphs">SiO</tspan><tspan font-size="34" dy="11.5">2</tspan></text>
<text x="1292" y="291.5" font-family='"Liberation Serif", serif' font-weight="bold" fill="#fff"><tspan font-size="50" textLength="85.5" lengthAdjust="spacingAndGlyphs">SiO</tspan><tspan font-size="34" dy="11.5">2</tspan></text>
<line x1="1100" y1="299.9" x2="1200" y2="299.9" stroke="#06061e" stroke-width="1.8"/>
<polygon points="1092.3,299.9 1102.6,295.4 1102.6,304.4" fill="#06061e"/>
<polygon points="1208,299.9 1197.7,295.4 1197.7,304.4" fill="#06061e"/>
<text x="1044.8" y="332.8" font-family='"Liberation Serif", serif' font-size="35" font-weight="bold" fill="#06061e" text-anchor="start" textLength="25.8" lengthAdjust="spacingAndGlyphs" >Φ</text>
<text x="1071.3" y="340.5" font-family='"Liberation Serif", serif' font-size="22.5" font-weight="bold" fill="#06061e" text-anchor="start" textLength="53" lengthAdjust="spacingAndGlyphs" >pillar</text>
<text x="1125.2" y="332.5" font-family='"Liberation Serif", serif' font-size="35" font-weight="bold" fill="#06061e" text-anchor="start" textLength="129" lengthAdjust="spacingAndGlyphs" >=100 nm</text>
<text x="1301.3" y="487.6" font-family='"Liberation Serif", serif' font-size="47" font-weight="bold" fill="#fff" text-anchor="start" textLength="85" lengthAdjust="spacingAndGlyphs" >c-Si</text>
<text x="850.4" y="493" font-family='"Liberation Sans", sans-serif' font-size="33.5" font-weight="normal" fill="#fff" text-anchor="start" textLength="43.5" lengthAdjust="spacingAndGlyphs" >(b)</text>
</g>
<g id="panel-c">
<rect x="1490.4" y="41.5" width="572.5999999999999" height="87" fill="#cdc6d0"/>
<rect x="1494.8" y="46.3" width="563.3" height="80.7" fill="#fa3e00"/>
<line x1="1495.2" y1="72.8" x2="2058.5" y2="72.8" stroke="#dcc4bc" stroke-opacity="0.95" stroke-width="1.5"/>
<line x1="1495.2" y1="100.6" x2="2058.5" y2="100.6" stroke="#dcc4bc" stroke-opacity="0.95" stroke-width="1.5"/>
<rect x="1490.4" y="35.2" width="572.5999999999999" height="6.6" fill="#00b050"/>
<path d="M1738.5,126 A37.8,17.6 0 0 1 1814.1,126 Z" fill="#fa960a"/>
<rect x="1490.4" y="126" width="572.5999999999999" height="232.0" fill="#fa3e00"/>
<path d="M1490.4,358.0 L1490.4,145.2 L1498.4,145.1 L1506.4,145.1 L1514.4,145.0 L1522.4,145.0 L1530.4,144.9 L1538.4,144.9 L1546.4,144.8 L1554.4,144.7 L1562.4,144.6 L1570.4,144.4 L1578.4,144.3 L1586.4,144.1 L1594.4,144.0 L1602.4,143.7 L1610.4,143.5 L1618.4,143.2 L1626.4,142.9 L1634.4,142.5 L1642.4,142.1 L1650.4,141.6 L1658.4,141.0 L1666.4,140.4 L1674.4,139.7 L1682.4,138.8 L1690.4,137.8 L1698.4,136.7 L1706.4,135.4 L1714.4,134.0 L1716.5,133.5 L1720.5,132.7 L1729.5,130.5 L1738.5,128.2 L1747.5,126.0 L1807.2,126.0 L1816.2,128.2 L1825.2,130.5 L1834.2,132.7 L1838.2,133.5 L1842.2,134.3 L1850.2,135.8 L1858.2,137.0 L1866.2,138.1 L1874.2,139.0 L1882.2,139.8 L1890.2,140.6 L1898.2,141.2 L1906.2,141.7 L1914.2,142.2 L1922.2,142.6 L1930.2,143.0 L1938.2,143.3 L1946.2,143.6 L1954.2,143.8 L1962.2,144.0 L1970.2,144.2 L1978.2,144.3 L1986.2,144.5 L1994.2,144.6 L2002.2,144.7 L2010.2,144.8 L2018.2,144.9 L2026.2,144.9 L2034.2,145.0 L2042.2,145.0 L2050.2,145.1 L2058.2,145.1 L2063.0,145.2 L2063.0,358.0Z" fill="#fa9600"/>
<path d="M1490.4,358.0 L1490.4,171.2 L1498.4,171.1 L1506.4,171.1 L1514.4,171.0 L1522.4,171.0 L1530.4,170.9 L1538.4,170.8 L1546.4,170.7 L1554.4,170.6 L1562.4,170.4 L1570.4,170.3 L1578.4,170.1 L1586.4,169.9 L1594.4,169.6 L1602.4,169.3 L1610.4,169.0 L1618.4,168.7 L1626.4,168.2 L1634.4,167.8 L1642.4,167.2 L1650.4,166.6 L1658.4,165.8 L1666.4,165.0 L1674.4,164.0 L1682.4,162.9 L1690.4,161.7 L1698.4,160.2 L1706.4,158.6 L1714.4,156.6 L1716.5,156.1 L1720.5,155.0 L1729.5,151.9 L1738.5,148.9 L1747.5,145.8 L1807.2,145.8 L1816.2,148.9 L1825.2,151.9 L1834.2,155.0 L1838.2,156.1 L1842.2,157.1 L1850.2,159.0 L1858.2,160.6 L1866.2,162.0 L1874.2,163.2 L1882.2,164.3 L1890.2,165.2 L1898.2,166.0 L1906.2,166.7 L1914.2,167.3 L1922.2,167.9 L1930.2,168.3 L1938.2,168.8 L1946.2,169.1 L1954.2,169.4 L1962.2,169.7 L1970.2,169.9 L1978.2,170.1 L1986.2,170.3 L1994.2,170.5 L2002.2,170.6 L2010.2,170.7 L2018.2,170.8 L2026.2,170.9 L2034.2,171.0 L2042.2,171.0 L2050.2,171.1 L2058.2,171.2 L2063.0,171.2 L2063.0,358.0Z" fill="#facd00"/>
<path d="M1490.4,358.0 L1490.4,192.2 L1498.4,192.2 L1506.4,192.1 L1514.4,192.1 L1522.4,192.0 L1530.4,192.0 L1538.4,191.9 L1546.4,191.8 L1554.4,191.7 L1562.4,191.6 L1570.4,191.4 L1578.4,191.2 L1586.4,191.1 L1594.4,190.9 L1602.4,190.6 L1610.4,190.3 L1618.4,190.0 L1626.4,189.6 L1634.4,189.2 L1642.4,188.7 L1650.4,188.2 L1658.4,187.5 L1666.4,186.8 L1674.4,186.0 L1682.4,185.0 L1690.4,183.9 L1698.4,182.6 L1706.4,181.1 L1714.4,179.4 L1716.5,179.0 L1720.5,178.0 L1729.5,174.2 L1738.5,170.3 L1747.5,166.5 L1807.2,166.5 L1816.2,170.3 L1825.2,174.2 L1834.2,178.0 L1838.2,179.0 L1842.2,179.9 L1850.2,181.5 L1858.2,182.9 L1866.2,184.1 L1874.2,185.2 L1882.2,186.2 L1890.2,187.0 L1898.2,187.7 L1906.2,188.3 L1914.2,188.8 L1922.2,189.3 L1930.2,189.7 L1938.2,190.1 L1946.2,190.4 L1954.2,190.7 L1962.2,190.9 L1970.2,191.1 L1978.2,191.3 L1986.2,191.4 L1994.2,191.6 L2002.2,191.7 L2010.2,191.8 L2018.2,191.9 L2026.2,192.0 L2034.2,192.0 L2042.2,192.1 L2050.2,192.2 L2058.2,192.2 L2063.0,192.2 L2063.0,358.0Z" fill="#fafa00"/>
<path d="M1490.4,358.0 L1490.4,212.1 L1498.4,212.1 L1506.4,212.0 L1514.4,212.0 L1522.4,211.9 L1530.4,211.8 L1538.4,211.8 L1546.4,211.7 L1554.4,211.5 L1562.4,211.4 L1570.4,211.3 L1578.4,211.1 L1586.4,210.9 L1594.4,210.7 L1602.4,210.5 L1610.4,210.2 L1618.4,209.8 L1626.4,209.5 L1634.4,209.0 L1642.4,208.5 L1650.4,208.0 L1658.4,207.3 L1666.4,206.5 L1674.4,205.7 L1682.4,204.7 L1690.4,203.5 L1698.4,202.2 L1706.4,200.7 L1714.4,199.0 L1716.5,198.5 L1720.5,197.5 L1729.5,193.6 L1738.5,189.8 L1747.5,185.9 L1807.2,185.9 L1816.2,189.8 L1825.2,193.6 L1834.2,197.5 L1838.2,198.5 L1842.2,199.4 L1850.2,201.1 L1858.2,202.5 L1866.2,203.8 L1874.2,204.9 L1882.2,205.9 L1890.2,206.7 L1898.2,207.5 L1906.2,208.1 L1914.2,208.6 L1922.2,209.1 L1930.2,209.6 L1938.2,209.9 L1946.2,210.2 L1954.2,210.5 L1962.2,210.8 L1970.2,211.0 L1978.2,211.2 L1986.2,211.3 L1994.2,211.5 L2002.2,211.6 L2010.2,211.7 L2018.2,211.8 L2026.2,211.9 L2034.2,211.9 L2042.2,212.0 L2050.2,212.0 L2058.2,212.1 L2063.0,212.1 L2063.0,358.0Z" fill="#c8fa00"/>
<path d="M1490.4,358.0 L1490.4,230.4 L1498.4,230.4 L1506.4,230.3 L1514.4,230.3 L1522.4,230.2 L1530.4,230.2 L1538.4,230.1 L1546.4,230.0 L1554.4,229.9 L1562.4,229.8 L1570.4,229.6 L1578.4,229.5 L1586.4,229.3 L1594.4,229.1 L1602.4,228.8 L1610.4,228.6 L1618.4,228.3 L1626.4,227.9 L1634.4,227.5 L1642.4,227.0 L1650.4,226.5 L1658.4,225.8 L1666.4,225.1 L1674.4,224.3 L1682.4,223.3 L1690.4,222.2 L1698.4,221.0 L1706.4,219.6 L1714.4,217.9 L1716.5,217.4 L1720.5,216.5 L1729.5,212.3 L1738.5,208.2 L1747.5,204.0 L1807.2,204.0 L1816.2,208.2 L1825.2,212.3 L1834.2,216.5 L1838.2,217.4 L1842.2,218.3 L1850.2,219.9 L1858.2,221.3 L1866.2,222.5 L1874.2,223.6 L1882.2,224.5 L1890.2,225.3 L1898.2,226.0 L1906.2,226.6 L1914.2,227.1 L1922.2,227.6 L1930.2,228.0 L1938.2,228.3 L1946.2,228.6 L1954.2,228.9 L1962.2,229.1 L1970.2,229.3 L1978.2,229.5 L1986.2,229.7 L1994.2,229.8 L2002.2,229.9 L2010.2,230.0 L2018.2,230.1 L2026.2,230.2 L2034.2,230.2 L2042.2,230.3 L2050.2,230.4 L2058.2,230.4 L2063.0,230.4 L2063.0,358.0Z" fill="#8cfa00"/>
<path d="M1490.4,358.0 L1490.4,249.3 L1498.4,249.2 L1506.4,249.2 L1514.4,249.1 L1522.4,249.1 L1530.4,249.0 L1538.4,248.9 L1546.4,248.9 L1554.4,248.8 L1562.4,248.6 L1570.4,248.5 L1578.4,248.4 L1586.4,248.2 L1594.4,248.0 L1602.4,247.8 L1610.4,247.6 L1618.4,247.3 L1626.4,246.9 L1634.4,246.6 L1642.4,246.1 L1650.4,245.6 L1658.4,245.0 L1666.4,244.4 L1674.4,243.6 L1682.4,242.8 L1690.4,241.8 L1698.4,240.6 L1706.4,239.3 L1714.4,237.8 L1716.5,237.4 L1720.5,236.5 L1729.5,231.7 L1738.5,226.8 L1747.5,222.0 L1807.2,222.0 L1816.2,226.8 L1825.2,231.7 L1834.2,236.5 L1838.2,237.4 L1842.2,238.2 L1850.2,239.6 L1858.2,240.9 L1866.2,242.0 L1874.2,243.0 L1882.2,243.8 L1890.2,244.5 L1898.2,245.2 L1906.2,245.7 L1914.2,246.2 L1922.2,246.6 L1930.2,247.0 L1938.2,247.3 L1946.2,247.6 L1954.2,247.9 L1962.2,248.1 L1970.2,248.3 L1978.2,248.4 L1986.2,248.6 L1994.2,248.7 L2002.2,248.8 L2010.2,248.9 L2018.2,249.0 L2026.2,249.0 L2034.2,249.1 L2042.2,249.1 L2050.2,249.2 L2058.2,249.2 L2063.0,249.2 L2063.0,358.0Z" fill="#3cf500"/>
<path d="M1490.4,358.0 L1490.4,263.5 L1498.4,263.5 L1506.4,263.4 L1514.4,263.4 L1522.4,263.3 L1530.4,263.3 L1538.4,263.2 L1546.4,263.2 L1554.4,263.1 L1562.4,263.0 L1570.4,262.9 L1578.4,262.8 L1586.4,262.6 L1594.4,262.5 L1602.4,262.3 L1610.4,262.1 L1618.4,261.9 L1626.4,261.6 L1634.4,261.3 L1642.4,260.9 L1650.4,260.5 L1658.4,260.0 L1666.4,259.5 L1674.4,258.9 L1682.4,258.2 L1690.4,257.3 L1698.4,256.4 L1706.4,255.3 L1714.4,254.1 L1716.5,253.7 L1720.5,253.0 L1729.5,248.3 L1738.5,243.5 L1747.5,238.8 L1807.2,238.8 L1816.2,243.5 L1825.2,248.3 L1834.2,253.0 L1838.2,253.7 L1842.2,254.4 L1850.2,255.6 L1858.2,256.6 L1866.2,257.5 L1874.2,258.3 L1882.2,259.0 L1890.2,259.6 L1898.2,260.2 L1906.2,260.6 L1914.2,261.0 L1922.2,261.4 L1930.2,261.7 L1938.2,261.9 L1946.2,262.1 L1954.2,262.3 L1962.2,262.5 L1970.2,262.7 L1978.2,262.8 L1986.2,262.9 L1994.2,263.0 L2002.2,263.1 L2010.2,263.2 L2018.2,263.3 L2026.2,263.3 L2034.2,263.4 L2042.2,263.4 L2050.2,263.4 L2058.2,263.5 L2063.0,263.5 L2063.0,358.0Z" fill="#00f00a"/>
<path d="M1490.4,358.0 L1490.4,280.3 L1498.4,280.2 L1506.4,280.2 L1514.4,280.2 L1522.4,280.1 L1530.4,280.1 L1538.4,280.0 L1546.4,279.9 L1554.4,279.8 L1562.4,279.7 L1570.4,279.6 L1578.4,279.5 L1586.4,279.3 L1594.4,279.2 L1602.4,279.0 L1610.4,278.7 L1618.4,278.5 L1626.4,278.2 L1634.4,277.8 L1642.4,277.5 L1650.4,277.0 L1658.4,276.5 L1666.4,275.9 L1674.4,275.2 L1682.4,274.4 L1690.4,273.5 L1698.4,272.5 L1706.4,271.3 L1714.4,270.0 L1716.5,269.6 L1720.5,268.8 L1729.5,264.8 L1738.5,260.9 L1747.5,256.9 L1807.2,256.9 L1816.2,260.9 L1825.2,264.8 L1834.2,268.8 L1838.2,269.6 L1842.2,270.3 L1850.2,271.6 L1858.2,272.8 L1866.2,273.8 L1874.2,274.6 L1882.2,275.4 L1890.2,276.0 L1898.2,276.6 L1906.2,277.1 L1914.2,277.6 L1922.2,277.9 L1930.2,278.3 L1938.2,278.6 L1946.2,278.8 L1954.2,279.0 L1962.2,279.2 L1970.2,279.4 L1978.2,279.5 L1986.2,279.6 L1994.2,279.8 L2002.2,279.9 L2010.2,279.9 L2018.2,280.0 L2026.2,280.1 L2034.2,280.1 L2042.2,280.2 L2050.2,280.2 L2058.2,280.3 L2063.0,280.3 L2063.0,358.0Z" fill="#00f564"/>
<path d="M1490.4,358.0 L1490.4,294.5 L1498.4,294.5 L1506.4,294.5 L1514.4,294.4 L1522.4,294.4 L1530.4,294.3 L1538.4,294.3 L1546.4,294.2 L1554.4,294.1 L1562.4,294.1 L1570.4,294.0 L1578.4,293.8 L1586.4,293.7 L1594.4,293.6 L1602.4,293.4 L1610.4,293.2 L1618.4,293.0 L1626.4,292.7 L1634.4,292.5 L1642.4,292.1 L1650.4,291.7 L1658.4,291.3 L1666.4,290.8 L1674.4,290.2 L1682.4,289.6 L1690.4,288.8 L1698.4,287.9 L1706.4,286.9 L1714.4,285.8 L1716.5,285.5 L1720.5,284.8 L1729.5,281.1 L1738.5,277.3 L1747.5,273.6 L1807.2,273.6 L1816.2,277.3 L1825.2,281.1 L1834.2,284.8 L1838.2,285.5 L1842.2,286.1 L1850.2,287.2 L1858.2,288.2 L1866.2,289.0 L1874.2,289.7 L1882.2,290.4 L1890.2,290.9 L1898.2,291.4 L1906.2,291.8 L1914.2,292.2 L1922.2,292.5 L1930.2,292.8 L1938.2,293.1 L1946.2,293.3 L1954.2,293.4 L1962.2,293.6 L1970.2,293.8 L1978.2,293.9 L1986.2,294.0 L1994.2,294.1 L2002.2,294.2 L2010.2,294.2 L2018.2,294.3 L2026.2,294.3 L2034.2,294.4 L2042.2,294.4 L2050.2,294.5 L2058.2,294.5 L2063.0,294.5 L2063.0,358.0Z" fill="#00f5a0"/>
<path d="M1490.4,358.0 L1490.4,304.9 L1498.4,304.8 L1506.4,304.8 L1514.4,304.8 L1522.4,304.8 L1530.4,304.7 L1538.4,304.7 L1546.4,304.6 L1554.4,304.6 L1562.4,304.5 L1570.4,304.4 L1578.4,304.4 L1586.4,304.3 L1594.4,304.1 L1602.4,304.0 L1610.4,303.9 L1618.4,303.7 L1626.4,303.5 L1634.4,303.3 L1642.4,303.0 L1650.4,302.8 L1658.4,302.4 L1666.4,302.0 L1674.4,301.6 L1682.4,301.1 L1690.4,300.5 L1698.4,299.9 L1706.4,299.1 L1714.4,298.2 L1716.5,298.0 L1720.5,297.5 L1729.5,295.6 L1738.5,293.6 L1747.5,291.7 L1807.2,291.7 L1816.2,293.6 L1825.2,295.6 L1834.2,297.5 L1838.2,298.0 L1842.2,298.5 L1850.2,299.3 L1858.2,300.0 L1866.2,300.7 L1874.2,301.2 L1882.2,301.7 L1890.2,302.1 L1898.2,302.5 L1906.2,302.8 L1914.2,303.1 L1922.2,303.4 L1930.2,303.6 L1938.2,303.8 L1946.2,303.9 L1954.2,304.1 L1962.2,304.2 L1970.2,304.3 L1978.2,304.4 L1986.2,304.5 L1994.2,304.5 L2002.2,304.6 L2010.2,304.6 L2018.2,304.7 L2026.2,304.7 L2034.2,304.8 L2042.2,304.8 L2050.2,304.8 L2058.2,304.8 L2063.0,304.9 L2063.0,358.0Z" fill="#00f5d2"/>
<path d="M1490.4,358.0 L1490.4,315.3 L1498.4,315.3 L1506.4,315.3 L1514.4,315.2 L1522.4,315.2 L1530.4,315.2 L1538.4,315.1 L1546.4,315.1 L1554.4,315.1 L1562.4,315.0 L1570.4,315.0 L1578.4,314.9 L1586.4,314.8 L1594.4,314.7 L1602.4,314.6 L1610.4,314.5 L1618.4,314.4 L1626.4,314.3 L1634.4,314.1 L1642.4,313.9 L1650.4,313.7 L1658.4,313.4 L1666.4,313.1 L1674.4,312.8 L1682.4,312.4 L1690.4,311.9 L1698.4,311.4 L1706.4,310.9 L1714.4,310.2 L1716.5,310.0 L1720.5,309.6 L1729.5,307.4 L1738.5,305.2 L1747.5,303.0 L1807.2,303.0 L1816.2,305.2 L1825.2,307.4 L1834.2,309.6 L1838.2,310.0 L1842.2,310.3 L1850.2,311.0 L1858.2,311.6 L1866.2,312.1 L1874.2,312.5 L1882.2,312.9 L1890.2,313.2 L1898.2,313.5 L1906.2,313.7 L1914.2,313.9 L1922.2,314.1 L1930.2,314.3 L1938.2,314.4 L1946.2,314.6 L1954.2,314.7 L1962.2,314.8 L1970.2,314.8 L1978.2,314.9 L1986.2,315.0 L1994.2,315.0 L2002.2,315.1 L2010.2,315.1 L2018.2,315.2 L2026.2,315.2 L2034.2,315.2 L2042.2,315.2 L2050.2,315.3 L2058.2,315.3 L2063.0,315.3 L2063.0,358.0Z" fill="#00e6f5"/>
<path d="M1490.4,358.0 L1490.4,325.6 L1498.4,325.6 L1506.4,325.6 L1514.4,325.6 L1522.4,325.6 L1530.4,325.6 L1538.4,325.6 L1546.4,325.5 L1554.4,325.5 L1562.4,325.5 L1570.4,325.5 L1578.4,325.4 L1586.4,325.4 L1594.4,325.3 L1602.4,325.3 L1610.4,325.2 L1618.4,325.1 L1626.4,325.1 L1634.4,325.0 L1642.4,324.9 L1650.4,324.7 L1658.4,324.6 L1666.4,324.4 L1674.4,324.3 L1682.4,324.0 L1690.4,323.8 L1698.4,323.5 L1706.4,323.2 L1714.4,322.8 L1716.5,322.7 L1720.5,322.5 L1729.5,320.0 L1738.5,317.5 L1747.5,315.0 L1807.2,315.0 L1816.2,317.5 L1825.2,320.0 L1834.2,322.5 L1838.2,322.7 L1842.2,322.9 L1850.2,323.3 L1858.2,323.6 L1866.2,323.9 L1874.2,324.1 L1882.2,324.3 L1890.2,324.5 L1898.2,324.6 L1906.2,324.8 L1914.2,324.9 L1922.2,325.0 L1930.2,325.1 L1938.2,325.2 L1946.2,325.2 L1954.2,325.3 L1962.2,325.3 L1970.2,325.4 L1978.2,325.4 L1986.2,325.5 L1994.2,325.5 L2002.2,325.5 L2010.2,325.5 L2018.2,325.6 L2026.2,325.6 L2034.2,325.6 L2042.2,325.6 L2050.2,325.6 L2058.2,325.6 L2063.0,325.6 L2063.0,358.0Z" fill="#00befa"/>
<path d="M1490.4,358.0 L1490.4,336.0 L1498.4,336.0 L1506.4,336.0 L1514.4,336.0 L1522.4,336.0 L1530.4,335.9 L1538.4,335.9 L1546.4,335.9 L1554.4,335.9 L1562.4,335.9 L1570.4,335.9 L1578.4,335.9 L1586.4,335.9 L1594.4,335.8 L1602.4,335.8 L1610.4,335.8 L1618.4,335.8 L1626.4,335.7 L1634.4,335.7 L1642.4,335.6 L1650.4,335.6 L1658.4,335.5 L1666.4,335.4 L1674.4,335.4 L1682.4,335.3 L1690.4,335.2 L1698.4,335.0 L1706.4,334.9 L1714.4,334.7 L1716.5,334.7 L1720.5,334.6 L1729.5,334.7 L1738.5,334.9 L1747.5,335.0 L1807.2,335.0 L1816.2,334.9 L1825.2,334.7 L1834.2,334.6 L1838.2,334.7 L1842.2,334.8 L1850.2,334.9 L1858.2,335.1 L1866.2,335.2 L1874.2,335.3 L1882.2,335.4 L1890.2,335.5 L1898.2,335.5 L1906.2,335.6 L1914.2,335.6 L1922.2,335.7 L1930.2,335.7 L1938.2,335.8 L1946.2,335.8 L1954.2,335.8 L1962.2,335.8 L1970.2,335.9 L1978.2,335.9 L1986.2,335.9 L1994.2,335.9 L2002.2,335.9 L2010.2,335.9 L2018.2,335.9 L2026.2,335.9 L2034.2,336.0 L2042.2,336.0 L2050.2,336.0 L2058.2,336.0 L2063.0,336.0 L2063.0,358.0Z" fill="#008cfa"/>
<path d="M1490.4,358.0 L1490.4,349.0 L1498.4,348.9 L1506.4,348.9 L1514.4,348.9 L1522.4,348.9 L1530.4,348.9 L1538.4,348.9 L1546.4,348.9 L1554.4,348.9 L1562.4,348.8 L1570.4,348.8 L1578.4,348.8 L1586.4,348.8 L1594.4,348.7 L1602.4,348.7 L1610.4,348.6 L1618.4,348.6 L1626.4,348.5 L1634.4,348.4 L1642.4,348.3 L1650.4,348.3 L1658.4,348.1 L1666.4,348.0 L1674.4,347.9 L1682.4,347.7 L1690.4,347.5 L1698.4,347.3 L1706.4,347.0 L1714.4,346.7 L1716.5,346.7 L1720.5,346.5 L1729.5,348.3 L1738.5,350.2 L1747.5,352.0 L1807.2,352.0 L1816.2,350.2 L1825.2,348.3 L1834.2,346.5 L1838.2,346.7 L1842.2,346.8 L1850.2,347.1 L1858.2,347.3 L1866.2,347.6 L1874.2,347.7 L1882.2,347.9 L1890.2,348.0 L1898.2,348.2 L1906.2,348.3 L1914.2,348.4 L1922.2,348.5 L1930.2,348.5 L1938.2,348.6 L1946.2,348.6 L1954.2,348.7 L1962.2,348.7 L1970.2,348.8 L1978.2,348.8 L1986.2,348.8 L1994.2,348.8 L2002.2,348.9 L2010.2,348.9 L2018.2,348.9 L2026.2,348.9 L2034.2,348.9 L2042.2,348.9 L2050.2,348.9 L2058.2,348.9 L2063.0,349.0 L2063.0,358.0Z" fill="#006efa"/>
<rect x="1491.9" y="352.5" width="570.0999999999999" height="182" fill="#0058fa"/>
<path d="M1724.6,349.5 H1830 V358 H1724.6Z" fill="#0064fa"/>
<path d="M1737,347.5 H1813 C1809,351 1807,354 1806,356.5 C1805,364 1803,368.7 1797,368.7 H1757 C1751,368.7 1746,364 1745,356.5 C1743,353.5 1741,350.5 1737,347.5Z" fill="#2aa0fa"/>
<line x1="1725" y1="355.4" x2="1830.5" y2="355.4" stroke="#7a9ad8" stroke-width="1" opacity="0.8"/>
<path d="M1491.9,485 L1570,485.3 L1626,489.5 L1682.5,495 L1724.6,498.7 L1766,501.3 L1795,501.3 L1851,496.5 L1907,490.9 L1963,486.7 L2005,484.7 L2061.5,484.5 V534.5 H1491.9Z" fill="#0000f5"/>
<path d="M1492.6,349 V129.0 H1718.6 V349" fill="none" stroke="#1a76c8" stroke-width="4.6"/>
<path d="M1837.1,349 V129.2 H2060.8 V349" fill="none" stroke="#1a76c8" stroke-width="4.6"/>
<rect x="1490.4" y="346.4" width="230" height="5.5" fill="#1a76c8"/>
<rect x="1834.6" y="346.4" width="228.4" height="5.5" fill="#1a76c8"/>
<rect x="1721" y="125.4" width="113.6" height="3.8" fill="#c9b9b4"/>
<path d="M1722.5,129 V355.4 H1493.0 V533.8 H2061 V355.4 H1832.3 V129" fill="none" stroke="#f58220" stroke-width="5.2"/>
<rect x="1720.8" y="129" width="4.6" height="60" fill="#e89060" opacity="0.0"/>
<text x="1723.6" y="27" font-family='"Liberation Serif", serif' font-size="34.5" font-weight="bold" fill="#10a84c" text-anchor="start" textLength="105.5" lengthAdjust="spacingAndGlyphs" >Nitride</text>
<text x="1506" y="95.2" font-family='"Liberation Serif", serif' font-size="45.5" font-weight="bold" fill="#fff" text-anchor="start" textLength="40" lengthAdjust="spacingAndGlyphs" >Si</text>
<text x="1565.2" y="245.6" font-family='"Liberation Serif", serif' font-weight="bold" fill="#1a72be"><tspan font-size="47" textLength="74" lengthAdjust="spacingAndGlyphs">SiO</tspan><tspan font-size="30" dy="9.6">2</tspan></text>
<text x="1905" y="245.6" font-family='"Liberation Serif", serif' font-weight="bold" fill="#1a72be"><tspan font-size="47" textLength="74" lengthAdjust="spacingAndGlyphs">SiO</tspan><tspan font-size="30" dy="9.6">2</tspan></text>
<line x1="1779.0" y1="356.0" x2="1745.6" y2="392.2" stroke="#f01428" stroke-width="3.4"/>
<polygon points="1737.5,401.0 1742.0,388.8 1749.3,395.6" fill="#f01428"/>
<text x="1671.3" y="447.3" font-family='"Liberation Serif", serif' font-weight="bold" fill="#f2141e" font-size="45.5"><tspan textLength="69" lengthAdjust="spacingAndGlyphs">385</tspan><tspan x="1742" dy="-15.6" font-size="33">o</tspan><tspan x="1757.5" dy="15.6" textLength="33.5" lengthAdjust="spacingAndGlyphs">C</tspan></text>
<text x="1934.5" y="455.3" font-family='"Liberation Serif", serif' font-size="45" font-weight="bold" fill="#fff" text-anchor="start" textLength="74" lengthAdjust="spacingAndGlyphs" >c-Si</text>
<text x="1505.4" y="493" font-family='"Liberation Sans", sans-serif' font-size="33.5" font-weight="normal" fill="#fff" text-anchor="start" textLength="41" lengthAdjust="spacingAndGlyphs" >(c)</text>
</g>
</g>
</svg>
</body></html>
